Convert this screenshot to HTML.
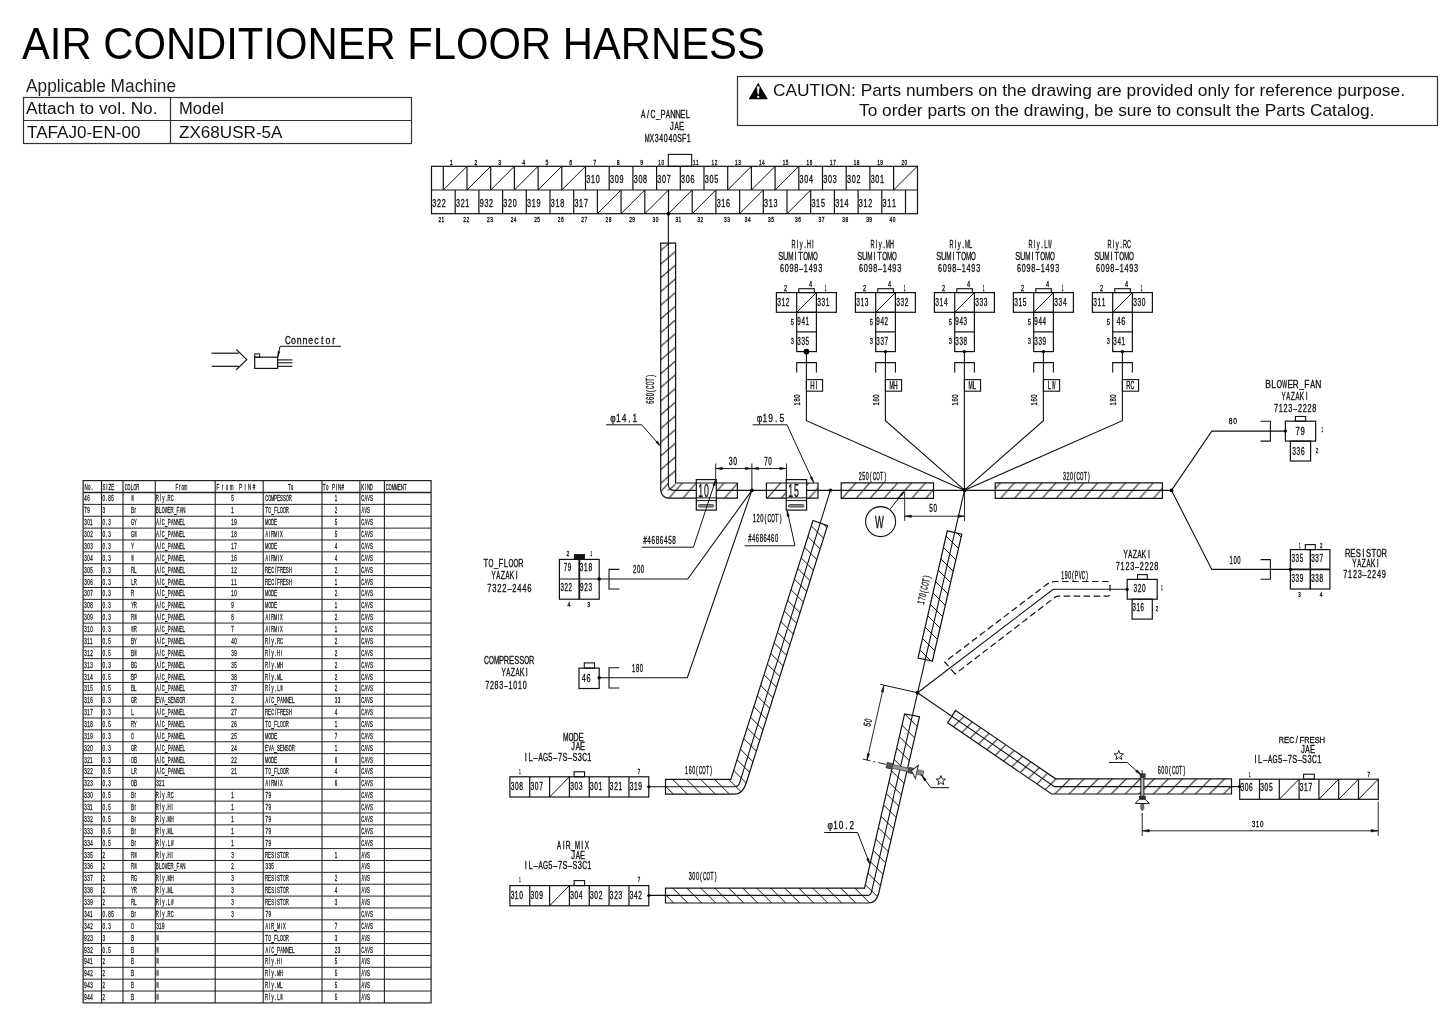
<!DOCTYPE html><html><head><meta charset="utf-8"><title>Air Conditioner Floor Harness</title><style>html,body{margin:0;padding:0;background:#fff;width:1445px;height:1021px;overflow:hidden;}svg{display:block;font-family:"Liberation Sans",sans-serif;will-change:transform;}</style></head><body><svg width="1445" height="1021" viewBox="0 0 1445 1021" font-family="'Liberation Sans', sans-serif" shape-rendering="auto"><defs><pattern id="hA1" patternUnits="userSpaceOnUse" width="16.07" height="13.7" patternTransform="translate(6.27,0)"><path d="M-16.07,13.7 L0,0 M0,13.7 L16.07,0 M16.07,13.7 L32.14,0" stroke="#111" stroke-width="1" fill="none"/></pattern><pattern id="hA2" patternUnits="userSpaceOnUse" width="13.9" height="15.86" patternTransform="translate(7.5,0)"><path d="M-13.9,15.86 L0,0 M0,15.86 L13.9,0 M13.9,15.86 L27.8,0" stroke="#111" stroke-width="1" fill="none"/></pattern><pattern id="hB" patternUnits="userSpaceOnUse" width="13.9" height="15.86" patternTransform="translate(8.5,0)"><path d="M-13.9,15.86 L0,0 M0,15.86 L13.9,0 M13.9,15.86 L27.8,0" stroke="#111" stroke-width="1" fill="none"/></pattern><pattern id="hC" patternUnits="userSpaceOnUse" width="13.9" height="15.86" patternTransform="translate(0.3,0)"><path d="M-13.9,15.86 L0,0 M0,15.86 L13.9,0 M13.9,15.86 L27.8,0" stroke="#111" stroke-width="1" fill="none"/></pattern><pattern id="hD" patternUnits="userSpaceOnUse" width="13.9" height="15.86" patternTransform="translate(5.7,0)"><path d="M-13.9,15.86 L0,0 M0,15.86 L13.9,0 M13.9,15.86 L27.8,0" stroke="#111" stroke-width="1" fill="none"/></pattern><pattern id="hE" patternUnits="userSpaceOnUse" width="14" height="14" patternTransform="translate(5.3,0)"><path d="M-14,0 L0,14 M0,0 L14,14 M14,0 L28,14" stroke="#111" stroke-width="1" fill="none"/></pattern><pattern id="hF" patternUnits="userSpaceOnUse" width="14" height="14" patternTransform="translate(8.7,0)"><path d="M-14,0 L0,14 M0,0 L14,14 M14,0 L28,14" stroke="#111" stroke-width="1" fill="none"/></pattern><pattern id="hG" patternUnits="userSpaceOnUse" width="14" height="14" patternTransform="translate(4,0)"><path d="M-14,0 L0,14 M0,0 L14,14 M14,0 L28,14" stroke="#111" stroke-width="1" fill="none"/></pattern><pattern id="hH" patternUnits="userSpaceOnUse" width="14.05" height="14.05" patternTransform="translate(8.4,0)"><path d="M-14.05,14.05 L0,0 M0,14.05 L14.05,0 M14.05,14.05 L28.1,0" stroke="#111" stroke-width="1" fill="none"/></pattern></defs><rect x="0" y="0" width="1445" height="1021" fill="#fff"/><text x="22" y="58.7" font-size="43.46" textLength="742.8" lengthAdjust="spacingAndGlyphs" fill="#000">AIR CONDITIONER FLOOR HARNESS</text>
<text x="26" y="91.8" font-size="17.73" textLength="150" lengthAdjust="spacingAndGlyphs" fill="#222">Applicable Machine</text>
<rect x="23.5" y="97.5" width="388" height="46" fill="none" stroke="#333" stroke-width="1.2"/>
<line x1="23.5" y1="120.5" x2="411.5" y2="120.5" stroke="#333" stroke-width="1.2"/>
<line x1="170.5" y1="97.5" x2="170.5" y2="143.5" stroke="#333" stroke-width="1.2"/>
<text x="26" y="114.2" font-size="17.3" textLength="131.5" lengthAdjust="spacingAndGlyphs" fill="#111">Attach to vol. No.</text>
<text x="179" y="114.2" font-size="17.3" textLength="45" lengthAdjust="spacingAndGlyphs" fill="#111">Model</text>
<text x="27" y="138.2" font-size="17.15" textLength="113.5" lengthAdjust="spacingAndGlyphs" fill="#111">TAFAJ0-EN-00</text>
<text x="179" y="138.2" font-size="17.15" textLength="103.5" lengthAdjust="spacingAndGlyphs" fill="#111">ZX68USR-5A</text>
<rect x="737.5" y="76.5" width="700" height="49" fill="none" stroke="#333" stroke-width="1.2"/>
<polygon points="749.6,98.7 758.2,84 766.8,98.7" fill="#000" stroke="#000" stroke-width="1.2" stroke-linejoin="miter" stroke-linejoin="round"/>
<polygon points="756.9,86.6 759.5,86.6 758.6,94.2 757.8,94.2" fill="#fff" stroke="#fff" stroke-width="0.3" stroke-linejoin="miter"/>
<circle cx="758.2" cy="96.9" r="1.1" fill="#fff"/>
<text x="773" y="95.6" font-size="15.7" textLength="632" lengthAdjust="spacingAndGlyphs" fill="#111">CAUTION: Parts numbers on the drawing are provided only for reference purpose.</text>
<text x="859" y="116.2" font-size="15.7" textLength="515.5" lengthAdjust="spacingAndGlyphs" fill="#111">To order parts on the drawing, be sure to consult the Parts Catalog.</text>
<text xml:space="preserve" x="975.62 983.18 990.73 998.29 1005.67 1013.39 1020.95 1028.5 1035.83 1043.33" y="118.3" font-size="11.48" text-anchor="middle" fill="#111" transform="scale(0.6592 1)" stroke="#111" stroke-width="0.3" vector-effect="non-scaling-stroke"> /  P NNEL</text><text x="1143.4" y="118.3" font-size="11.48" text-anchor="middle" fill="#111" transform="scale(0.5624 1)" stroke="#111" stroke-width="0.3" vector-effect="non-scaling-stroke">A</text><text x="1108.87" y="118.3" font-size="11.48" text-anchor="middle" fill="#111" transform="scale(0.5889 1)" stroke="#111" stroke-width="0.3" vector-effect="non-scaling-stroke">C</text><text x="1027.83" y="118.3" font-size="11.48" text-anchor="middle" fill="#111" transform="scale(0.6402 1)" stroke="#111" stroke-width="0.3" vector-effect="non-scaling-stroke">_</text><text x="1187.66" y="118.3" font-size="11.48" text-anchor="middle" fill="#111" transform="scale(0.5624 1)" stroke="#111" stroke-width="0.3" vector-effect="non-scaling-stroke">A</text>
<text xml:space="preserve" x="989.48 996.52 1003.66" y="129.8" font-size="11.19" text-anchor="middle" fill="#111" transform="scale(0.6791 1)" stroke="#111" stroke-width="0.3" vector-effect="non-scaling-stroke">J E</text><text x="1167.88" y="129.8" font-size="11.19" text-anchor="middle" fill="#111" transform="scale(0.5794 1)" stroke="#111" stroke-width="0.3" vector-effect="non-scaling-stroke">A</text>
<text xml:space="preserve" x="1033.8 1041.16 1048.56 1055.92 1063.25 1070.65 1077.98 1085.34 1092.47 1099.91" y="142.2" font-size="11.19" text-anchor="middle" fill="#111" transform="scale(0.6262 1)" stroke="#111" stroke-width="0.3" vector-effect="non-scaling-stroke">  34040 F1</text><text x="1222.28" y="142.2" font-size="11.19" text-anchor="middle" fill="#111" transform="scale(0.5296 1)" stroke="#111" stroke-width="0.3" vector-effect="non-scaling-stroke">M</text><text x="1147.42" y="142.2" font-size="11.19" text-anchor="middle" fill="#111" transform="scale(0.5682 1)" stroke="#111" stroke-width="0.3" vector-effect="non-scaling-stroke">X</text><text x="1104.32" y="142.2" font-size="11.19" text-anchor="middle" fill="#111" transform="scale(0.6154 1)" stroke="#111" stroke-width="0.3" vector-effect="non-scaling-stroke">S</text>
<rect x="668.3" y="154.4" width="23.4" height="11.9" fill="none" stroke="#111" stroke-width="1.1"/>
<rect x="431.5" y="166.3" width="486" height="47.4" fill="none" stroke="#111" stroke-width="1.2"/>
<line x1="431.5" y1="190" x2="917.5" y2="190" stroke="#111" stroke-width="1.2"/>
<line x1="443.3" y1="166.3" x2="443.3" y2="190" stroke="#111" stroke-width="1.2"/>
<line x1="443.3" y1="190" x2="467" y2="166.3" stroke="#111" stroke-width="1"/>
<text xml:space="preserve" x="681.08" y="164.7" font-size="7.85" text-anchor="middle" fill="#111" transform="scale(0.6625 1)" stroke="#111" stroke-width="0.3" vector-effect="non-scaling-stroke">1</text>
<line x1="467" y1="166.3" x2="467" y2="190" stroke="#111" stroke-width="1.2"/>
<line x1="467" y1="190" x2="490.7" y2="166.3" stroke="#111" stroke-width="1"/>
<text xml:space="preserve" x="718.47" y="164.7" font-size="7.85" text-anchor="middle" fill="#111" transform="scale(0.6625 1)" stroke="#111" stroke-width="0.3" vector-effect="non-scaling-stroke">2</text>
<line x1="490.7" y1="166.3" x2="490.7" y2="190" stroke="#111" stroke-width="1.2"/>
<line x1="490.7" y1="190" x2="514.4" y2="166.3" stroke="#111" stroke-width="1"/>
<text xml:space="preserve" x="754.27" y="164.7" font-size="7.85" text-anchor="middle" fill="#111" transform="scale(0.6625 1)" stroke="#111" stroke-width="0.3" vector-effect="non-scaling-stroke">3</text>
<line x1="514.4" y1="166.3" x2="514.4" y2="190" stroke="#111" stroke-width="1.2"/>
<line x1="514.4" y1="190" x2="538.1" y2="166.3" stroke="#111" stroke-width="1"/>
<text xml:space="preserve" x="790.34" y="164.7" font-size="7.85" text-anchor="middle" fill="#111" transform="scale(0.6625 1)" stroke="#111" stroke-width="0.3" vector-effect="non-scaling-stroke">4</text>
<line x1="538.1" y1="166.3" x2="538.1" y2="190" stroke="#111" stroke-width="1.2"/>
<line x1="538.1" y1="190" x2="561.8" y2="166.3" stroke="#111" stroke-width="1"/>
<text xml:space="preserve" x="825.64" y="164.7" font-size="7.85" text-anchor="middle" fill="#111" transform="scale(0.6625 1)" stroke="#111" stroke-width="0.3" vector-effect="non-scaling-stroke">5</text>
<line x1="561.8" y1="166.3" x2="561.8" y2="190" stroke="#111" stroke-width="1.2"/>
<line x1="561.8" y1="190" x2="585.5" y2="166.3" stroke="#111" stroke-width="1"/>
<text xml:space="preserve" x="861.53" y="164.7" font-size="7.85" text-anchor="middle" fill="#111" transform="scale(0.6625 1)" stroke="#111" stroke-width="0.3" vector-effect="non-scaling-stroke">6</text>
<line x1="585.5" y1="166.3" x2="585.5" y2="190" stroke="#111" stroke-width="1.2"/>
<text xml:space="preserve" x="868.56 875.37 882.49" y="183.5" font-size="10.61" text-anchor="middle" fill="#111" transform="scale(0.6773 1)" stroke="#111" stroke-width="0.3" vector-effect="non-scaling-stroke">310</text>
<text xml:space="preserve" x="897.48" y="164.7" font-size="7.85" text-anchor="middle" fill="#111" transform="scale(0.6625 1)" stroke="#111" stroke-width="0.3" vector-effect="non-scaling-stroke">7</text>
<line x1="609.2" y1="166.3" x2="609.2" y2="190" stroke="#111" stroke-width="1.2"/>
<text xml:space="preserve" x="903.55 910.5 917.49" y="183.5" font-size="10.61" text-anchor="middle" fill="#111" transform="scale(0.6773 1)" stroke="#111" stroke-width="0.3" vector-effect="non-scaling-stroke">309</text>
<text xml:space="preserve" x="933.26" y="164.7" font-size="7.85" text-anchor="middle" fill="#111" transform="scale(0.6625 1)" stroke="#111" stroke-width="0.3" vector-effect="non-scaling-stroke">8</text>
<line x1="632.9" y1="166.3" x2="632.9" y2="190" stroke="#111" stroke-width="1.2"/>
<text xml:space="preserve" x="938.54 945.49 952.47" y="183.5" font-size="10.61" text-anchor="middle" fill="#111" transform="scale(0.6773 1)" stroke="#111" stroke-width="0.3" vector-effect="non-scaling-stroke">308</text>
<text xml:space="preserve" x="968.73" y="164.7" font-size="7.85" text-anchor="middle" fill="#111" transform="scale(0.6625 1)" stroke="#111" stroke-width="0.3" vector-effect="non-scaling-stroke">9</text>
<line x1="656.6" y1="166.3" x2="656.6" y2="190" stroke="#111" stroke-width="1.2"/>
<text xml:space="preserve" x="973.53 980.48 987.46" y="183.5" font-size="10.61" text-anchor="middle" fill="#111" transform="scale(0.6773 1)" stroke="#111" stroke-width="0.3" vector-effect="non-scaling-stroke">307</text>
<text xml:space="preserve" x="1110.1 1115.37" y="164.7" font-size="7.85" text-anchor="middle" fill="#111" transform="scale(0.5942 1)" stroke="#111" stroke-width="0.3" vector-effect="non-scaling-stroke">10</text>
<line x1="680.3" y1="166.3" x2="680.3" y2="190" stroke="#111" stroke-width="1.2"/>
<text xml:space="preserve" x="1008.52 1015.47 1022.41" y="183.5" font-size="10.61" text-anchor="middle" fill="#111" transform="scale(0.6773 1)" stroke="#111" stroke-width="0.3" vector-effect="non-scaling-stroke">306</text>
<text xml:space="preserve" x="1168.33 1173.5" y="164.7" font-size="7.85" text-anchor="middle" fill="#111" transform="scale(0.5942 1)" stroke="#111" stroke-width="0.3" vector-effect="non-scaling-stroke">11</text>
<line x1="704" y1="166.3" x2="704" y2="190" stroke="#111" stroke-width="1.2"/>
<text xml:space="preserve" x="1043.51 1050.46 1057.45" y="183.5" font-size="10.61" text-anchor="middle" fill="#111" transform="scale(0.6773 1)" stroke="#111" stroke-width="0.3" vector-effect="non-scaling-stroke">305</text>
<text xml:space="preserve" x="1199.8 1205.08" y="164.7" font-size="7.85" text-anchor="middle" fill="#111" transform="scale(0.5942 1)" stroke="#111" stroke-width="0.3" vector-effect="non-scaling-stroke">12</text>
<line x1="727.7" y1="166.3" x2="727.7" y2="190" stroke="#111" stroke-width="1.2"/>
<line x1="727.7" y1="190" x2="751.4" y2="166.3" stroke="#111" stroke-width="1"/>
<text xml:space="preserve" x="1239.19 1244.48" y="164.7" font-size="7.85" text-anchor="middle" fill="#111" transform="scale(0.5942 1)" stroke="#111" stroke-width="0.3" vector-effect="non-scaling-stroke">13</text>
<line x1="751.4" y1="166.3" x2="751.4" y2="190" stroke="#111" stroke-width="1.2"/>
<line x1="751.4" y1="190" x2="775.1" y2="166.3" stroke="#111" stroke-width="1"/>
<text xml:space="preserve" x="1279.41 1284.71" y="164.7" font-size="7.85" text-anchor="middle" fill="#111" transform="scale(0.5942 1)" stroke="#111" stroke-width="0.3" vector-effect="non-scaling-stroke">14</text>
<line x1="775.1" y1="166.3" x2="775.1" y2="190" stroke="#111" stroke-width="1.2"/>
<line x1="775.1" y1="190" x2="798.8" y2="166.3" stroke="#111" stroke-width="1"/>
<text xml:space="preserve" x="1319.47 1324.74" y="164.7" font-size="7.85" text-anchor="middle" fill="#111" transform="scale(0.5942 1)" stroke="#111" stroke-width="0.3" vector-effect="non-scaling-stroke">15</text>
<line x1="798.8" y1="166.3" x2="798.8" y2="190" stroke="#111" stroke-width="1.2"/>
<text xml:space="preserve" x="1183.47 1190.42 1197.43" y="183.5" font-size="10.61" text-anchor="middle" fill="#111" transform="scale(0.6773 1)" stroke="#111" stroke-width="0.3" vector-effect="non-scaling-stroke">304</text>
<text xml:space="preserve" x="1359.69 1364.93" y="164.7" font-size="7.85" text-anchor="middle" fill="#111" transform="scale(0.5942 1)" stroke="#111" stroke-width="0.3" vector-effect="non-scaling-stroke">16</text>
<line x1="822.5" y1="166.3" x2="822.5" y2="190" stroke="#111" stroke-width="1.2"/>
<text xml:space="preserve" x="1218.46 1225.41 1232.42" y="183.5" font-size="10.61" text-anchor="middle" fill="#111" transform="scale(0.6773 1)" stroke="#111" stroke-width="0.3" vector-effect="non-scaling-stroke">303</text>
<text xml:space="preserve" x="1399.07 1404.34" y="164.7" font-size="7.85" text-anchor="middle" fill="#111" transform="scale(0.5942 1)" stroke="#111" stroke-width="0.3" vector-effect="non-scaling-stroke">17</text>
<line x1="846.2" y1="166.3" x2="846.2" y2="190" stroke="#111" stroke-width="1.2"/>
<text xml:space="preserve" x="1253.45 1260.4 1267.38" y="183.5" font-size="10.61" text-anchor="middle" fill="#111" transform="scale(0.6773 1)" stroke="#111" stroke-width="0.3" vector-effect="non-scaling-stroke">302</text>
<text xml:space="preserve" x="1438.96 1444.23" y="164.7" font-size="7.85" text-anchor="middle" fill="#111" transform="scale(0.5942 1)" stroke="#111" stroke-width="0.3" vector-effect="non-scaling-stroke">18</text>
<line x1="869.9" y1="166.3" x2="869.9" y2="190" stroke="#111" stroke-width="1.2"/>
<text xml:space="preserve" x="1288.44 1295.39 1302.22" y="183.5" font-size="10.61" text-anchor="middle" fill="#111" transform="scale(0.6773 1)" stroke="#111" stroke-width="0.3" vector-effect="non-scaling-stroke">301</text>
<text xml:space="preserve" x="1478.51 1483.78" y="164.7" font-size="7.85" text-anchor="middle" fill="#111" transform="scale(0.5942 1)" stroke="#111" stroke-width="0.3" vector-effect="non-scaling-stroke">19</text>
<line x1="893.6" y1="166.3" x2="893.6" y2="190" stroke="#111" stroke-width="1.2"/>
<line x1="893.6" y1="190" x2="917.3" y2="166.3" stroke="#111" stroke-width="1"/>
<text xml:space="preserve" x="1519.34 1524.51" y="164.7" font-size="7.85" text-anchor="middle" fill="#111" transform="scale(0.5942 1)" stroke="#111" stroke-width="0.3" vector-effect="non-scaling-stroke">20</text>
<text xml:space="preserve" x="641.21 648.15 655.14" y="206.8" font-size="10.61" text-anchor="middle" fill="#111" transform="scale(0.6773 1)" stroke="#111" stroke-width="0.3" vector-effect="non-scaling-stroke">322</text>
<text xml:space="preserve" x="713.76 718.81" y="222.3" font-size="7.85" text-anchor="middle" fill="#111" transform="scale(0.6162 1)" stroke="#111" stroke-width="0.3" vector-effect="non-scaling-stroke">21</text>
<line x1="455.2" y1="190" x2="455.2" y2="213.7" stroke="#111" stroke-width="1.2"/>
<text xml:space="preserve" x="676.19 683.14 689.98" y="206.8" font-size="10.61" text-anchor="middle" fill="#111" transform="scale(0.6773 1)" stroke="#111" stroke-width="0.3" vector-effect="non-scaling-stroke">321</text>
<text xml:space="preserve" x="754 759.17" y="222.3" font-size="7.85" text-anchor="middle" fill="#111" transform="scale(0.6162 1)" stroke="#111" stroke-width="0.3" vector-effect="non-scaling-stroke">22</text>
<line x1="478.9" y1="190" x2="478.9" y2="213.7" stroke="#111" stroke-width="1.2"/>
<text xml:space="preserve" x="711.16 718.16 725.11" y="206.8" font-size="10.61" text-anchor="middle" fill="#111" transform="scale(0.6773 1)" stroke="#111" stroke-width="0.3" vector-effect="non-scaling-stroke">932</text>
<text xml:space="preserve" x="792.47 797.65" y="222.3" font-size="7.85" text-anchor="middle" fill="#111" transform="scale(0.6162 1)" stroke="#111" stroke-width="0.3" vector-effect="non-scaling-stroke">23</text>
<line x1="502.6" y1="190" x2="502.6" y2="213.7" stroke="#111" stroke-width="1.2"/>
<text xml:space="preserve" x="746.17 753.12 760.1" y="206.8" font-size="10.61" text-anchor="middle" fill="#111" transform="scale(0.6773 1)" stroke="#111" stroke-width="0.3" vector-effect="non-scaling-stroke">320</text>
<text xml:space="preserve" x="830.93 836.12" y="222.3" font-size="7.85" text-anchor="middle" fill="#111" transform="scale(0.6162 1)" stroke="#111" stroke-width="0.3" vector-effect="non-scaling-stroke">24</text>
<line x1="526.3" y1="190" x2="526.3" y2="213.7" stroke="#111" stroke-width="1.2"/>
<text xml:space="preserve" x="781.16 787.97 795.1" y="206.8" font-size="10.61" text-anchor="middle" fill="#111" transform="scale(0.6773 1)" stroke="#111" stroke-width="0.3" vector-effect="non-scaling-stroke">319</text>
<text xml:space="preserve" x="869.07 874.24" y="222.3" font-size="7.85" text-anchor="middle" fill="#111" transform="scale(0.6162 1)" stroke="#111" stroke-width="0.3" vector-effect="non-scaling-stroke">25</text>
<line x1="550" y1="190" x2="550" y2="213.7" stroke="#111" stroke-width="1.2"/>
<text xml:space="preserve" x="816.15 822.96 830.08" y="206.8" font-size="10.61" text-anchor="middle" fill="#111" transform="scale(0.6773 1)" stroke="#111" stroke-width="0.3" vector-effect="non-scaling-stroke">318</text>
<text xml:space="preserve" x="907.53 912.67" y="222.3" font-size="7.85" text-anchor="middle" fill="#111" transform="scale(0.6162 1)" stroke="#111" stroke-width="0.3" vector-effect="non-scaling-stroke">26</text>
<line x1="573.7" y1="190" x2="573.7" y2="213.7" stroke="#111" stroke-width="1.2"/>
<text xml:space="preserve" x="851.14 857.95 865.07" y="206.8" font-size="10.61" text-anchor="middle" fill="#111" transform="scale(0.6773 1)" stroke="#111" stroke-width="0.3" vector-effect="non-scaling-stroke">317</text>
<text xml:space="preserve" x="945.5 950.66" y="222.3" font-size="7.85" text-anchor="middle" fill="#111" transform="scale(0.6162 1)" stroke="#111" stroke-width="0.3" vector-effect="non-scaling-stroke">27</text>
<line x1="597.4" y1="190" x2="597.4" y2="213.7" stroke="#111" stroke-width="1.2"/>
<line x1="597.4" y1="213.7" x2="621.1" y2="190" stroke="#111" stroke-width="1"/>
<text xml:space="preserve" x="984.78 989.94" y="222.3" font-size="7.85" text-anchor="middle" fill="#111" transform="scale(0.6162 1)" stroke="#111" stroke-width="0.3" vector-effect="non-scaling-stroke">28</text>
<line x1="621.1" y1="190" x2="621.1" y2="213.7" stroke="#111" stroke-width="1.2"/>
<line x1="621.1" y1="213.7" x2="644.8" y2="190" stroke="#111" stroke-width="1"/>
<text xml:space="preserve" x="1023.24 1028.41" y="222.3" font-size="7.85" text-anchor="middle" fill="#111" transform="scale(0.6162 1)" stroke="#111" stroke-width="0.3" vector-effect="non-scaling-stroke">29</text>
<line x1="644.8" y1="190" x2="644.8" y2="213.7" stroke="#111" stroke-width="1.2"/>
<line x1="644.8" y1="213.7" x2="668.5" y2="190" stroke="#111" stroke-width="1"/>
<text xml:space="preserve" x="1061.08 1066.22" y="222.3" font-size="7.85" text-anchor="middle" fill="#111" transform="scale(0.6162 1)" stroke="#111" stroke-width="0.3" vector-effect="non-scaling-stroke">30</text>
<line x1="668.5" y1="190" x2="668.5" y2="213.7" stroke="#111" stroke-width="1.2"/>
<line x1="668.5" y1="213.7" x2="692.2" y2="190" stroke="#111" stroke-width="1"/>
<text xml:space="preserve" x="1098.24 1103.27" y="222.3" font-size="7.85" text-anchor="middle" fill="#111" transform="scale(0.6162 1)" stroke="#111" stroke-width="0.3" vector-effect="non-scaling-stroke">31</text>
<line x1="692.2" y1="190" x2="692.2" y2="213.7" stroke="#111" stroke-width="1.2"/>
<line x1="692.2" y1="213.7" x2="715.9" y2="190" stroke="#111" stroke-width="1"/>
<text xml:space="preserve" x="1133.94 1139.08" y="222.3" font-size="7.85" text-anchor="middle" fill="#111" transform="scale(0.6162 1)" stroke="#111" stroke-width="0.3" vector-effect="non-scaling-stroke">32</text>
<line x1="715.9" y1="190" x2="715.9" y2="213.7" stroke="#111" stroke-width="1.2"/>
<text xml:space="preserve" x="1061.08 1067.88 1074.97" y="206.8" font-size="10.61" text-anchor="middle" fill="#111" transform="scale(0.6773 1)" stroke="#111" stroke-width="0.3" vector-effect="non-scaling-stroke">316</text>
<text xml:space="preserve" x="1177.11 1182.28" y="222.3" font-size="7.85" text-anchor="middle" fill="#111" transform="scale(0.6162 1)" stroke="#111" stroke-width="0.3" vector-effect="non-scaling-stroke">33</text>
<line x1="739.6" y1="190" x2="739.6" y2="213.7" stroke="#111" stroke-width="1.2"/>
<line x1="739.6" y1="213.7" x2="763.3" y2="190" stroke="#111" stroke-width="1"/>
<text xml:space="preserve" x="1210.87 1216.03" y="222.3" font-size="7.85" text-anchor="middle" fill="#111" transform="scale(0.6162 1)" stroke="#111" stroke-width="0.3" vector-effect="non-scaling-stroke">34</text>
<line x1="763.3" y1="190" x2="763.3" y2="213.7" stroke="#111" stroke-width="1.2"/>
<text xml:space="preserve" x="1131.06 1137.86 1145.02" y="206.8" font-size="10.61" text-anchor="middle" fill="#111" transform="scale(0.6773 1)" stroke="#111" stroke-width="0.3" vector-effect="non-scaling-stroke">313</text>
<text xml:space="preserve" x="1248.52 1253.67" y="222.3" font-size="7.85" text-anchor="middle" fill="#111" transform="scale(0.6162 1)" stroke="#111" stroke-width="0.3" vector-effect="non-scaling-stroke">35</text>
<line x1="787" y1="190" x2="787" y2="213.7" stroke="#111" stroke-width="1.2"/>
<line x1="787" y1="213.7" x2="810.7" y2="190" stroke="#111" stroke-width="1"/>
<text xml:space="preserve" x="1292.34 1297.45" y="222.3" font-size="7.85" text-anchor="middle" fill="#111" transform="scale(0.6162 1)" stroke="#111" stroke-width="0.3" vector-effect="non-scaling-stroke">36</text>
<line x1="810.7" y1="190" x2="810.7" y2="213.7" stroke="#111" stroke-width="1.2"/>
<text xml:space="preserve" x="1201.04 1207.84 1214.98" y="206.8" font-size="10.61" text-anchor="middle" fill="#111" transform="scale(0.6773 1)" stroke="#111" stroke-width="0.3" vector-effect="non-scaling-stroke">315</text>
<text xml:space="preserve" x="1330.47 1335.61" y="222.3" font-size="7.85" text-anchor="middle" fill="#111" transform="scale(0.6162 1)" stroke="#111" stroke-width="0.3" vector-effect="non-scaling-stroke">37</text>
<line x1="834.4" y1="190" x2="834.4" y2="213.7" stroke="#111" stroke-width="1.2"/>
<text xml:space="preserve" x="1236.03 1242.83 1249.99" y="206.8" font-size="10.61" text-anchor="middle" fill="#111" transform="scale(0.6773 1)" stroke="#111" stroke-width="0.3" vector-effect="non-scaling-stroke">314</text>
<text xml:space="preserve" x="1369.1 1374.24" y="222.3" font-size="7.85" text-anchor="middle" fill="#111" transform="scale(0.6162 1)" stroke="#111" stroke-width="0.3" vector-effect="non-scaling-stroke">38</text>
<line x1="858.1" y1="190" x2="858.1" y2="213.7" stroke="#111" stroke-width="1.2"/>
<text xml:space="preserve" x="1271.02 1277.82 1284.95" y="206.8" font-size="10.61" text-anchor="middle" fill="#111" transform="scale(0.6773 1)" stroke="#111" stroke-width="0.3" vector-effect="non-scaling-stroke">312</text>
<text xml:space="preserve" x="1407.89 1413.03" y="222.3" font-size="7.85" text-anchor="middle" fill="#111" transform="scale(0.6162 1)" stroke="#111" stroke-width="0.3" vector-effect="non-scaling-stroke">39</text>
<line x1="881.8" y1="190" x2="881.8" y2="213.7" stroke="#111" stroke-width="1.2"/>
<text xml:space="preserve" x="1306.01 1312.81 1319.79" y="206.8" font-size="10.61" text-anchor="middle" fill="#111" transform="scale(0.6773 1)" stroke="#111" stroke-width="0.3" vector-effect="non-scaling-stroke">311</text>
<text xml:space="preserve" x="1445.86 1451" y="222.3" font-size="7.85" text-anchor="middle" fill="#111" transform="scale(0.6162 1)" stroke="#111" stroke-width="0.3" vector-effect="non-scaling-stroke">40</text>
<line x1="905.5" y1="190" x2="905.5" y2="213.7" stroke="#111" stroke-width="1.2"/>
<circle cx="668.5" cy="213.7" r="1.9" fill="#000"/>
<text xml:space="preserve" x="1555.42 1562.97 1570.52 1578.08 1585.63 1593.19" y="248.5" font-size="11.48" text-anchor="middle" fill="#111" transform="scale(0.5102 1)" stroke="#111" stroke-width="0.3" vector-effect="non-scaling-stroke"> ly.HI</text><text x="1632.08" y="248.5" font-size="11.48" text-anchor="middle" fill="#111" transform="scale(0.4862 1)" stroke="#111" stroke-width="0.3" vector-effect="non-scaling-stroke">R</text>
<text xml:space="preserve" x="1180.07 1187.53 1194.99 1202.44 1209.91 1217.36 1224.82 1232.28" y="260" font-size="11.34" text-anchor="middle" fill="#111" transform="scale(0.6617 1)" stroke="#111" stroke-width="0.3" vector-effect="non-scaling-stroke">   IT   </text><text x="1200.71" y="260" font-size="11.34" text-anchor="middle" fill="#111" transform="scale(0.6503 1)" stroke="#111" stroke-width="0.3" vector-effect="non-scaling-stroke">S</text><text x="1191.9" y="260" font-size="11.34" text-anchor="middle" fill="#111" transform="scale(0.6593 1)" stroke="#111" stroke-width="0.3" vector-effect="non-scaling-stroke">U</text><text x="1412.86" y="260" font-size="11.34" text-anchor="middle" fill="#111" transform="scale(0.5597 1)" stroke="#111" stroke-width="0.3" vector-effect="non-scaling-stroke">M</text><text x="1468.73" y="260" font-size="11.34" text-anchor="middle" fill="#111" transform="scale(0.5485 1)" stroke="#111" stroke-width="0.3" vector-effect="non-scaling-stroke">O</text><text x="1448.13" y="260" font-size="11.34" text-anchor="middle" fill="#111" transform="scale(0.5597 1)" stroke="#111" stroke-width="0.3" vector-effect="non-scaling-stroke">M</text><text x="1486.73" y="260" font-size="11.34" text-anchor="middle" fill="#111" transform="scale(0.5485 1)" stroke="#111" stroke-width="0.3" vector-effect="non-scaling-stroke">O</text>
<text xml:space="preserve" x="1241.13 1248.72 1256.28 1263.83 1271.39 1278.78 1286.53 1294.05 1301.64" y="272.3" font-size="11.48" text-anchor="middle" fill="#111" transform="scale(0.6301 1)" stroke="#111" stroke-width="0.3" vector-effect="non-scaling-stroke">6098–1493</text>
<rect x="776.4" y="292.6" width="60" height="19.7" fill="none" stroke="#111" stroke-width="1.2"/>
<line x1="796.7" y1="292.6" x2="796.7" y2="312.3" stroke="#111" stroke-width="1.2"/>
<line x1="816.4" y1="292.6" x2="816.4" y2="312.3" stroke="#111" stroke-width="1.2"/>
<rect x="798.8" y="288.7" width="15.5" height="3.9" fill="none" stroke="#111" stroke-width="1.1"/>
<line x1="796.7" y1="312.3" x2="816.4" y2="292.6" stroke="#111" stroke-width="1"/>
<text xml:space="preserve" x="1267.96 1274.86 1282.08" y="305.7" font-size="10.76" text-anchor="middle" fill="#111" transform="scale(0.6144 1)" stroke="#111" stroke-width="0.3" vector-effect="non-scaling-stroke">312</text>
<text xml:space="preserve" x="1333.06 1340.14 1347.03" y="305.7" font-size="10.76" text-anchor="middle" fill="#111" transform="scale(0.6144 1)" stroke="#111" stroke-width="0.3" vector-effect="non-scaling-stroke">331</text>
<rect x="796.7" y="312.3" width="19.7" height="39.3" fill="none" stroke="#111" stroke-width="1.2"/>
<line x1="796.7" y1="331.9" x2="816.4" y2="331.9" stroke="#111" stroke-width="1.2"/>
<text xml:space="preserve" x="1368.96 1376.06 1382.96" y="325.3" font-size="10.76" text-anchor="middle" fill="#111" transform="scale(0.5837 1)" stroke="#111" stroke-width="0.3" vector-effect="non-scaling-stroke">941</text>
<text xml:space="preserve" x="1368.98 1376.06 1383.12" y="344.7" font-size="10.76" text-anchor="middle" fill="#111" transform="scale(0.5837 1)" stroke="#111" stroke-width="0.3" vector-effect="non-scaling-stroke">335</text>
<text xml:space="preserve" x="1141.86" y="291" font-size="8.14" text-anchor="middle" fill="#111" transform="scale(0.6880 1)" stroke="#111" stroke-width="0.3" vector-effect="non-scaling-stroke">2</text>
<text xml:space="preserve" x="1178.22" y="286.6" font-size="8.14" text-anchor="middle" fill="#111" transform="scale(0.6880 1)" stroke="#111" stroke-width="0.3" vector-effect="non-scaling-stroke">4</text>
<text xml:space="preserve" x="2399.89" y="291.5" font-size="8.14" text-anchor="middle" fill="#111" transform="scale(0.3440 1)" stroke="#111" stroke-width="0.3" vector-effect="non-scaling-stroke">1</text>
<text xml:space="preserve" x="1151.61" y="324.8" font-size="8.14" text-anchor="middle" fill="#111" transform="scale(0.6880 1)" stroke="#111" stroke-width="0.3" vector-effect="non-scaling-stroke">5</text>
<text xml:space="preserve" x="1151.62" y="343.6" font-size="8.14" text-anchor="middle" fill="#111" transform="scale(0.6880 1)" stroke="#111" stroke-width="0.3" vector-effect="non-scaling-stroke">3</text>
<circle cx="806.4" cy="351.6" r="2.9" fill="#000"/>
<polyline points="796.7,372.5 796.7,362.6 816.4,362.6 816.4,372.5" fill="none" stroke="#111" stroke-width="1.1" stroke-linejoin="miter"/>
<rect x="806.4" y="379.6" width="16.2" height="11.6" fill="none" stroke="#111" stroke-width="1.1"/>
<text xml:space="preserve" x="1367.44 1374.14" y="388.9" font-size="10.17" text-anchor="middle" fill="#111" transform="scale(0.5942 1)" stroke="#111" stroke-width="0.3" vector-effect="non-scaling-stroke">HI</text>
<g transform="rotate(-90 796.9 400)"><text xml:space="preserve" x="1235.84 1241.89 1247.82" y="403.1" font-size="9.01" text-anchor="middle" fill="#111" transform="scale(0.6417 1)" stroke="#111" stroke-width="0.3" vector-effect="non-scaling-stroke">180</text></g>
<text xml:space="preserve" x="1710.26 1717.81 1725.37 1732.92 1740.48 1748.03" y="248.5" font-size="11.48" text-anchor="middle" fill="#111" transform="scale(0.5102 1)" stroke="#111" stroke-width="0.3" vector-effect="non-scaling-stroke"> ly. H</text><text x="1794.57" y="248.5" font-size="11.48" text-anchor="middle" fill="#111" transform="scale(0.4862 1)" stroke="#111" stroke-width="0.3" vector-effect="non-scaling-stroke">R</text><text x="2057.8" y="248.5" font-size="11.48" text-anchor="middle" fill="#111" transform="scale(0.4315 1)" stroke="#111" stroke-width="0.3" vector-effect="non-scaling-stroke">M</text>
<text xml:space="preserve" x="1299.45 1306.91 1314.37 1321.83 1329.29 1336.75 1344.21 1351.67" y="260" font-size="11.34" text-anchor="middle" fill="#111" transform="scale(0.6617 1)" stroke="#111" stroke-width="0.3" vector-effect="non-scaling-stroke">   IT   </text><text x="1322.18" y="260" font-size="11.34" text-anchor="middle" fill="#111" transform="scale(0.6503 1)" stroke="#111" stroke-width="0.3" vector-effect="non-scaling-stroke">S</text><text x="1311.72" y="260" font-size="11.34" text-anchor="middle" fill="#111" transform="scale(0.6593 1)" stroke="#111" stroke-width="0.3" vector-effect="non-scaling-stroke">U</text><text x="1554.01" y="260" font-size="11.34" text-anchor="middle" fill="#111" transform="scale(0.5597 1)" stroke="#111" stroke-width="0.3" vector-effect="non-scaling-stroke">M</text><text x="1612.77" y="260" font-size="11.34" text-anchor="middle" fill="#111" transform="scale(0.5485 1)" stroke="#111" stroke-width="0.3" vector-effect="non-scaling-stroke">O</text><text x="1589.29" y="260" font-size="11.34" text-anchor="middle" fill="#111" transform="scale(0.5597 1)" stroke="#111" stroke-width="0.3" vector-effect="non-scaling-stroke">M</text><text x="1630.77" y="260" font-size="11.34" text-anchor="middle" fill="#111" transform="scale(0.5485 1)" stroke="#111" stroke-width="0.3" vector-effect="non-scaling-stroke">O</text>
<text xml:space="preserve" x="1366.5 1374.09 1381.65 1389.2 1396.76 1404.15 1411.9 1419.42 1427" y="272.3" font-size="11.48" text-anchor="middle" fill="#111" transform="scale(0.6301 1)" stroke="#111" stroke-width="0.3" vector-effect="non-scaling-stroke">6098–1493</text>
<rect x="855.4" y="292.6" width="60" height="19.7" fill="none" stroke="#111" stroke-width="1.2"/>
<line x1="875.7" y1="292.6" x2="875.7" y2="312.3" stroke="#111" stroke-width="1.2"/>
<line x1="895.4" y1="292.6" x2="895.4" y2="312.3" stroke="#111" stroke-width="1.2"/>
<rect x="877.8" y="288.7" width="15.5" height="3.9" fill="none" stroke="#111" stroke-width="1.1"/>
<line x1="875.7" y1="312.3" x2="895.4" y2="292.6" stroke="#111" stroke-width="1"/>
<text xml:space="preserve" x="1396.53 1403.43 1410.68" y="305.7" font-size="10.76" text-anchor="middle" fill="#111" transform="scale(0.6144 1)" stroke="#111" stroke-width="0.3" vector-effect="non-scaling-stroke">313</text>
<text xml:space="preserve" x="1461.63 1468.71 1475.75" y="305.7" font-size="10.76" text-anchor="middle" fill="#111" transform="scale(0.6144 1)" stroke="#111" stroke-width="0.3" vector-effect="non-scaling-stroke">332</text>
<rect x="875.7" y="312.3" width="19.7" height="39.3" fill="none" stroke="#111" stroke-width="1.2"/>
<line x1="875.7" y1="331.9" x2="895.4" y2="331.9" stroke="#111" stroke-width="1.2"/>
<text xml:space="preserve" x="1504.3 1511.4 1518.45" y="325.3" font-size="10.76" text-anchor="middle" fill="#111" transform="scale(0.5837 1)" stroke="#111" stroke-width="0.3" vector-effect="non-scaling-stroke">942</text>
<text xml:space="preserve" x="1504.33 1511.4 1518.44" y="344.7" font-size="10.76" text-anchor="middle" fill="#111" transform="scale(0.5837 1)" stroke="#111" stroke-width="0.3" vector-effect="non-scaling-stroke">337</text>
<text xml:space="preserve" x="1256.69" y="291" font-size="8.14" text-anchor="middle" fill="#111" transform="scale(0.6880 1)" stroke="#111" stroke-width="0.3" vector-effect="non-scaling-stroke">2</text>
<text xml:space="preserve" x="1293.05" y="286.6" font-size="8.14" text-anchor="middle" fill="#111" transform="scale(0.6880 1)" stroke="#111" stroke-width="0.3" vector-effect="non-scaling-stroke">4</text>
<text xml:space="preserve" x="2629.54" y="291.5" font-size="8.14" text-anchor="middle" fill="#111" transform="scale(0.3440 1)" stroke="#111" stroke-width="0.3" vector-effect="non-scaling-stroke">1</text>
<text xml:space="preserve" x="1266.43" y="324.8" font-size="8.14" text-anchor="middle" fill="#111" transform="scale(0.6880 1)" stroke="#111" stroke-width="0.3" vector-effect="non-scaling-stroke">5</text>
<text xml:space="preserve" x="1266.45" y="343.6" font-size="8.14" text-anchor="middle" fill="#111" transform="scale(0.6880 1)" stroke="#111" stroke-width="0.3" vector-effect="non-scaling-stroke">3</text>
<circle cx="885.4" cy="351.6" r="1.7" fill="#000"/>
<polyline points="875.7,372.5 875.7,362.6 895.4,362.6 895.4,372.5" fill="none" stroke="#111" stroke-width="1.1" stroke-linejoin="miter"/>
<rect x="885.4" y="379.6" width="16.2" height="11.6" fill="none" stroke="#111" stroke-width="1.1"/>
<text xml:space="preserve" x="1500.4 1507.09" y="388.9" font-size="10.17" text-anchor="middle" fill="#111" transform="scale(0.5942 1)" stroke="#111" stroke-width="0.3" vector-effect="non-scaling-stroke"> H</text><text x="1773.96" y="388.9" font-size="10.17" text-anchor="middle" fill="#111" transform="scale(0.5026 1)" stroke="#111" stroke-width="0.3" vector-effect="non-scaling-stroke">M</text>
<g transform="rotate(-90 875.9 400)"><text xml:space="preserve" x="1358.95 1364.97 1370.93" y="403.1" font-size="9.01" text-anchor="middle" fill="#111" transform="scale(0.6417 1)" stroke="#111" stroke-width="0.3" vector-effect="non-scaling-stroke">160</text></g>
<text xml:space="preserve" x="1865.1 1872.65 1880.21 1887.77 1895.32 1902.59" y="248.5" font-size="11.48" text-anchor="middle" fill="#111" transform="scale(0.5102 1)" stroke="#111" stroke-width="0.3" vector-effect="non-scaling-stroke"> ly. L</text><text x="1957.07" y="248.5" font-size="11.48" text-anchor="middle" fill="#111" transform="scale(0.4862 1)" stroke="#111" stroke-width="0.3" vector-effect="non-scaling-stroke">R</text><text x="2240.88" y="248.5" font-size="11.48" text-anchor="middle" fill="#111" transform="scale(0.4315 1)" stroke="#111" stroke-width="0.3" vector-effect="non-scaling-stroke">M</text>
<text xml:space="preserve" x="1418.84 1426.3 1433.76 1441.22 1448.68 1456.13 1463.59 1471.05" y="260" font-size="11.34" text-anchor="middle" fill="#111" transform="scale(0.6617 1)" stroke="#111" stroke-width="0.3" vector-effect="non-scaling-stroke">   IT   </text><text x="1443.65" y="260" font-size="11.34" text-anchor="middle" fill="#111" transform="scale(0.6503 1)" stroke="#111" stroke-width="0.3" vector-effect="non-scaling-stroke">S</text><text x="1431.55" y="260" font-size="11.34" text-anchor="middle" fill="#111" transform="scale(0.6593 1)" stroke="#111" stroke-width="0.3" vector-effect="non-scaling-stroke">U</text><text x="1695.16" y="260" font-size="11.34" text-anchor="middle" fill="#111" transform="scale(0.5597 1)" stroke="#111" stroke-width="0.3" vector-effect="non-scaling-stroke">M</text><text x="1756.81" y="260" font-size="11.34" text-anchor="middle" fill="#111" transform="scale(0.5485 1)" stroke="#111" stroke-width="0.3" vector-effect="non-scaling-stroke">O</text><text x="1730.44" y="260" font-size="11.34" text-anchor="middle" fill="#111" transform="scale(0.5597 1)" stroke="#111" stroke-width="0.3" vector-effect="non-scaling-stroke">M</text><text x="1774.81" y="260" font-size="11.34" text-anchor="middle" fill="#111" transform="scale(0.5485 1)" stroke="#111" stroke-width="0.3" vector-effect="non-scaling-stroke">O</text>
<text xml:space="preserve" x="1491.87 1499.46 1507.02 1514.57 1522.13 1529.52 1537.27 1544.79 1552.37" y="272.3" font-size="11.48" text-anchor="middle" fill="#111" transform="scale(0.6301 1)" stroke="#111" stroke-width="0.3" vector-effect="non-scaling-stroke">6098–1493</text>
<rect x="934.4" y="292.6" width="60" height="19.7" fill="none" stroke="#111" stroke-width="1.2"/>
<line x1="954.7" y1="292.6" x2="954.7" y2="312.3" stroke="#111" stroke-width="1.2"/>
<line x1="974.4" y1="292.6" x2="974.4" y2="312.3" stroke="#111" stroke-width="1.2"/>
<rect x="956.8" y="288.7" width="15.5" height="3.9" fill="none" stroke="#111" stroke-width="1.1"/>
<line x1="954.7" y1="312.3" x2="974.4" y2="292.6" stroke="#111" stroke-width="1"/>
<text xml:space="preserve" x="1525.11 1532 1539.26" y="305.7" font-size="10.76" text-anchor="middle" fill="#111" transform="scale(0.6144 1)" stroke="#111" stroke-width="0.3" vector-effect="non-scaling-stroke">314</text>
<text xml:space="preserve" x="1590.21 1597.28 1604.36" y="305.7" font-size="10.76" text-anchor="middle" fill="#111" transform="scale(0.6144 1)" stroke="#111" stroke-width="0.3" vector-effect="non-scaling-stroke">333</text>
<rect x="954.7" y="312.3" width="19.7" height="39.3" fill="none" stroke="#111" stroke-width="1.2"/>
<line x1="954.7" y1="331.9" x2="974.4" y2="331.9" stroke="#111" stroke-width="1.2"/>
<text xml:space="preserve" x="1639.64 1646.75 1653.82" y="325.3" font-size="10.76" text-anchor="middle" fill="#111" transform="scale(0.5837 1)" stroke="#111" stroke-width="0.3" vector-effect="non-scaling-stroke">943</text>
<text xml:space="preserve" x="1639.67 1646.74 1653.79" y="344.7" font-size="10.76" text-anchor="middle" fill="#111" transform="scale(0.5837 1)" stroke="#111" stroke-width="0.3" vector-effect="non-scaling-stroke">338</text>
<text xml:space="preserve" x="1371.51" y="291" font-size="8.14" text-anchor="middle" fill="#111" transform="scale(0.6880 1)" stroke="#111" stroke-width="0.3" vector-effect="non-scaling-stroke">2</text>
<text xml:space="preserve" x="1407.87" y="286.6" font-size="8.14" text-anchor="middle" fill="#111" transform="scale(0.6880 1)" stroke="#111" stroke-width="0.3" vector-effect="non-scaling-stroke">4</text>
<text xml:space="preserve" x="2859.19" y="291.5" font-size="8.14" text-anchor="middle" fill="#111" transform="scale(0.3440 1)" stroke="#111" stroke-width="0.3" vector-effect="non-scaling-stroke">1</text>
<text xml:space="preserve" x="1381.26" y="324.8" font-size="8.14" text-anchor="middle" fill="#111" transform="scale(0.6880 1)" stroke="#111" stroke-width="0.3" vector-effect="non-scaling-stroke">5</text>
<text xml:space="preserve" x="1381.27" y="343.6" font-size="8.14" text-anchor="middle" fill="#111" transform="scale(0.6880 1)" stroke="#111" stroke-width="0.3" vector-effect="non-scaling-stroke">3</text>
<circle cx="964.4" cy="351.6" r="1.7" fill="#000"/>
<polyline points="954.7,372.5 954.7,362.6 974.4,362.6 974.4,372.5" fill="none" stroke="#111" stroke-width="1.1" stroke-linejoin="miter"/>
<rect x="964.4" y="379.6" width="16.2" height="11.6" fill="none" stroke="#111" stroke-width="1.1"/>
<text xml:space="preserve" x="1633.36 1639.8" y="388.9" font-size="10.17" text-anchor="middle" fill="#111" transform="scale(0.5942 1)" stroke="#111" stroke-width="0.3" vector-effect="non-scaling-stroke"> L</text><text x="1931.15" y="388.9" font-size="10.17" text-anchor="middle" fill="#111" transform="scale(0.5026 1)" stroke="#111" stroke-width="0.3" vector-effect="non-scaling-stroke">M</text>
<g transform="rotate(-90 954.9 400)"><text xml:space="preserve" x="1482.07 1488.09 1494.05" y="403.1" font-size="9.01" text-anchor="middle" fill="#111" transform="scale(0.6417 1)" stroke="#111" stroke-width="0.3" vector-effect="non-scaling-stroke">160</text></g>
<text xml:space="preserve" x="2019.95 2027.5 2035.05 2042.61 2049.88 2057.72" y="248.5" font-size="11.48" text-anchor="middle" fill="#111" transform="scale(0.5102 1)" stroke="#111" stroke-width="0.3" vector-effect="non-scaling-stroke"> ly.L </text><text x="2119.56" y="248.5" font-size="11.48" text-anchor="middle" fill="#111" transform="scale(0.4862 1)" stroke="#111" stroke-width="0.3" vector-effect="non-scaling-stroke">R</text><text x="3404.26" y="248.5" font-size="11.48" text-anchor="middle" fill="#111" transform="scale(0.3084 1)" stroke="#111" stroke-width="0.3" vector-effect="non-scaling-stroke">W</text>
<text xml:space="preserve" x="1538.23 1545.68 1553.14 1560.6 1568.06 1575.52 1582.98 1590.44" y="260" font-size="11.34" text-anchor="middle" fill="#111" transform="scale(0.6617 1)" stroke="#111" stroke-width="0.3" vector-effect="non-scaling-stroke">   IT   </text><text x="1565.13" y="260" font-size="11.34" text-anchor="middle" fill="#111" transform="scale(0.6503 1)" stroke="#111" stroke-width="0.3" vector-effect="non-scaling-stroke">S</text><text x="1551.37" y="260" font-size="11.34" text-anchor="middle" fill="#111" transform="scale(0.6593 1)" stroke="#111" stroke-width="0.3" vector-effect="non-scaling-stroke">U</text><text x="1836.32" y="260" font-size="11.34" text-anchor="middle" fill="#111" transform="scale(0.5597 1)" stroke="#111" stroke-width="0.3" vector-effect="non-scaling-stroke">M</text><text x="1900.85" y="260" font-size="11.34" text-anchor="middle" fill="#111" transform="scale(0.5485 1)" stroke="#111" stroke-width="0.3" vector-effect="non-scaling-stroke">O</text><text x="1871.59" y="260" font-size="11.34" text-anchor="middle" fill="#111" transform="scale(0.5597 1)" stroke="#111" stroke-width="0.3" vector-effect="non-scaling-stroke">M</text><text x="1918.84" y="260" font-size="11.34" text-anchor="middle" fill="#111" transform="scale(0.5485 1)" stroke="#111" stroke-width="0.3" vector-effect="non-scaling-stroke">O</text>
<text xml:space="preserve" x="1617.24 1624.83 1632.39 1639.94 1647.49 1654.89 1662.64 1670.16 1677.74" y="272.3" font-size="11.48" text-anchor="middle" fill="#111" transform="scale(0.6301 1)" stroke="#111" stroke-width="0.3" vector-effect="non-scaling-stroke">6098–1493</text>
<rect x="1013.4" y="292.6" width="60" height="19.7" fill="none" stroke="#111" stroke-width="1.2"/>
<line x1="1033.7" y1="292.6" x2="1033.7" y2="312.3" stroke="#111" stroke-width="1.2"/>
<line x1="1053.4" y1="292.6" x2="1053.4" y2="312.3" stroke="#111" stroke-width="1.2"/>
<rect x="1035.8" y="288.7" width="15.5" height="3.9" fill="none" stroke="#111" stroke-width="1.1"/>
<line x1="1033.7" y1="312.3" x2="1053.4" y2="292.6" stroke="#111" stroke-width="1"/>
<text xml:space="preserve" x="1653.68 1660.58 1667.81" y="305.7" font-size="10.76" text-anchor="middle" fill="#111" transform="scale(0.6144 1)" stroke="#111" stroke-width="0.3" vector-effect="non-scaling-stroke">315</text>
<text xml:space="preserve" x="1718.78 1725.86 1732.94" y="305.7" font-size="10.76" text-anchor="middle" fill="#111" transform="scale(0.6144 1)" stroke="#111" stroke-width="0.3" vector-effect="non-scaling-stroke">334</text>
<rect x="1033.7" y="312.3" width="19.7" height="39.3" fill="none" stroke="#111" stroke-width="1.2"/>
<line x1="1033.7" y1="331.9" x2="1053.4" y2="331.9" stroke="#111" stroke-width="1.2"/>
<text xml:space="preserve" x="1774.98 1782.09 1789.16" y="325.3" font-size="10.76" text-anchor="middle" fill="#111" transform="scale(0.5837 1)" stroke="#111" stroke-width="0.3" vector-effect="non-scaling-stroke">944</text>
<text xml:space="preserve" x="1775.01 1782.09 1789.13" y="344.7" font-size="10.76" text-anchor="middle" fill="#111" transform="scale(0.5837 1)" stroke="#111" stroke-width="0.3" vector-effect="non-scaling-stroke">339</text>
<text xml:space="preserve" x="1486.34" y="291" font-size="8.14" text-anchor="middle" fill="#111" transform="scale(0.6880 1)" stroke="#111" stroke-width="0.3" vector-effect="non-scaling-stroke">2</text>
<text xml:space="preserve" x="1522.7" y="286.6" font-size="8.14" text-anchor="middle" fill="#111" transform="scale(0.6880 1)" stroke="#111" stroke-width="0.3" vector-effect="non-scaling-stroke">4</text>
<text xml:space="preserve" x="3088.84" y="291.5" font-size="8.14" text-anchor="middle" fill="#111" transform="scale(0.3440 1)" stroke="#111" stroke-width="0.3" vector-effect="non-scaling-stroke">1</text>
<text xml:space="preserve" x="1496.08" y="324.8" font-size="8.14" text-anchor="middle" fill="#111" transform="scale(0.6880 1)" stroke="#111" stroke-width="0.3" vector-effect="non-scaling-stroke">5</text>
<text xml:space="preserve" x="1496.1" y="343.6" font-size="8.14" text-anchor="middle" fill="#111" transform="scale(0.6880 1)" stroke="#111" stroke-width="0.3" vector-effect="non-scaling-stroke">3</text>
<circle cx="1043.4" cy="351.6" r="1.7" fill="#000"/>
<polyline points="1033.7,372.5 1033.7,362.6 1053.4,362.6 1053.4,372.5" fill="none" stroke="#111" stroke-width="1.1" stroke-linejoin="miter"/>
<rect x="1043.4" y="379.6" width="16.2" height="11.6" fill="none" stroke="#111" stroke-width="1.1"/>
<text xml:space="preserve" x="1766.07 1773.01" y="388.9" font-size="10.17" text-anchor="middle" fill="#111" transform="scale(0.5942 1)" stroke="#111" stroke-width="0.3" vector-effect="non-scaling-stroke">L </text><text x="2933.24" y="388.9" font-size="10.17" text-anchor="middle" fill="#111" transform="scale(0.3592 1)" stroke="#111" stroke-width="0.3" vector-effect="non-scaling-stroke">W</text>
<g transform="rotate(-90 1033.9 400)"><text xml:space="preserve" x="1605.18 1611.2 1617.16" y="403.1" font-size="9.01" text-anchor="middle" fill="#111" transform="scale(0.6417 1)" stroke="#111" stroke-width="0.3" vector-effect="non-scaling-stroke">160</text></g>
<text xml:space="preserve" x="2174.79 2182.34 2189.89 2197.45 2205.01 2212.56" y="248.5" font-size="11.48" text-anchor="middle" fill="#111" transform="scale(0.5102 1)" stroke="#111" stroke-width="0.3" vector-effect="non-scaling-stroke"> ly.  </text><text x="2282.06" y="248.5" font-size="11.48" text-anchor="middle" fill="#111" transform="scale(0.4862 1)" stroke="#111" stroke-width="0.3" vector-effect="non-scaling-stroke">R</text><text x="2313.77" y="248.5" font-size="11.48" text-anchor="middle" fill="#111" transform="scale(0.4862 1)" stroke="#111" stroke-width="0.3" vector-effect="non-scaling-stroke">R</text><text x="2476.5" y="248.5" font-size="11.48" text-anchor="middle" fill="#111" transform="scale(0.4558 1)" stroke="#111" stroke-width="0.3" vector-effect="non-scaling-stroke">C</text>
<text xml:space="preserve" x="1657.61 1665.07 1672.53 1679.99 1687.45 1694.91 1702.36 1709.82" y="260" font-size="11.34" text-anchor="middle" fill="#111" transform="scale(0.6617 1)" stroke="#111" stroke-width="0.3" vector-effect="non-scaling-stroke">   IT   </text><text x="1686.6" y="260" font-size="11.34" text-anchor="middle" fill="#111" transform="scale(0.6503 1)" stroke="#111" stroke-width="0.3" vector-effect="non-scaling-stroke">S</text><text x="1671.2" y="260" font-size="11.34" text-anchor="middle" fill="#111" transform="scale(0.6593 1)" stroke="#111" stroke-width="0.3" vector-effect="non-scaling-stroke">U</text><text x="1977.47" y="260" font-size="11.34" text-anchor="middle" fill="#111" transform="scale(0.5597 1)" stroke="#111" stroke-width="0.3" vector-effect="non-scaling-stroke">M</text><text x="2044.88" y="260" font-size="11.34" text-anchor="middle" fill="#111" transform="scale(0.5485 1)" stroke="#111" stroke-width="0.3" vector-effect="non-scaling-stroke">O</text><text x="2012.74" y="260" font-size="11.34" text-anchor="middle" fill="#111" transform="scale(0.5597 1)" stroke="#111" stroke-width="0.3" vector-effect="non-scaling-stroke">M</text><text x="2062.88" y="260" font-size="11.34" text-anchor="middle" fill="#111" transform="scale(0.5485 1)" stroke="#111" stroke-width="0.3" vector-effect="non-scaling-stroke">O</text>
<text xml:space="preserve" x="1742.6 1750.2 1757.75 1765.31 1772.86 1780.26 1788.01 1795.53 1803.11" y="272.3" font-size="11.48" text-anchor="middle" fill="#111" transform="scale(0.6301 1)" stroke="#111" stroke-width="0.3" vector-effect="non-scaling-stroke">6098–1493</text>
<rect x="1092.4" y="292.6" width="60" height="19.7" fill="none" stroke="#111" stroke-width="1.2"/>
<line x1="1112.7" y1="292.6" x2="1112.7" y2="312.3" stroke="#111" stroke-width="1.2"/>
<line x1="1132.4" y1="292.6" x2="1132.4" y2="312.3" stroke="#111" stroke-width="1.2"/>
<rect x="1114.8" y="288.7" width="15.5" height="3.9" fill="none" stroke="#111" stroke-width="1.1"/>
<line x1="1112.7" y1="312.3" x2="1132.4" y2="292.6" stroke="#111" stroke-width="1"/>
<text xml:space="preserve" x="1782.26 1789.15 1796.23" y="305.7" font-size="10.76" text-anchor="middle" fill="#111" transform="scale(0.6144 1)" stroke="#111" stroke-width="0.3" vector-effect="non-scaling-stroke">311</text>
<text xml:space="preserve" x="1847.36 1854.43 1861.48" y="305.7" font-size="10.76" text-anchor="middle" fill="#111" transform="scale(0.6144 1)" stroke="#111" stroke-width="0.3" vector-effect="non-scaling-stroke">330</text>
<rect x="1112.7" y="312.3" width="19.7" height="39.3" fill="none" stroke="#111" stroke-width="1.2"/>
<line x1="1112.7" y1="331.9" x2="1132.4" y2="331.9" stroke="#111" stroke-width="1.2"/>
<text xml:space="preserve" x="1619.87 1626.88" y="325.3" font-size="10.76" text-anchor="middle" fill="#111" transform="scale(0.6905 1)" stroke="#111" stroke-width="0.3" vector-effect="non-scaling-stroke">46</text>
<text xml:space="preserve" x="1910.35 1917.43 1924.32" y="344.7" font-size="10.76" text-anchor="middle" fill="#111" transform="scale(0.5837 1)" stroke="#111" stroke-width="0.3" vector-effect="non-scaling-stroke">341</text>
<text xml:space="preserve" x="1601.16" y="291" font-size="8.14" text-anchor="middle" fill="#111" transform="scale(0.6880 1)" stroke="#111" stroke-width="0.3" vector-effect="non-scaling-stroke">2</text>
<text xml:space="preserve" x="1637.53" y="286.6" font-size="8.14" text-anchor="middle" fill="#111" transform="scale(0.6880 1)" stroke="#111" stroke-width="0.3" vector-effect="non-scaling-stroke">4</text>
<text xml:space="preserve" x="3318.49" y="291.5" font-size="8.14" text-anchor="middle" fill="#111" transform="scale(0.3440 1)" stroke="#111" stroke-width="0.3" vector-effect="non-scaling-stroke">1</text>
<text xml:space="preserve" x="1610.91" y="324.8" font-size="8.14" text-anchor="middle" fill="#111" transform="scale(0.6880 1)" stroke="#111" stroke-width="0.3" vector-effect="non-scaling-stroke">5</text>
<text xml:space="preserve" x="1610.93" y="343.6" font-size="8.14" text-anchor="middle" fill="#111" transform="scale(0.6880 1)" stroke="#111" stroke-width="0.3" vector-effect="non-scaling-stroke">3</text>
<circle cx="1122.4" cy="351.6" r="1.7" fill="#000"/>
<polyline points="1112.7,372.5 1112.7,362.6 1132.4,362.6 1132.4,372.5" fill="none" stroke="#111" stroke-width="1.1" stroke-linejoin="miter"/>
<rect x="1122.4" y="379.6" width="16.2" height="11.6" fill="none" stroke="#111" stroke-width="1.1"/>
<text xml:space="preserve" x="1899.27 1905.96" y="388.9" font-size="10.17" text-anchor="middle" fill="#111" transform="scale(0.5942 1)" stroke="#111" stroke-width="0.3" vector-effect="non-scaling-stroke">  </text><text x="1992.95" y="388.9" font-size="10.17" text-anchor="middle" fill="#111" transform="scale(0.5662 1)" stroke="#111" stroke-width="0.3" vector-effect="non-scaling-stroke">R</text><text x="2133.32" y="388.9" font-size="10.17" text-anchor="middle" fill="#111" transform="scale(0.5308 1)" stroke="#111" stroke-width="0.3" vector-effect="non-scaling-stroke">C</text>
<g transform="rotate(-90 1112.9 400)"><text xml:space="preserve" x="1728.29 1734.35 1740.27" y="403.1" font-size="9.01" text-anchor="middle" fill="#111" transform="scale(0.6417 1)" stroke="#111" stroke-width="0.3" vector-effect="non-scaling-stroke">180</text></g>
<polyline points="806.4,351.6 806.4,420.7 964.5,490.2" fill="none" stroke="#111" stroke-width="1.1" stroke-linejoin="miter"/>
<polyline points="885.4,351.6 885.4,420.7 964.5,490.2" fill="none" stroke="#111" stroke-width="1.1" stroke-linejoin="miter"/>
<line x1="964.4" y1="351.6" x2="964.4" y2="490.2" stroke="#111" stroke-width="1.1"/>
<polyline points="1043.4,351.6 1043.4,420.7 964.5,490.2" fill="none" stroke="#111" stroke-width="1.1" stroke-linejoin="miter"/>
<polyline points="1122.4,351.6 1122.4,420.7 964.5,490.2" fill="none" stroke="#111" stroke-width="1.1" stroke-linejoin="miter"/>
<path d="M660.7,243.2 H675.6 V490.5 H660.7 Z" fill="url(#hA1)" stroke="none" stroke-width="0"/>
<path d="M668,483 H737.4 V498.1 H668.7 A8,8 0 0 1 660.7,490.1 V483 Z" fill="url(#hA2)" stroke="none" stroke-width="0"/>
<path d="M660.7,243.2 H675.6 V483 H737.4 V498.1 H668.7 A8,8 0 0 1 660.7,490.1 Z" fill="none" stroke="#111" stroke-width="1.2"/>
<path d="M766.4,483 H818 V498.1 H766.4 Z" fill="url(#hB)" stroke="#111" stroke-width="1.2"/>
<path d="M841.2,482.9 H933.5 V498.3 H841.2 Z" fill="url(#hC)" stroke="#111" stroke-width="1.2"/>
<path d="M995.2,482.8 H1162.4 V498.4 H995.2 Z" fill="url(#hD)" stroke="#111" stroke-width="1.2"/>
<path d="M665.5,779.4 H730.8 L813,520.5 L827.5,525.6 L746.3,782.8 Q742.8,794.2 734.5,794.2 H665.5 Z" fill="url(#hE)" stroke="#111" stroke-width="1.2"/>
<path d="M665.5,888.1 H864.5 L904.6,713.9 L919.5,716.7 L878.6,893.5 Q876.2,903 868.5,903 H665.5 Z" fill="url(#hF)" stroke="#111" stroke-width="1.2"/>
<path d="M947.3,530.8 L961.8,534.1 L932.4,661 L918,658 Z" fill="url(#hG)" stroke="#111" stroke-width="1.2"/>
<path d="M955.5,710.4 L1055.6,778.8 H1231.5 V794 H1051.6 L947.7,722.8 Z" fill="url(#hH)" stroke="#111" stroke-width="1.2"/>
<path d="M955.1,674 L944.7,662 L1046.5,584.6 Q1050.5,581.5 1055.5,581.5 H1107 Q1110,581.5 1110,584.5 V593.2 Q1110,596.2 1107,596.2 H1058 Q1056.3,596.2 1054,598 Z" fill="none" stroke="#111" stroke-width="1.2" stroke-dasharray="6.5,3.5"/>
<path d="M668.4,213.7 V484.4 Q668.4,490.4 674.4,490.4 H1171.5" fill="none" stroke="#111" stroke-width="1.1"/>
<path d="M830.4,490.2 L739.6,783 Q738.6,786.7 734.8,786.7 H648.8" fill="none" stroke="#111" stroke-width="1.1"/>
<path d="M964.5,490.2 L871.6,891.6 Q870.8,895.4 867,895.4 H648.8" fill="none" stroke="#111" stroke-width="1.1"/>
<polyline points="917.5,692.7 1053.2,589.3 1127.2,589.3" fill="none" stroke="#111" stroke-width="1.1" stroke-linejoin="miter"/>
<polyline points="917.5,692.7 1054.4,786.6 1239.7,786.6" fill="none" stroke="#111" stroke-width="1.1" stroke-linejoin="miter"/>
<circle cx="917.5" cy="692.7" r="1.9" fill="#000"/>
<circle cx="964.5" cy="490.2" r="2.1" fill="#000"/>
<circle cx="751.9" cy="490.4" r="1.8" fill="#000"/>
<circle cx="830.4" cy="490.3" r="1.8" fill="#000"/>
<circle cx="1171.5" cy="490.4" r="1.9" fill="#000"/>
<rect x="696.3" y="479.6" width="20" height="30.5" fill="#fff" stroke="#111" stroke-width="1.2"/>
<line x1="696.3" y1="483" x2="716.3" y2="483" stroke="#111" stroke-width="1"/>
<line x1="696.3" y1="497.9" x2="716.3" y2="497.9" stroke="#111" stroke-width="1"/>
<line x1="696.3" y1="500.6" x2="716.3" y2="500.6" stroke="#111" stroke-width="1"/>
<rect x="698.5" y="504.5" width="15.2" height="2.6" rx="1.3" fill="#888" stroke="#333" stroke-width="0.8"/>
<text xml:space="preserve" x="1459.41 1471.61" y="497.1" font-size="18.17" text-anchor="middle" fill="#111" transform="scale(0.4801 1)" stroke="#111" stroke-width="0.3" vector-effect="non-scaling-stroke">10</text>
<rect x="786.2" y="479.6" width="20.4" height="30.5" fill="#fff" stroke="#111" stroke-width="1.2"/>
<line x1="786.2" y1="483" x2="806.6" y2="483" stroke="#111" stroke-width="1"/>
<line x1="786.2" y1="497.9" x2="806.6" y2="497.9" stroke="#111" stroke-width="1"/>
<line x1="786.2" y1="500.6" x2="806.6" y2="500.6" stroke="#111" stroke-width="1"/>
<rect x="788.4" y="504.5" width="15.6" height="2.6" rx="1.3" fill="#888" stroke="#333" stroke-width="0.8"/>
<text xml:space="preserve" x="1646.66 1658.88" y="497.1" font-size="18.17" text-anchor="middle" fill="#111" transform="scale(0.4801 1)" stroke="#111" stroke-width="0.3" vector-effect="non-scaling-stroke">15</text>
<line x1="715.7" y1="463.5" x2="715.7" y2="479.6" stroke="#111" stroke-width="0.9"/>
<line x1="751.9" y1="463.5" x2="751.9" y2="490.4" stroke="#111" stroke-width="1"/>
<line x1="786.5" y1="463.5" x2="786.5" y2="479.6" stroke="#111" stroke-width="0.9"/>
<line x1="715.7" y1="468.5" x2="786.5" y2="468.5" stroke="#111" stroke-width="0.9"/>
<polygon points="715.9,468.5 722.4,467.3 722.4,469.7" fill="#111" stroke="#111" stroke-width="0.5" stroke-linejoin="miter"/>
<polygon points="751.7,468.5 745.2,469.7 745.2,467.3" fill="#111" stroke="#111" stroke-width="0.5" stroke-linejoin="miter"/>
<polygon points="752.1,468.5 758.6,467.3 758.6,469.7" fill="#111" stroke="#111" stroke-width="0.5" stroke-linejoin="miter"/>
<polygon points="786.3,468.5 779.8,469.7 779.8,467.3" fill="#111" stroke="#111" stroke-width="0.5" stroke-linejoin="miter"/>
<text xml:space="preserve" x="1120.68 1127.53" y="465.2" font-size="10.47" text-anchor="middle" fill="#111" transform="scale(0.6519 1)" stroke="#111" stroke-width="0.3" vector-effect="non-scaling-stroke">30</text>
<text xml:space="preserve" x="1289.09 1295.98" y="465.2" font-size="10.47" text-anchor="middle" fill="#111" transform="scale(0.5942 1)" stroke="#111" stroke-width="0.3" vector-effect="non-scaling-stroke">70</text>
<text xml:space="preserve" x="794.23 801.16 808.42 815.46 822.39" y="422" font-size="10.76" text-anchor="middle" fill="#111" transform="scale(0.7719 1)" stroke="#111" stroke-width="0.3" vector-effect="non-scaling-stroke">φ14.1</text>
<polyline points="606,424.8 641.7,424.8 659.4,444.8" fill="none" stroke="#111" stroke-width="1" stroke-linejoin="miter"/>
<polygon points="660.6,446.2 655.8,442.43 657.45,440.97" fill="#111" stroke="#111" stroke-width="0.5" stroke-linejoin="miter"/>
<g transform="rotate(-90 650.1 389.1)"><text xml:space="preserve" x="1149.04 1155.74 1162.47 1168.87 1175.85 1182.55 1189.24 1196.22" y="392.6" font-size="10.17" text-anchor="middle" fill="#111" transform="scale(0.5545 1)" stroke="#111" stroke-width="0.3" vector-effect="non-scaling-stroke">660(  T)</text><text x="1316.09" y="392.6" font-size="10.17" text-anchor="middle" fill="#111" transform="scale(0.4953 1)" stroke="#111" stroke-width="0.3" vector-effect="non-scaling-stroke">C</text><text x="1426.73" y="392.6" font-size="10.17" text-anchor="middle" fill="#111" transform="scale(0.4596 1)" stroke="#111" stroke-width="0.3" vector-effect="non-scaling-stroke">O</text></g>
<text xml:space="preserve" x="965.25 972.18 979.41 986.48 993.57" y="422" font-size="10.76" text-anchor="middle" fill="#111" transform="scale(0.7868 1)" stroke="#111" stroke-width="0.3" vector-effect="non-scaling-stroke">φ19.5</text>
<polyline points="752.5,424.8 787,424.8 813.5,482.3" fill="none" stroke="#111" stroke-width="1" stroke-linejoin="miter"/>
<polygon points="813.7,482.6 810.16,477.63 812.15,476.7" fill="#111" stroke="#111" stroke-width="0.5" stroke-linejoin="miter"/>
<text xml:space="preserve" x="1066.7 1073.61 1080.43 1087.35 1094.2 1101.15 1108.01 1114.89" y="544.4" font-size="10.47" text-anchor="middle" fill="#111" transform="scale(0.6046 1)" stroke="#111" stroke-width="0.3" vector-effect="non-scaling-stroke">#4686458</text>
<polyline points="641.7,547.2 693.4,547.2 715.6,480.2" fill="none" stroke="#111" stroke-width="1" stroke-linejoin="miter"/>
<polygon points="715.8,479.8 714.92,485.84 712.84,485.13" fill="#111" stroke="#111" stroke-width="0.5" stroke-linejoin="miter"/>
<text xml:space="preserve" x="1389.74 1396.77 1403.65 1410.24 1417.42 1424.31 1431.19 1438.37" y="522" font-size="10.47" text-anchor="middle" fill="#111" transform="scale(0.5428 1)" stroke="#111" stroke-width="0.3" vector-effect="non-scaling-stroke">120(  T)</text><text x="1586.48" y="522" font-size="10.47" text-anchor="middle" fill="#111" transform="scale(0.4849 1)" stroke="#111" stroke-width="0.3" vector-effect="non-scaling-stroke">C</text><text x="1718.41" y="522" font-size="10.47" text-anchor="middle" fill="#111" transform="scale(0.4499 1)" stroke="#111" stroke-width="0.3" vector-effect="non-scaling-stroke">O</text>
<text xml:space="preserve" x="1311.27 1317.99 1324.62 1331.35 1338 1344.77 1351.39 1358.12" y="542" font-size="10.17" text-anchor="middle" fill="#111" transform="scale(0.5718 1)" stroke="#111" stroke-width="0.3" vector-effect="non-scaling-stroke">#4686460</text>
<polyline points="744.5,545.8 795,545.8 787.2,510.6" fill="none" stroke="#111" stroke-width="1" stroke-linejoin="miter"/>
<polygon points="787,510.4 789.29,516.06 787.13,516.5" fill="#111" stroke="#111" stroke-width="0.5" stroke-linejoin="miter"/>
<polyline points="751.9,490.4 687.7,579 599.2,579" fill="none" stroke="#111" stroke-width="1.1" stroke-linejoin="miter"/>
<polyline points="751.9,490.4 687.3,677.7 599.2,677.7" fill="none" stroke="#111" stroke-width="1.1" stroke-linejoin="miter"/>
<text xml:space="preserve" x="1659.05 1665.95 1672.82 1679.41 1686.59 1693.48 1700.36 1707.54" y="479.6" font-size="10.47" text-anchor="middle" fill="#111" transform="scale(0.5185 1)" stroke="#111" stroke-width="0.3" vector-effect="non-scaling-stroke">250(  T)</text><text x="1887.77" y="479.6" font-size="10.47" text-anchor="middle" fill="#111" transform="scale(0.4632 1)" stroke="#111" stroke-width="0.3" vector-effect="non-scaling-stroke">C</text><text x="2043.16" y="479.6" font-size="10.47" text-anchor="middle" fill="#111" transform="scale(0.4297 1)" stroke="#111" stroke-width="0.3" vector-effect="non-scaling-stroke">O</text>
<text xml:space="preserve" x="2106.09 2112.95 2119.83 2126.42 2133.6 2140.49 2147.38 2154.55" y="479.6" font-size="10.47" text-anchor="middle" fill="#111" transform="scale(0.5054 1)" stroke="#111" stroke-width="0.3" vector-effect="non-scaling-stroke">320(  T)</text><text x="2388.12" y="479.6" font-size="10.47" text-anchor="middle" fill="#111" transform="scale(0.4515 1)" stroke="#111" stroke-width="0.3" vector-effect="non-scaling-stroke">C</text><text x="2582.47" y="479.6" font-size="10.47" text-anchor="middle" fill="#111" transform="scale(0.4189 1)" stroke="#111" stroke-width="0.3" vector-effect="non-scaling-stroke">O</text>
<circle cx="880.6" cy="521.6" r="15.0" fill="none" stroke="#111" stroke-width="1.1"/>
<text xml:space="preserve" x="896.4" y="527.6" font-size="15.7" text-anchor="middle" fill="#111" transform="scale(0.9810 1)" stroke="#111" stroke-width="0.3" vector-effect="non-scaling-stroke"> </text><text x="1482.98" y="527.6" font-size="15.7" text-anchor="middle" fill="#111" transform="scale(0.5930 1)" stroke="#111" stroke-width="0.3" vector-effect="non-scaling-stroke">W</text>
<line x1="889.8" y1="509.6" x2="903.5" y2="492" stroke="#111" stroke-width="1"/>
<polygon points="904.3,491.2 902,495.75 900.43,494.52" fill="#111" stroke="#111" stroke-width="0.5" stroke-linejoin="miter"/>
<line x1="904.7" y1="492" x2="904.7" y2="520.9" stroke="#111" stroke-width="0.9"/>
<line x1="964.5" y1="490.2" x2="964.5" y2="520.9" stroke="#111" stroke-width="0.9"/>
<line x1="904.7" y1="516.2" x2="964.5" y2="516.2" stroke="#111" stroke-width="0.9"/>
<polygon points="904.9,516.2 911.4,515 911.4,517.4" fill="#111" stroke="#111" stroke-width="0.5" stroke-linejoin="miter"/>
<polygon points="964.3,516.2 957.8,517.4 957.8,515" fill="#111" stroke="#111" stroke-width="0.5" stroke-linejoin="miter"/>
<text xml:space="preserve" x="1502.6 1509.29" y="512" font-size="10.17" text-anchor="middle" fill="#111" transform="scale(0.6196 1)" stroke="#111" stroke-width="0.3" vector-effect="non-scaling-stroke">50</text>
<g transform="rotate(-77 923.8 589.5)"><text xml:space="preserve" x="1584.49 1591.12 1597.63 1603.85 1610.63 1617.13 1623.64 1630.42" y="592.9" font-size="9.88" text-anchor="middle" fill="#111" transform="scale(0.5747 1)" stroke="#111" stroke-width="0.3" vector-effect="non-scaling-stroke">170(  T)</text><text x="1802.75" y="592.9" font-size="9.88" text-anchor="middle" fill="#111" transform="scale(0.5135 1)" stroke="#111" stroke-width="0.3" vector-effect="non-scaling-stroke">C</text><text x="1951.05" y="592.9" font-size="9.88" text-anchor="middle" fill="#111" transform="scale(0.4764 1)" stroke="#111" stroke-width="0.3" vector-effect="non-scaling-stroke">O</text></g>
<text xml:space="preserve" x="2148.05 2155.18 2162.16 2168.84 2175.97 2183.1 2190.08 2197.36" y="578.9" font-size="10.61" text-anchor="middle" fill="#111" transform="scale(0.4947 1)" stroke="#111" stroke-width="0.3" vector-effect="non-scaling-stroke">190(P  )</text><text x="2539.68" y="578.9" font-size="10.61" text-anchor="middle" fill="#111" transform="scale(0.4253 1)" stroke="#111" stroke-width="0.3" vector-effect="non-scaling-stroke">V</text><text x="2451.34" y="578.9" font-size="10.61" text-anchor="middle" fill="#111" transform="scale(0.4420 1)" stroke="#111" stroke-width="0.3" vector-effect="non-scaling-stroke">C</text>
<text xml:space="preserve" x="2351.85 2359.16 2366.43 2373.38 2380.96 2388.23 2395.5 2403.07" y="774" font-size="11.05" text-anchor="middle" fill="#111" transform="scale(0.4929 1)" stroke="#111" stroke-width="0.3" vector-effect="non-scaling-stroke">600(  T)</text><text x="2664.99" y="774" font-size="11.05" text-anchor="middle" fill="#111" transform="scale(0.4404 1)" stroke="#111" stroke-width="0.3" vector-effect="non-scaling-stroke">C</text><text x="2881.37" y="774" font-size="11.05" text-anchor="middle" fill="#111" transform="scale(0.4086 1)" stroke="#111" stroke-width="0.3" vector-effect="non-scaling-stroke">O</text>
<text xml:space="preserve" x="1434.01 1441.39 1448.69 1455.65 1463.23 1470.5 1477.77 1485.34" y="774.3" font-size="11.05" text-anchor="middle" fill="#111" transform="scale(0.4788 1)" stroke="#111" stroke-width="0.3" vector-effect="non-scaling-stroke">160(  T)</text><text x="1637.75" y="774.3" font-size="11.05" text-anchor="middle" fill="#111" transform="scale(0.4277 1)" stroke="#111" stroke-width="0.3" vector-effect="non-scaling-stroke">C</text><text x="1774.14" y="774.3" font-size="11.05" text-anchor="middle" fill="#111" transform="scale(0.3968 1)" stroke="#111" stroke-width="0.3" vector-effect="non-scaling-stroke">O</text>
<text xml:space="preserve" x="1376.94 1384.07 1391.25 1398.11 1405.59 1412.76 1419.94 1427.41" y="880.4" font-size="10.9" text-anchor="middle" fill="#111" transform="scale(0.5013 1)" stroke="#111" stroke-width="0.3" vector-effect="non-scaling-stroke">300(  T)</text><text x="1573.24" y="880.4" font-size="10.9" text-anchor="middle" fill="#111" transform="scale(0.4479 1)" stroke="#111" stroke-width="0.3" vector-effect="non-scaling-stroke">C</text><text x="1704.48" y="880.4" font-size="10.9" text-anchor="middle" fill="#111" transform="scale(0.4155 1)" stroke="#111" stroke-width="0.3" vector-effect="non-scaling-stroke">O</text>
<text xml:space="preserve" x="1069.16 1075.99 1083.11 1090.09 1097.07" y="829.5" font-size="10.61" text-anchor="middle" fill="#111" transform="scale(0.7765 1)" stroke="#111" stroke-width="0.3" vector-effect="non-scaling-stroke">φ10.2</text>
<polyline points="824.2,832.5 857.6,832.5 869.6,863.7" fill="none" stroke="#111" stroke-width="1" stroke-linejoin="miter"/>
<polygon points="869.9,864.3 866.66,859.13 868.7,858.32" fill="#111" stroke="#111" stroke-width="0.5" stroke-linejoin="miter"/>
<line x1="917.5" y1="692.7" x2="880.3" y2="684.4" stroke="#111" stroke-width="1"/>
<line x1="883.8" y1="685.7" x2="867" y2="760.1" stroke="#111" stroke-width="0.9"/>
<polygon points="883.8,685.7 883.49,692.3 881.16,691.76" fill="#111" stroke="#111" stroke-width="0.5" stroke-linejoin="miter"/>
<polygon points="867,760.1 867.31,753.5 869.65,754.04" fill="#111" stroke="#111" stroke-width="0.5" stroke-linejoin="miter"/>
<line x1="862.6" y1="759.0" x2="886" y2="764.4" stroke="#111" stroke-width="0.9" stroke-dasharray="8,3,2,3"/>
<g transform="rotate(-77 867.8 722.5)"><text xml:space="preserve" x="1378.21 1384.9" y="726" font-size="10.17" text-anchor="middle" fill="#111" transform="scale(0.6281 1)" stroke="#111" stroke-width="0.3" vector-effect="non-scaling-stroke">50</text></g>
<g transform="translate(886.1,765.0) rotate(12.6)"><rect x="0.5" y="-2.8" width="6" height="5.6" fill="#555" stroke="#222" stroke-width="0.6"/><rect x="6.5" y="-1.8" width="17" height="3.6" fill="#999" stroke="#333" stroke-width="0.6"/><rect x="23" y="-2.8" width="4.5" height="5.6" fill="#555" stroke="#222" stroke-width="0.6"/><polygon points="26,0 31.5,-6.8 31.5,6.8" fill="#fff" stroke="#222" stroke-width="1"/><rect x="31.5" y="-2.4" width="6.8" height="4.8" fill="#888" stroke="#444" stroke-width="0.5"/></g>
<polyline points="921.5,775 930.9,787.7 949.2,787.7" fill="none" stroke="#111" stroke-width="1" stroke-linejoin="miter"/>
<polygon points="921.2,774.6 926.35,779.49 924.43,780.93" fill="#111" stroke="#111" stroke-width="0.5" stroke-linejoin="miter"/>
<polygon points="940.9,775.6 942.13,778.9 945.66,779.05 942.9,781.25 943.84,784.65 940.9,782.7 937.96,784.65 938.9,781.25 936.14,779.05 939.67,778.9" fill="#fff" stroke="#111" stroke-width="0.9" stroke-linejoin="miter"/>
<line x1="1142.2" y1="770.2" x2="1142.2" y2="774" stroke="#111" stroke-width="0.8"/>
<rect x="1140.1" y="773.8" width="5.1" height="3.4" fill="#444" stroke="#111" stroke-width="0.6"/>
<rect x="1140.8" y="777.2" width="3.1" height="19.2" fill="#bbb" stroke="#111" stroke-width="0.9"/>
<rect x="1139.3" y="796.2" width="6" height="3" fill="#333" stroke="#111" stroke-width="0.6"/>
<polygon points="1139.4,799.2 1145,799.2 1149.3,803.4 1135.3,803.4" fill="#fff" stroke="#111" stroke-width="1" stroke-linejoin="miter"/>
<polygon points="1140.8,803.6 1143.8,803.6 1143.8,808.8 1142.3,810.8 1140.8,808.8" fill="#777" stroke="#111" stroke-width="0.6" stroke-linejoin="miter"/>
<line x1="1142.3" y1="812.6" x2="1142.3" y2="815" stroke="#111" stroke-width="0.8"/>
<polyline points="1108.9,762.5 1127.1,762.5 1141.6,775.3" fill="none" stroke="#111" stroke-width="1" stroke-linejoin="miter"/>
<polygon points="1141.6,775.3 1135.55,771.59 1137.13,769.78" fill="#111" stroke="#111" stroke-width="0.5" stroke-linejoin="miter"/>
<polygon points="1118.8,750.4 1120.03,753.7 1123.56,753.85 1120.8,756.05 1121.74,759.45 1118.8,757.5 1115.86,759.45 1116.8,756.05 1114.04,753.85 1117.57,753.7" fill="#fff" stroke="#111" stroke-width="0.9" stroke-linejoin="miter"/>
<line x1="1142.2" y1="814" x2="1142.2" y2="836" stroke="#111" stroke-width="0.9"/>
<line x1="1378.2" y1="801.6" x2="1378.2" y2="835.8" stroke="#111" stroke-width="0.9"/>
<line x1="1142.2" y1="830.8" x2="1378.2" y2="830.8" stroke="#111" stroke-width="0.9"/>
<polygon points="1142.4,830.8 1149.4,829.6 1149.4,832" fill="#111" stroke="#111" stroke-width="0.5" stroke-linejoin="miter"/>
<polygon points="1378,830.8 1371,832 1371,829.6" fill="#111" stroke="#111" stroke-width="0.5" stroke-linejoin="miter"/>
<text xml:space="preserve" x="1973.49 1979.83 1986.47" y="827.4" font-size="9.88" text-anchor="middle" fill="#111" transform="scale(0.6352 1)" stroke="#111" stroke-width="0.3" vector-effect="non-scaling-stroke">310</text>
<text xml:space="preserve" x="721.14 728.59 736.05 743.27 750.69 758.43 765.89 773.34" y="566.6" font-size="11.34" text-anchor="middle" fill="#111" transform="scale(0.6738 1)" stroke="#111" stroke-width="0.3" vector-effect="non-scaling-stroke">T  FL   </text><text x="879.04" y="566.6" font-size="11.34" text-anchor="middle" fill="#111" transform="scale(0.5585 1)" stroke="#111" stroke-width="0.3" vector-effect="non-scaling-stroke">O</text><text x="757.84" y="566.6" font-size="11.34" text-anchor="middle" fill="#111" transform="scale(0.6545 1)" stroke="#111" stroke-width="0.3" vector-effect="non-scaling-stroke">_</text><text x="915.03" y="566.6" font-size="11.34" text-anchor="middle" fill="#111" transform="scale(0.5585 1)" stroke="#111" stroke-width="0.3" vector-effect="non-scaling-stroke">O</text><text x="924.03" y="566.6" font-size="11.34" text-anchor="middle" fill="#111" transform="scale(0.5585 1)" stroke="#111" stroke-width="0.3" vector-effect="non-scaling-stroke">O</text><text x="811.36" y="566.6" font-size="11.34" text-anchor="middle" fill="#111" transform="scale(0.6421 1)" stroke="#111" stroke-width="0.3" vector-effect="non-scaling-stroke">R</text>
<text xml:space="preserve" x="800.47 807.93 815.38 822.85 830.3 837.76" y="578.8" font-size="11.34" text-anchor="middle" fill="#111" transform="scale(0.6168 1)" stroke="#111" stroke-width="0.3" vector-effect="non-scaling-stroke">  Z  I</text><text x="881.48" y="578.8" font-size="11.34" text-anchor="middle" fill="#111" transform="scale(0.5601 1)" stroke="#111" stroke-width="0.3" vector-effect="non-scaling-stroke">Y</text><text x="946.86" y="578.8" font-size="11.34" text-anchor="middle" fill="#111" transform="scale(0.5263 1)" stroke="#111" stroke-width="0.3" vector-effect="non-scaling-stroke">A</text><text x="964.35" y="578.8" font-size="11.34" text-anchor="middle" fill="#111" transform="scale(0.5263 1)" stroke="#111" stroke-width="0.3" vector-effect="non-scaling-stroke">A</text><text x="841.56" y="578.8" font-size="11.34" text-anchor="middle" fill="#111" transform="scale(0.6083 1)" stroke="#111" stroke-width="0.3" vector-effect="non-scaling-stroke">K</text>
<text xml:space="preserve" x="730.05 737.55 744.97 752.43 759.89 767.35 774.84 782.3 789.69" y="591.6" font-size="11.34" text-anchor="middle" fill="#111" transform="scale(0.6704 1)" stroke="#111" stroke-width="0.3" vector-effect="non-scaling-stroke">7322–2446</text>
<rect x="559.4" y="559.4" width="39.8" height="39.8" fill="none" stroke="#111" stroke-width="1.2"/>
<line x1="559.4" y1="579" x2="599.2" y2="579" stroke="#111" stroke-width="1.2"/>
<line x1="579.3" y1="559.4" x2="579.3" y2="599.2" stroke="#111" stroke-width="1.8"/>
<rect x="574.3" y="554.4" width="10.3" height="5" fill="#111" stroke="#111" stroke-width="0.8"/>
<text xml:space="preserve" x="965.01 971.91" y="571.1" font-size="10.47" text-anchor="middle" fill="#111" transform="scale(0.5859 1)" stroke="#111" stroke-width="0.3" vector-effect="non-scaling-stroke">79</text>
<text xml:space="preserve" x="936.67 943.38 950.4" y="571.1" font-size="10.47" text-anchor="middle" fill="#111" transform="scale(0.6210 1)" stroke="#111" stroke-width="0.3" vector-effect="non-scaling-stroke">318</text>
<text xml:space="preserve" x="932.24 939 945.79" y="591.2" font-size="10.32" text-anchor="middle" fill="#111" transform="scale(0.6030 1)" stroke="#111" stroke-width="0.3" vector-effect="non-scaling-stroke">322</text>
<text xml:space="preserve" x="948.14 954.93 961.75" y="591.2" font-size="10.32" text-anchor="middle" fill="#111" transform="scale(0.6137 1)" stroke="#111" stroke-width="0.3" vector-effect="non-scaling-stroke">923</text>
<text xml:space="preserve" x="857.33" y="556.2" font-size="7.85" text-anchor="middle" fill="#111" transform="scale(0.6625 1)" stroke="#111" stroke-width="0.3" vector-effect="non-scaling-stroke">2</text>
<text xml:space="preserve" x="1657.4" y="556.2" font-size="7.85" text-anchor="middle" fill="#111" transform="scale(0.3567 1)" stroke="#111" stroke-width="0.3" vector-effect="non-scaling-stroke">1</text>
<text xml:space="preserve" x="858.87" y="607.2" font-size="7.85" text-anchor="middle" fill="#111" transform="scale(0.6625 1)" stroke="#111" stroke-width="0.3" vector-effect="non-scaling-stroke">4</text>
<text xml:space="preserve" x="888.45" y="607.2" font-size="7.85" text-anchor="middle" fill="#111" transform="scale(0.6625 1)" stroke="#111" stroke-width="0.3" vector-effect="non-scaling-stroke">3</text>
<circle cx="599.2" cy="579" r="1.7" fill="#000"/>
<polyline points="619.3,569.4 609,569.4 609,589 619.3,589" fill="none" stroke="#111" stroke-width="1.1" stroke-linejoin="miter"/>
<text xml:space="preserve" x="1090.96 1097.75 1104.54" y="573.1" font-size="10.32" text-anchor="middle" fill="#111" transform="scale(0.5817 1)" stroke="#111" stroke-width="0.3" vector-effect="non-scaling-stroke">200</text>
<text xml:space="preserve" x="702.82 710.09 717.35 724.46 731.89 738.94 746.42 753.69 760.96 768.23" y="663.8" font-size="11.05" text-anchor="middle" fill="#111" transform="scale(0.6922 1)" stroke="#111" stroke-width="0.3" vector-effect="non-scaling-stroke">   P E    </text><text x="786.61" y="663.8" font-size="11.05" text-anchor="middle" fill="#111" transform="scale(0.6184 1)" stroke="#111" stroke-width="0.3" vector-effect="non-scaling-stroke">C</text><text x="856.71" y="663.8" font-size="11.05" text-anchor="middle" fill="#111" transform="scale(0.5738 1)" stroke="#111" stroke-width="0.3" vector-effect="non-scaling-stroke">O</text><text x="848.14" y="663.8" font-size="11.05" text-anchor="middle" fill="#111" transform="scale(0.5855 1)" stroke="#111" stroke-width="0.3" vector-effect="non-scaling-stroke">M</text><text x="767.86" y="663.8" font-size="11.05" text-anchor="middle" fill="#111" transform="scale(0.6596 1)" stroke="#111" stroke-width="0.3" vector-effect="non-scaling-stroke">R</text><text x="759.48" y="663.8" font-size="11.05" text-anchor="middle" fill="#111" transform="scale(0.6803 1)" stroke="#111" stroke-width="0.3" vector-effect="non-scaling-stroke">S</text><text x="766.87" y="663.8" font-size="11.05" text-anchor="middle" fill="#111" transform="scale(0.6803 1)" stroke="#111" stroke-width="0.3" vector-effect="non-scaling-stroke">S</text><text x="918.09" y="663.8" font-size="11.05" text-anchor="middle" fill="#111" transform="scale(0.5738 1)" stroke="#111" stroke-width="0.3" vector-effect="non-scaling-stroke">O</text><text x="805.99" y="663.8" font-size="11.05" text-anchor="middle" fill="#111" transform="scale(0.6596 1)" stroke="#111" stroke-width="0.3" vector-effect="non-scaling-stroke">R</text>
<text xml:space="preserve" x="786.55 793.82 801.08 808.35 815.62 822.89" y="676.2" font-size="11.05" text-anchor="middle" fill="#111" transform="scale(0.6402 1)" stroke="#111" stroke-width="0.3" vector-effect="non-scaling-stroke">  Z  I</text><text x="866.15" y="676.2" font-size="11.05" text-anchor="middle" fill="#111" transform="scale(0.5814 1)" stroke="#111" stroke-width="0.3" vector-effect="non-scaling-stroke">Y</text><text x="930.33" y="676.2" font-size="11.05" text-anchor="middle" fill="#111" transform="scale(0.5463 1)" stroke="#111" stroke-width="0.3" vector-effect="non-scaling-stroke">A</text><text x="947.36" y="676.2" font-size="11.05" text-anchor="middle" fill="#111" transform="scale(0.5463 1)" stroke="#111" stroke-width="0.3" vector-effect="non-scaling-stroke">A</text><text x="826.68" y="676.2" font-size="11.05" text-anchor="middle" fill="#111" transform="scale(0.6314 1)" stroke="#111" stroke-width="0.3" vector-effect="non-scaling-stroke">K</text>
<text xml:space="preserve" x="764.56 771.93 779.29 786.68 794.02 801.22 808.74 815.95 823.47" y="688.6" font-size="11.19" text-anchor="middle" fill="#111" transform="scale(0.6372 1)" stroke="#111" stroke-width="0.3" vector-effect="non-scaling-stroke">7283–1010</text>
<rect x="579" y="668.1" width="20.2" height="20.4" fill="none" stroke="#111" stroke-width="1.2"/>
<rect x="584.3" y="662.9" width="10.2" height="5.2" fill="none" stroke="#111" stroke-width="1.1"/>
<text xml:space="preserve" x="901.7 909.09" y="681.6" font-size="11.34" text-anchor="middle" fill="#111" transform="scale(0.6475 1)" stroke="#111" stroke-width="0.3" vector-effect="non-scaling-stroke">46</text>
<circle cx="599.2" cy="677.7" r="1.7" fill="#000"/>
<polyline points="619.3,667.8 609,667.8 609,688 619.3,688" fill="none" stroke="#111" stroke-width="1.1" stroke-linejoin="miter"/>
<text xml:space="preserve" x="1187.92 1195.33 1202.6" y="671.7" font-size="11.05" text-anchor="middle" fill="#111" transform="scale(0.5334 1)" stroke="#111" stroke-width="0.3" vector-effect="non-scaling-stroke">180</text>
<rect x="509.9" y="776.8" width="138.88" height="20.2" fill="none" stroke="#111" stroke-width="1.2"/>
<rect x="574.1" y="771.8" width="10.5" height="5" fill="none" stroke="#111" stroke-width="1.1"/>
<text xml:space="preserve" x="811.52 818.37 825.26" y="789.8" font-size="10.47" text-anchor="middle" fill="#111" transform="scale(0.6315 1)" stroke="#111" stroke-width="0.3" vector-effect="non-scaling-stroke">308</text>
<line x1="529.74" y1="776.8" x2="529.74" y2="797" stroke="#111" stroke-width="1.2"/>
<text xml:space="preserve" x="842.94 849.79 856.67" y="789.8" font-size="10.47" text-anchor="middle" fill="#111" transform="scale(0.6315 1)" stroke="#111" stroke-width="0.3" vector-effect="non-scaling-stroke">307</text>
<line x1="549.58" y1="776.8" x2="549.58" y2="797" stroke="#111" stroke-width="1.2"/>
<line x1="549.58" y1="797" x2="569.42" y2="776.8" stroke="#111" stroke-width="1"/>
<line x1="569.42" y1="776.8" x2="569.42" y2="797" stroke="#111" stroke-width="1.2"/>
<text xml:space="preserve" x="905.77 912.62 919.54" y="789.8" font-size="10.47" text-anchor="middle" fill="#111" transform="scale(0.6315 1)" stroke="#111" stroke-width="0.3" vector-effect="non-scaling-stroke">303</text>
<line x1="589.26" y1="776.8" x2="589.26" y2="797" stroke="#111" stroke-width="1.2"/>
<text xml:space="preserve" x="937.19 944.04 950.78" y="789.8" font-size="10.47" text-anchor="middle" fill="#111" transform="scale(0.6315 1)" stroke="#111" stroke-width="0.3" vector-effect="non-scaling-stroke">301</text>
<line x1="609.1" y1="776.8" x2="609.1" y2="797" stroke="#111" stroke-width="1.2"/>
<text xml:space="preserve" x="968.6 975.46 982.2" y="789.8" font-size="10.47" text-anchor="middle" fill="#111" transform="scale(0.6315 1)" stroke="#111" stroke-width="0.3" vector-effect="non-scaling-stroke">321</text>
<line x1="628.94" y1="776.8" x2="628.94" y2="797" stroke="#111" stroke-width="1.2"/>
<text xml:space="preserve" x="1000.02 1006.73 1013.76" y="789.8" font-size="10.47" text-anchor="middle" fill="#111" transform="scale(0.6315 1)" stroke="#111" stroke-width="0.3" vector-effect="non-scaling-stroke">319</text>
<text xml:space="preserve" x="1385.04" y="773.6" font-size="6.4" text-anchor="middle" fill="#111" transform="scale(0.3753 1)" stroke="#111" stroke-width="0.3" vector-effect="non-scaling-stroke">1</text>
<text xml:space="preserve" x="928.63" y="773.6" font-size="6.4" text-anchor="middle" fill="#111" transform="scale(0.6880 1)" stroke="#111" stroke-width="0.3" vector-effect="non-scaling-stroke">7</text>
<circle cx="648.78" cy="786.8" r="1.6" fill="#000"/>
<text xml:space="preserve" x="762.92 769.81 776.69 783.37" y="740.8" font-size="10.47" text-anchor="middle" fill="#111" transform="scale(0.7417 1)" stroke="#111" stroke-width="0.3" vector-effect="non-scaling-stroke">   E</text><text x="902.02" y="740.8" font-size="10.47" text-anchor="middle" fill="#111" transform="scale(0.6273 1)" stroke="#111" stroke-width="0.3" vector-effect="non-scaling-stroke">M</text><text x="928.77" y="740.8" font-size="10.47" text-anchor="middle" fill="#111" transform="scale(0.6147 1)" stroke="#111" stroke-width="0.3" vector-effect="non-scaling-stroke">O</text><text x="812.89" y="740.8" font-size="10.47" text-anchor="middle" fill="#111" transform="scale(0.7085 1)" stroke="#111" stroke-width="0.3" vector-effect="non-scaling-stroke">D</text>
<text xml:space="preserve" x="822.99 829.75 836.62" y="750.4" font-size="10.76" text-anchor="middle" fill="#111" transform="scale(0.6964 1)" stroke="#111" stroke-width="0.3" vector-effect="non-scaling-stroke">J E</text><text x="972.44" y="750.4" font-size="10.76" text-anchor="middle" fill="#111" transform="scale(0.5942 1)" stroke="#111" stroke-width="0.3" vector-effect="non-scaling-stroke">A</text>
<text xml:space="preserve" x="737.91 744.54 751.69 758.57 765.45 772.35 779.23 786.1 792.99 799.88 806.76 813.68 820.53 827.28" y="760.6" font-size="10.47" text-anchor="middle" fill="#111" transform="scale(0.7125 1)" stroke="#111" stroke-width="0.3" vector-effect="non-scaling-stroke">IL–  5–7 – 3 1</text><text x="889.02" y="760.6" font-size="10.47" text-anchor="middle" fill="#111" transform="scale(0.6080 1)" stroke="#111" stroke-width="0.3" vector-effect="non-scaling-stroke">A</text><text x="883.34" y="760.6" font-size="10.47" text-anchor="middle" fill="#111" transform="scale(0.6175 1)" stroke="#111" stroke-width="0.3" vector-effect="non-scaling-stroke">G</text><text x="806.86" y="760.6" font-size="10.47" text-anchor="middle" fill="#111" transform="scale(0.7003 1)" stroke="#111" stroke-width="0.3" vector-effect="non-scaling-stroke">S</text><text x="820.87" y="760.6" font-size="10.47" text-anchor="middle" fill="#111" transform="scale(0.7003 1)" stroke="#111" stroke-width="0.3" vector-effect="non-scaling-stroke">S</text><text x="918.38" y="760.6" font-size="10.47" text-anchor="middle" fill="#111" transform="scale(0.6365 1)" stroke="#111" stroke-width="0.3" vector-effect="non-scaling-stroke">C</text>
<rect x="509.9" y="885.6" width="138.88" height="20.2" fill="none" stroke="#111" stroke-width="1.2"/>
<rect x="574.1" y="880.6" width="10.5" height="5" fill="none" stroke="#111" stroke-width="1.1"/>
<text xml:space="preserve" x="811.52 818.23 825.26" y="898.6" font-size="10.47" text-anchor="middle" fill="#111" transform="scale(0.6315 1)" stroke="#111" stroke-width="0.3" vector-effect="non-scaling-stroke">310</text>
<line x1="529.74" y1="885.6" x2="529.74" y2="905.8" stroke="#111" stroke-width="1.2"/>
<text xml:space="preserve" x="842.94 849.79 856.68" y="898.6" font-size="10.47" text-anchor="middle" fill="#111" transform="scale(0.6315 1)" stroke="#111" stroke-width="0.3" vector-effect="non-scaling-stroke">309</text>
<line x1="549.58" y1="885.6" x2="549.58" y2="905.8" stroke="#111" stroke-width="1.2"/>
<line x1="549.58" y1="905.8" x2="569.42" y2="885.6" stroke="#111" stroke-width="1"/>
<line x1="569.42" y1="885.6" x2="569.42" y2="905.8" stroke="#111" stroke-width="1.2"/>
<text xml:space="preserve" x="905.77 912.62 919.54" y="898.6" font-size="10.47" text-anchor="middle" fill="#111" transform="scale(0.6315 1)" stroke="#111" stroke-width="0.3" vector-effect="non-scaling-stroke">304</text>
<line x1="589.26" y1="885.6" x2="589.26" y2="905.8" stroke="#111" stroke-width="1.2"/>
<text xml:space="preserve" x="937.19 944.04 950.93" y="898.6" font-size="10.47" text-anchor="middle" fill="#111" transform="scale(0.6315 1)" stroke="#111" stroke-width="0.3" vector-effect="non-scaling-stroke">302</text>
<line x1="609.1" y1="885.6" x2="609.1" y2="905.8" stroke="#111" stroke-width="1.2"/>
<text xml:space="preserve" x="968.6 975.46 982.37" y="898.6" font-size="10.47" text-anchor="middle" fill="#111" transform="scale(0.6315 1)" stroke="#111" stroke-width="0.3" vector-effect="non-scaling-stroke">323</text>
<line x1="628.94" y1="885.6" x2="628.94" y2="905.8" stroke="#111" stroke-width="1.2"/>
<text xml:space="preserve" x="1000.02 1006.91 1013.76" y="898.6" font-size="10.47" text-anchor="middle" fill="#111" transform="scale(0.6315 1)" stroke="#111" stroke-width="0.3" vector-effect="non-scaling-stroke">342</text>
<text xml:space="preserve" x="1385.04" y="882.4" font-size="6.4" text-anchor="middle" fill="#111" transform="scale(0.3753 1)" stroke="#111" stroke-width="0.3" vector-effect="non-scaling-stroke">1</text>
<text xml:space="preserve" x="928.63" y="882.4" font-size="6.4" text-anchor="middle" fill="#111" transform="scale(0.6880 1)" stroke="#111" stroke-width="0.3" vector-effect="non-scaling-stroke">7</text>
<circle cx="648.78" cy="895.6" r="1.6" fill="#000"/>
<text xml:space="preserve" x="825.9 832.78 839.67 846.55 853.44 860.32 867.21" y="849.2" font-size="10.47" text-anchor="middle" fill="#111" transform="scale(0.6768 1)" stroke="#111" stroke-width="0.3" vector-effect="non-scaling-stroke"> I   I </text><text x="967.92" y="849.2" font-size="10.47" text-anchor="middle" fill="#111" transform="scale(0.5775 1)" stroke="#111" stroke-width="0.3" vector-effect="non-scaling-stroke">A</text><text x="880.98" y="849.2" font-size="10.47" text-anchor="middle" fill="#111" transform="scale(0.6449 1)" stroke="#111" stroke-width="0.3" vector-effect="non-scaling-stroke">R</text><text x="871.6" y="849.2" font-size="10.47" text-anchor="middle" fill="#111" transform="scale(0.6574 1)" stroke="#111" stroke-width="0.3" vector-effect="non-scaling-stroke">_</text><text x="1009.04" y="849.2" font-size="10.47" text-anchor="middle" fill="#111" transform="scale(0.5724 1)" stroke="#111" stroke-width="0.3" vector-effect="non-scaling-stroke">M</text><text x="955.71" y="849.2" font-size="10.47" text-anchor="middle" fill="#111" transform="scale(0.6141 1)" stroke="#111" stroke-width="0.3" vector-effect="non-scaling-stroke">X</text>
<text xml:space="preserve" x="822.99 829.75 836.62" y="858.8" font-size="10.76" text-anchor="middle" fill="#111" transform="scale(0.6964 1)" stroke="#111" stroke-width="0.3" vector-effect="non-scaling-stroke">J E</text><text x="972.44" y="858.8" font-size="10.76" text-anchor="middle" fill="#111" transform="scale(0.5942 1)" stroke="#111" stroke-width="0.3" vector-effect="non-scaling-stroke">A</text>
<text xml:space="preserve" x="737.91 744.54 751.69 758.57 765.45 772.35 779.23 786.1 792.99 799.88 806.76 813.68 820.53 827.28" y="869" font-size="10.47" text-anchor="middle" fill="#111" transform="scale(0.7125 1)" stroke="#111" stroke-width="0.3" vector-effect="non-scaling-stroke">IL–  5–7 – 3 1</text><text x="889.02" y="869" font-size="10.47" text-anchor="middle" fill="#111" transform="scale(0.6080 1)" stroke="#111" stroke-width="0.3" vector-effect="non-scaling-stroke">A</text><text x="883.34" y="869" font-size="10.47" text-anchor="middle" fill="#111" transform="scale(0.6175 1)" stroke="#111" stroke-width="0.3" vector-effect="non-scaling-stroke">G</text><text x="806.86" y="869" font-size="10.47" text-anchor="middle" fill="#111" transform="scale(0.7003 1)" stroke="#111" stroke-width="0.3" vector-effect="non-scaling-stroke">S</text><text x="820.87" y="869" font-size="10.47" text-anchor="middle" fill="#111" transform="scale(0.7003 1)" stroke="#111" stroke-width="0.3" vector-effect="non-scaling-stroke">S</text><text x="918.38" y="869" font-size="10.47" text-anchor="middle" fill="#111" transform="scale(0.6365 1)" stroke="#111" stroke-width="0.3" vector-effect="non-scaling-stroke">C</text>
<rect x="1239.7" y="779.2" width="138.6" height="20.1" fill="none" stroke="#111" stroke-width="1.2"/>
<rect x="1303.6" y="774.2" width="10.7" height="5" fill="none" stroke="#111" stroke-width="1.1"/>
<text xml:space="preserve" x="1967.18 1974.04 1980.89" y="791.4" font-size="10.47" text-anchor="middle" fill="#111" transform="scale(0.6315 1)" stroke="#111" stroke-width="0.3" vector-effect="non-scaling-stroke">306</text>
<line x1="1259.5" y1="779.2" x2="1259.5" y2="799.3" stroke="#111" stroke-width="1.2"/>
<text xml:space="preserve" x="1998.54 2005.39 2012.29" y="791.4" font-size="10.47" text-anchor="middle" fill="#111" transform="scale(0.6315 1)" stroke="#111" stroke-width="0.3" vector-effect="non-scaling-stroke">305</text>
<line x1="1279.3" y1="779.2" x2="1279.3" y2="799.3" stroke="#111" stroke-width="1.2"/>
<line x1="1279.3" y1="799.3" x2="1299.1" y2="779.2" stroke="#111" stroke-width="1"/>
<line x1="1299.1" y1="779.2" x2="1299.1" y2="799.3" stroke="#111" stroke-width="1.2"/>
<text xml:space="preserve" x="2061.25 2067.96 2074.98" y="791.4" font-size="10.47" text-anchor="middle" fill="#111" transform="scale(0.6315 1)" stroke="#111" stroke-width="0.3" vector-effect="non-scaling-stroke">317</text>
<line x1="1318.9" y1="779.2" x2="1318.9" y2="799.3" stroke="#111" stroke-width="1.2"/>
<line x1="1318.9" y1="799.3" x2="1338.7" y2="779.2" stroke="#111" stroke-width="1"/>
<line x1="1338.7" y1="779.2" x2="1338.7" y2="799.3" stroke="#111" stroke-width="1.2"/>
<line x1="1338.7" y1="799.3" x2="1358.5" y2="779.2" stroke="#111" stroke-width="1"/>
<line x1="1358.5" y1="779.2" x2="1358.5" y2="799.3" stroke="#111" stroke-width="1.2"/>
<line x1="1358.5" y1="799.3" x2="1378.3" y2="779.2" stroke="#111" stroke-width="1"/>
<text xml:space="preserve" x="3330.02" y="776.7" font-size="6.4" text-anchor="middle" fill="#111" transform="scale(0.3753 1)" stroke="#111" stroke-width="0.3" vector-effect="non-scaling-stroke">1</text>
<text xml:space="preserve" x="1989.53" y="776.7" font-size="6.4" text-anchor="middle" fill="#111" transform="scale(0.6880 1)" stroke="#111" stroke-width="0.3" vector-effect="non-scaling-stroke">7</text>
<circle cx="1239.7" cy="786.6" r="1.6" fill="#000"/>
<text xml:space="preserve" x="1636.86 1643.17 1649.86 1656.36 1662.66 1669.37 1675.68 1682.37 1688.87" y="742.6" font-size="9.88" text-anchor="middle" fill="#111" transform="scale(0.7830 1)" stroke="#111" stroke-width="0.3" vector-effect="non-scaling-stroke"> E /F E H</text><text x="1717.57" y="742.6" font-size="9.88" text-anchor="middle" fill="#111" transform="scale(0.7461 1)" stroke="#111" stroke-width="0.3" vector-effect="non-scaling-stroke">R</text><text x="1846.66" y="742.6" font-size="9.88" text-anchor="middle" fill="#111" transform="scale(0.6995 1)" stroke="#111" stroke-width="0.3" vector-effect="non-scaling-stroke">C</text><text x="1751.69" y="742.6" font-size="9.88" text-anchor="middle" fill="#111" transform="scale(0.7461 1)" stroke="#111" stroke-width="0.3" vector-effect="non-scaling-stroke">R</text><text x="1711.8" y="742.6" font-size="9.88" text-anchor="middle" fill="#111" transform="scale(0.7695 1)" stroke="#111" stroke-width="0.3" vector-effect="non-scaling-stroke">S</text>
<text xml:space="preserve" x="1731.35 1737.83 1744.42" y="753.1" font-size="10.32" text-anchor="middle" fill="#111" transform="scale(0.7525 1)" stroke="#111" stroke-width="0.3" vector-effect="non-scaling-stroke">J E</text><text x="2036.68" y="753.1" font-size="10.32" text-anchor="middle" fill="#111" transform="scale(0.6420 1)" stroke="#111" stroke-width="0.3" vector-effect="non-scaling-stroke">A</text>
<text xml:space="preserve" x="1778.49 1785.21 1792.46 1799.43 1806.42 1813.41 1820.38 1827.35 1834.34 1841.32 1848.3 1855.31 1862.26 1869.1" y="763.2" font-size="10.61" text-anchor="middle" fill="#111" transform="scale(0.7059 1)" stroke="#111" stroke-width="0.3" vector-effect="non-scaling-stroke">IL–  5–7 – 3 1</text><text x="2108.88" y="763.2" font-size="10.61" text-anchor="middle" fill="#111" transform="scale(0.6023 1)" stroke="#111" stroke-width="0.3" vector-effect="non-scaling-stroke">A</text><text x="2084.45" y="763.2" font-size="10.61" text-anchor="middle" fill="#111" transform="scale(0.6117 1)" stroke="#111" stroke-width="0.3" vector-effect="non-scaling-stroke">G</text><text x="1866.42" y="763.2" font-size="10.61" text-anchor="middle" fill="#111" transform="scale(0.6937 1)" stroke="#111" stroke-width="0.3" vector-effect="non-scaling-stroke">S</text><text x="1880.62" y="763.2" font-size="10.61" text-anchor="middle" fill="#111" transform="scale(0.6937 1)" stroke="#111" stroke-width="0.3" vector-effect="non-scaling-stroke">S</text><text x="2084.4" y="763.2" font-size="10.61" text-anchor="middle" fill="#111" transform="scale(0.6306 1)" stroke="#111" stroke-width="0.3" vector-effect="non-scaling-stroke">C</text>
<text xml:space="preserve" x="1569.16 1575.94 1583.08 1589.97 1596.65 1603.73 1610.62 1617.29 1624.39 1631.27" y="388" font-size="10.47" text-anchor="middle" fill="#111" transform="scale(0.8081 1)" stroke="#111" stroke-width="0.3" vector-effect="non-scaling-stroke">BL  E  F N</text><text x="1909.97" y="388" font-size="10.47" text-anchor="middle" fill="#111" transform="scale(0.6698 1)" stroke="#111" stroke-width="0.3" vector-effect="non-scaling-stroke">O</text><text x="2630.41" y="388" font-size="10.47" text-anchor="middle" fill="#111" transform="scale(0.4884 1)" stroke="#111" stroke-width="0.3" vector-effect="non-scaling-stroke">W</text><text x="1682.8" y="388" font-size="10.47" text-anchor="middle" fill="#111" transform="scale(0.7700 1)" stroke="#111" stroke-width="0.3" vector-effect="non-scaling-stroke">R</text><text x="1658.27" y="388" font-size="10.47" text-anchor="middle" fill="#111" transform="scale(0.7849 1)" stroke="#111" stroke-width="0.3" vector-effect="non-scaling-stroke">_</text><text x="1903.73" y="388" font-size="10.47" text-anchor="middle" fill="#111" transform="scale(0.6895 1)" stroke="#111" stroke-width="0.3" vector-effect="non-scaling-stroke">A</text>
<text xml:space="preserve" x="2043.26 2050.53 2057.79 2065.06 2072.33 2079.6" y="400" font-size="11.05" text-anchor="middle" fill="#111" transform="scale(0.6283 1)" stroke="#111" stroke-width="0.3" vector-effect="non-scaling-stroke">  Z  I</text><text x="2250.04" y="400" font-size="11.05" text-anchor="middle" fill="#111" transform="scale(0.5705 1)" stroke="#111" stroke-width="0.3" vector-effect="non-scaling-stroke">Y</text><text x="2403.15" y="400" font-size="11.05" text-anchor="middle" fill="#111" transform="scale(0.5361 1)" stroke="#111" stroke-width="0.3" vector-effect="non-scaling-stroke">A</text><text x="2420.18" y="400" font-size="11.05" text-anchor="middle" fill="#111" transform="scale(0.5361 1)" stroke="#111" stroke-width="0.3" vector-effect="non-scaling-stroke">A</text><text x="2101.02" y="400" font-size="11.05" text-anchor="middle" fill="#111" transform="scale(0.6196 1)" stroke="#111" stroke-width="0.3" vector-effect="non-scaling-stroke">K</text>
<text xml:space="preserve" x="1917.98 1925.01 1932.33 1939.54 1946.68 1953.85 1961.02 1968.19 1975.36" y="412" font-size="10.9" text-anchor="middle" fill="#111" transform="scale(0.6653 1)" stroke="#111" stroke-width="0.3" vector-effect="non-scaling-stroke">7123–2228</text>
<rect x="1285.4" y="421.2" width="30.2" height="19.9" fill="none" stroke="#111" stroke-width="1.2"/>
<rect x="1290.4" y="441.1" width="20.2" height="19.9" fill="none" stroke="#111" stroke-width="1.2"/>
<rect x="1295.4" y="416.5" width="10.3" height="4.7" fill="none" stroke="#111" stroke-width="1.1"/>
<text xml:space="preserve" x="1913.81 1921.28" y="434.6" font-size="11.34" text-anchor="middle" fill="#111" transform="scale(0.6780 1)" stroke="#111" stroke-width="0.3" vector-effect="non-scaling-stroke">79</text>
<text xml:space="preserve" x="2106.3 2113.37 2120.38" y="455" font-size="10.76" text-anchor="middle" fill="#111" transform="scale(0.6144 1)" stroke="#111" stroke-width="0.3" vector-effect="non-scaling-stroke">336</text>
<text xml:space="preserve" x="3682.81" y="432.4" font-size="6.69" text-anchor="middle" fill="#111" transform="scale(0.3590 1)" stroke="#111" stroke-width="0.3" vector-effect="non-scaling-stroke">1</text>
<text xml:space="preserve" x="2001.26" y="452.9" font-size="6.69" text-anchor="middle" fill="#111" transform="scale(0.6581 1)" stroke="#111" stroke-width="0.3" vector-effect="non-scaling-stroke">2</text>
<circle cx="1285.4" cy="431.1" r="1.7" fill="#000"/>
<polyline points="1171.5,490.4 1211.8,431.1 1285.4,431.1" fill="none" stroke="#111" stroke-width="1.1" stroke-linejoin="miter"/>
<polyline points="1260.5,421.2 1270.4,421.2 1270.4,441.1 1260.5,441.1" fill="none" stroke="#111" stroke-width="1.1" stroke-linejoin="miter"/>
<text xml:space="preserve" x="1805.54 1812.04" y="423.6" font-size="9.88" text-anchor="middle" fill="#111" transform="scale(0.6816 1)" stroke="#111" stroke-width="0.3" vector-effect="non-scaling-stroke">80</text>
<text xml:space="preserve" x="1791.5 1798.18 1805.27 1812.15 1819.04 1825.92 1832.81 1839.69" y="557.5" font-size="10.47" text-anchor="middle" fill="#111" transform="scale(0.7524 1)" stroke="#111" stroke-width="0.3" vector-effect="non-scaling-stroke"> E I T  </text><text x="1879.84" y="557.5" font-size="10.47" text-anchor="middle" fill="#111" transform="scale(0.7170 1)" stroke="#111" stroke-width="0.3" vector-effect="non-scaling-stroke">R</text><text x="1836.84" y="557.5" font-size="10.47" text-anchor="middle" fill="#111" transform="scale(0.7395 1)" stroke="#111" stroke-width="0.3" vector-effect="non-scaling-stroke">S</text><text x="1850.85" y="557.5" font-size="10.47" text-anchor="middle" fill="#111" transform="scale(0.7395 1)" stroke="#111" stroke-width="0.3" vector-effect="non-scaling-stroke">S</text><text x="2211.26" y="557.5" font-size="10.47" text-anchor="middle" fill="#111" transform="scale(0.6237 1)" stroke="#111" stroke-width="0.3" vector-effect="non-scaling-stroke">O</text><text x="1930.42" y="557.5" font-size="10.47" text-anchor="middle" fill="#111" transform="scale(0.7170 1)" stroke="#111" stroke-width="0.3" vector-effect="non-scaling-stroke">R</text>
<text xml:space="preserve" x="2024.57 2031.55 2038.52 2045.51 2052.49 2059.47" y="567.5" font-size="10.61" text-anchor="middle" fill="#111" transform="scale(0.6690 1)" stroke="#111" stroke-width="0.3" vector-effect="non-scaling-stroke">  Z  I</text><text x="2229.45" y="567.5" font-size="10.61" text-anchor="middle" fill="#111" transform="scale(0.6075 1)" stroke="#111" stroke-width="0.3" vector-effect="non-scaling-stroke">Y</text><text x="2380.9" y="567.5" font-size="10.61" text-anchor="middle" fill="#111" transform="scale(0.5709 1)" stroke="#111" stroke-width="0.3" vector-effect="non-scaling-stroke">A</text><text x="2397.27" y="567.5" font-size="10.61" text-anchor="middle" fill="#111" transform="scale(0.5709 1)" stroke="#111" stroke-width="0.3" vector-effect="non-scaling-stroke">A</text><text x="2080.92" y="567.5" font-size="10.61" text-anchor="middle" fill="#111" transform="scale(0.6598 1)" stroke="#111" stroke-width="0.3" vector-effect="non-scaling-stroke">K</text>
<text xml:space="preserve" x="1931.88 1938.63 1945.66 1952.57 1959.43 1966.31 1973.2 1980.11 1986.97" y="577.9" font-size="10.47" text-anchor="middle" fill="#111" transform="scale(0.6964 1)" stroke="#111" stroke-width="0.3" vector-effect="non-scaling-stroke">7123–2249</text>
<rect x="1290.4" y="549.6" width="39.5" height="39.4" fill="none" stroke="#111" stroke-width="1.2"/>
<line x1="1290.4" y1="569.4" x2="1329.9" y2="569.4" stroke="#111" stroke-width="1.8"/>
<line x1="1310.3" y1="549.6" x2="1310.3" y2="589" stroke="#111" stroke-width="1.5"/>
<rect x="1305.3" y="544.6" width="10" height="5" fill="none" stroke="#111" stroke-width="1.1"/>
<text xml:space="preserve" x="2245.41 2252.58 2259.73" y="562.4" font-size="10.9" text-anchor="middle" fill="#111" transform="scale(0.5759 1)" stroke="#111" stroke-width="0.3" vector-effect="non-scaling-stroke">335</text>
<text xml:space="preserve" x="2259.81 2266.99 2274.12" y="562.4" font-size="10.9" text-anchor="middle" fill="#111" transform="scale(0.5810 1)" stroke="#111" stroke-width="0.3" vector-effect="non-scaling-stroke">337</text>
<text xml:space="preserve" x="2185.53 2192.51 2199.46" y="581.9" font-size="10.61" text-anchor="middle" fill="#111" transform="scale(0.5917 1)" stroke="#111" stroke-width="0.3" vector-effect="non-scaling-stroke">339</text>
<text xml:space="preserve" x="2199.55 2206.53 2213.48" y="581.9" font-size="10.61" text-anchor="middle" fill="#111" transform="scale(0.5969 1)" stroke="#111" stroke-width="0.3" vector-effect="non-scaling-stroke">338</text>
<text xml:space="preserve" x="3620.12" y="548.4" font-size="6.69" text-anchor="middle" fill="#111" transform="scale(0.3590 1)" stroke="#111" stroke-width="0.3" vector-effect="non-scaling-stroke">1</text>
<text xml:space="preserve" x="2007.49" y="548.4" font-size="6.69" text-anchor="middle" fill="#111" transform="scale(0.6581 1)" stroke="#111" stroke-width="0.3" vector-effect="non-scaling-stroke">2</text>
<text xml:space="preserve" x="1974.68" y="596.7" font-size="6.69" text-anchor="middle" fill="#111" transform="scale(0.6581 1)" stroke="#111" stroke-width="0.3" vector-effect="non-scaling-stroke">3</text>
<text xml:space="preserve" x="1840.22" y="596.7" font-size="6.69" text-anchor="middle" fill="#111" transform="scale(0.7179 1)" stroke="#111" stroke-width="0.3" vector-effect="non-scaling-stroke">4</text>
<circle cx="1290.4" cy="569.4" r="1.7" fill="#000"/>
<polyline points="1171.5,490.4 1211.8,569.4 1290.4,569.4" fill="none" stroke="#111" stroke-width="1.1" stroke-linejoin="miter"/>
<polyline points="1260.5,559.6 1270.4,559.6 1270.4,579.3 1260.5,579.3" fill="none" stroke="#111" stroke-width="1.1" stroke-linejoin="miter"/>
<text xml:space="preserve" x="2286.64 2294.06 2301.32" y="564.5" font-size="11.05" text-anchor="middle" fill="#111" transform="scale(0.5384 1)" stroke="#111" stroke-width="0.3" vector-effect="non-scaling-stroke">100</text>
<text xml:space="preserve" x="1596.16 1602.76 1609.35 1615.95 1622.55 1629.15" y="557.6" font-size="10.03" text-anchor="middle" fill="#111" transform="scale(0.7052 1)" stroke="#111" stroke-width="0.3" vector-effect="non-scaling-stroke">  Z  I</text><text x="1757.69" y="557.6" font-size="10.03" text-anchor="middle" fill="#111" transform="scale(0.6404 1)" stroke="#111" stroke-width="0.3" vector-effect="non-scaling-stroke">Y</text><text x="1878.38" y="557.6" font-size="10.03" text-anchor="middle" fill="#111" transform="scale(0.6017 1)" stroke="#111" stroke-width="0.3" vector-effect="non-scaling-stroke">A</text><text x="1893.84" y="557.6" font-size="10.03" text-anchor="middle" fill="#111" transform="scale(0.6017 1)" stroke="#111" stroke-width="0.3" vector-effect="non-scaling-stroke">A</text><text x="1644.97" y="557.6" font-size="10.03" text-anchor="middle" fill="#111" transform="scale(0.6954 1)" stroke="#111" stroke-width="0.3" vector-effect="non-scaling-stroke">K</text>
<text xml:space="preserve" x="1538.31 1544.77 1551.51 1558.14 1564.71 1571.3 1577.9 1584.5 1591.1" y="570.3" font-size="10.03" text-anchor="middle" fill="#111" transform="scale(0.7267 1)" stroke="#111" stroke-width="0.3" vector-effect="non-scaling-stroke">7123–2228</text>
<rect x="1127.2" y="579.4" width="30" height="19.8" fill="none" stroke="#111" stroke-width="1.2"/>
<rect x="1132.1" y="599.2" width="20.2" height="19.9" fill="none" stroke="#111" stroke-width="1.2"/>
<rect x="1137.6" y="574.6" width="9.7" height="4.8" fill="none" stroke="#111" stroke-width="1.1"/>
<text xml:space="preserve" x="1878.95 1886 1893.07" y="591.8" font-size="10.76" text-anchor="middle" fill="#111" transform="scale(0.6042 1)" stroke="#111" stroke-width="0.3" vector-effect="non-scaling-stroke">320</text>
<text xml:space="preserve" x="2013.99 2020.88 2028.07" y="611.4" font-size="10.76" text-anchor="middle" fill="#111" transform="scale(0.5632 1)" stroke="#111" stroke-width="0.3" vector-effect="non-scaling-stroke">316</text>
<text xml:space="preserve" x="3236.51" y="590.4" font-size="6.69" text-anchor="middle" fill="#111" transform="scale(0.3590 1)" stroke="#111" stroke-width="0.3" vector-effect="non-scaling-stroke">1</text>
<text xml:space="preserve" x="1758.13" y="611.5" font-size="6.69" text-anchor="middle" fill="#111" transform="scale(0.6581 1)" stroke="#111" stroke-width="0.3" vector-effect="non-scaling-stroke">2</text>
<circle cx="1127.2" cy="589.3" r="1.6" fill="#000"/>
<line x1="211.6" y1="353.2" x2="238.9" y2="353.2" stroke="#111" stroke-width="1.2"/>
<line x1="211.6" y1="366.3" x2="238.9" y2="366.3" stroke="#111" stroke-width="1.2"/>
<polyline points="236.3,349.4 246.7,359.6 236.3,369.8" fill="none" stroke="#111" stroke-width="1.2" stroke-linejoin="miter"/>
<rect x="254.7" y="357.2" width="22.9" height="11.2" fill="none" stroke="#111" stroke-width="1.2"/>
<rect x="254.7" y="353.9" width="5" height="3.3" fill="none" stroke="#111" stroke-width="1"/>
<line x1="277.6" y1="359.9" x2="292.4" y2="359.9" stroke="#111" stroke-width="1.1"/>
<line x1="277.6" y1="362.8" x2="292.4" y2="362.8" stroke="#111" stroke-width="1.1"/>
<line x1="277.6" y1="366.3" x2="292.4" y2="366.3" stroke="#111" stroke-width="1.1"/>
<polyline points="277.8,357 280,346.3 341,346.3" fill="none" stroke="#111" stroke-width="1" stroke-linejoin="miter"/>
<polygon points="277.8,357 277.96,351.41 279.92,351.83" fill="#111" stroke="#111" stroke-width="0.5" stroke-linejoin="miter"/>
<text xml:space="preserve" x="349.17 356.15 363.12 370.1 377.1 383.99 391.01 398.03 404.75" y="343.7" font-size="10.61" text-anchor="middle" fill="#111" transform="scale(0.8242 1)" stroke="#111" stroke-width="0.3" vector-effect="non-scaling-stroke"> onnector</text><text x="390.76" y="343.7" font-size="10.61" text-anchor="middle" fill="#111" transform="scale(0.7363 1)" stroke="#111" stroke-width="0.3" vector-effect="non-scaling-stroke">C</text>
<rect x="83.1" y="480.6" width="348" height="522.31" fill="none" stroke="#222" stroke-width="1.2"/>
<line x1="101.5" y1="480.6" x2="101.5" y2="1002.91" stroke="#222" stroke-width="1.1"/>
<line x1="123" y1="480.6" x2="123" y2="1002.91" stroke="#222" stroke-width="1.1"/>
<line x1="155.3" y1="480.6" x2="155.3" y2="1002.91" stroke="#222" stroke-width="1.1"/>
<line x1="215.2" y1="480.6" x2="215.2" y2="1002.91" stroke="#222" stroke-width="1.1"/>
<line x1="263.2" y1="480.6" x2="263.2" y2="1002.91" stroke="#222" stroke-width="1.1"/>
<line x1="322" y1="480.6" x2="322" y2="1002.91" stroke="#222" stroke-width="1.1"/>
<line x1="359.9" y1="480.6" x2="359.9" y2="1002.91" stroke="#222" stroke-width="1.1"/>
<line x1="384.4" y1="480.6" x2="384.4" y2="1002.91" stroke="#222" stroke-width="1.1"/>
<line x1="83.1" y1="492.5" x2="431.1" y2="492.5" stroke="#222" stroke-width="1.3"/>
<line x1="83.1" y1="504.37" x2="431.1" y2="504.37" stroke="#222" stroke-width="1"/>
<line x1="83.1" y1="516.24" x2="431.1" y2="516.24" stroke="#222" stroke-width="1"/>
<line x1="83.1" y1="528.11" x2="431.1" y2="528.11" stroke="#222" stroke-width="1"/>
<line x1="83.1" y1="539.98" x2="431.1" y2="539.98" stroke="#222" stroke-width="1"/>
<line x1="83.1" y1="551.85" x2="431.1" y2="551.85" stroke="#222" stroke-width="1"/>
<line x1="83.1" y1="563.72" x2="431.1" y2="563.72" stroke="#222" stroke-width="1"/>
<line x1="83.1" y1="575.59" x2="431.1" y2="575.59" stroke="#222" stroke-width="1"/>
<line x1="83.1" y1="587.46" x2="431.1" y2="587.46" stroke="#222" stroke-width="1"/>
<line x1="83.1" y1="599.33" x2="431.1" y2="599.33" stroke="#222" stroke-width="1"/>
<line x1="83.1" y1="611.2" x2="431.1" y2="611.2" stroke="#222" stroke-width="1"/>
<line x1="83.1" y1="623.07" x2="431.1" y2="623.07" stroke="#222" stroke-width="1"/>
<line x1="83.1" y1="634.94" x2="431.1" y2="634.94" stroke="#222" stroke-width="1"/>
<line x1="83.1" y1="646.81" x2="431.1" y2="646.81" stroke="#222" stroke-width="1"/>
<line x1="83.1" y1="658.68" x2="431.1" y2="658.68" stroke="#222" stroke-width="1"/>
<line x1="83.1" y1="670.55" x2="431.1" y2="670.55" stroke="#222" stroke-width="1"/>
<line x1="83.1" y1="682.42" x2="431.1" y2="682.42" stroke="#222" stroke-width="1"/>
<line x1="83.1" y1="694.29" x2="431.1" y2="694.29" stroke="#222" stroke-width="1"/>
<line x1="83.1" y1="706.16" x2="431.1" y2="706.16" stroke="#222" stroke-width="1"/>
<line x1="83.1" y1="718.03" x2="431.1" y2="718.03" stroke="#222" stroke-width="1"/>
<line x1="83.1" y1="729.9" x2="431.1" y2="729.9" stroke="#222" stroke-width="1"/>
<line x1="83.1" y1="741.77" x2="431.1" y2="741.77" stroke="#222" stroke-width="1"/>
<line x1="83.1" y1="753.64" x2="431.1" y2="753.64" stroke="#222" stroke-width="1"/>
<line x1="83.1" y1="765.51" x2="431.1" y2="765.51" stroke="#222" stroke-width="1"/>
<line x1="83.1" y1="777.38" x2="431.1" y2="777.38" stroke="#222" stroke-width="1"/>
<line x1="83.1" y1="789.25" x2="431.1" y2="789.25" stroke="#222" stroke-width="1"/>
<line x1="83.1" y1="801.12" x2="431.1" y2="801.12" stroke="#222" stroke-width="1"/>
<line x1="83.1" y1="812.99" x2="431.1" y2="812.99" stroke="#222" stroke-width="1"/>
<line x1="83.1" y1="824.86" x2="431.1" y2="824.86" stroke="#222" stroke-width="1"/>
<line x1="83.1" y1="836.73" x2="431.1" y2="836.73" stroke="#222" stroke-width="1"/>
<line x1="83.1" y1="848.6" x2="431.1" y2="848.6" stroke="#222" stroke-width="1"/>
<line x1="83.1" y1="860.47" x2="431.1" y2="860.47" stroke="#222" stroke-width="1"/>
<line x1="83.1" y1="872.34" x2="431.1" y2="872.34" stroke="#222" stroke-width="1"/>
<line x1="83.1" y1="884.21" x2="431.1" y2="884.21" stroke="#222" stroke-width="1"/>
<line x1="83.1" y1="896.08" x2="431.1" y2="896.08" stroke="#222" stroke-width="1"/>
<line x1="83.1" y1="907.95" x2="431.1" y2="907.95" stroke="#222" stroke-width="1"/>
<line x1="83.1" y1="919.82" x2="431.1" y2="919.82" stroke="#222" stroke-width="1"/>
<line x1="83.1" y1="931.69" x2="431.1" y2="931.69" stroke="#222" stroke-width="1"/>
<line x1="83.1" y1="943.56" x2="431.1" y2="943.56" stroke="#222" stroke-width="1"/>
<line x1="83.1" y1="955.43" x2="431.1" y2="955.43" stroke="#222" stroke-width="1"/>
<line x1="83.1" y1="967.3" x2="431.1" y2="967.3" stroke="#222" stroke-width="1"/>
<line x1="83.1" y1="979.17" x2="431.1" y2="979.17" stroke="#222" stroke-width="1"/>
<line x1="83.1" y1="991.04" x2="431.1" y2="991.04" stroke="#222" stroke-width="1"/>
<text xml:space="preserve" x="187.25 193.66 200.07" y="489.9" font-size="9.74" text-anchor="middle" fill="#222" transform="scale(0.4604 1)" stroke="#222" stroke-width="0.3" vector-effect="non-scaling-stroke">No.</text>
<text xml:space="preserve" x="225.7 232.1 238.51 244.73" y="489.9" font-size="9.74" text-anchor="middle" fill="#222" transform="scale(0.4604 1)" stroke="#222" stroke-width="0.3" vector-effect="non-scaling-stroke"> IZE</text><text x="229.65" y="489.9" font-size="9.74" text-anchor="middle" fill="#222" transform="scale(0.4525 1)" stroke="#222" stroke-width="0.3" vector-effect="non-scaling-stroke">S</text>
<text xml:space="preserve" x="273.91 280.32 286.49 293.13 299.54" y="489.9" font-size="9.74" text-anchor="middle" fill="#222" transform="scale(0.4604 1)" stroke="#222" stroke-width="0.3" vector-effect="non-scaling-stroke">  L  </text><text x="306.53" y="489.9" font-size="9.74" text-anchor="middle" fill="#222" transform="scale(0.4114 1)" stroke="#222" stroke-width="0.3" vector-effect="non-scaling-stroke">C</text><text x="338.2" y="489.9" font-size="9.74" text-anchor="middle" fill="#222" transform="scale(0.3816 1)" stroke="#222" stroke-width="0.3" vector-effect="non-scaling-stroke">O</text><text x="353.66" y="489.9" font-size="9.74" text-anchor="middle" fill="#222" transform="scale(0.3816 1)" stroke="#222" stroke-width="0.3" vector-effect="non-scaling-stroke">O</text><text x="314.17" y="489.9" font-size="9.74" text-anchor="middle" fill="#222" transform="scale(0.4388 1)" stroke="#222" stroke-width="0.3" vector-effect="non-scaling-stroke">R</text>
<text xml:space="preserve" x="384.03 390.4 397.05 403.46" y="489.9" font-size="9.74" text-anchor="middle" fill="#222" transform="scale(0.4604 1)" stroke="#222" stroke-width="0.3" vector-effect="non-scaling-stroke">Fro </text><text x="499.65" y="489.9" font-size="9.74" text-anchor="middle" fill="#222" transform="scale(0.3718 1)" stroke="#222" stroke-width="0.3" vector-effect="non-scaling-stroke">m</text>
<text xml:space="preserve" x="473.49 483.22 493.24 503.01 512.78 522.42 532.33 542.1 551.88" y="489.9" font-size="9.74" text-anchor="middle" fill="#222" transform="scale(0.4604 1)" stroke="#222" stroke-width="0.3" vector-effect="non-scaling-stroke">From PIN#</text>
<text xml:space="preserve" x="628.49 634.14" y="489.9" font-size="9.74" text-anchor="middle" fill="#222" transform="scale(0.4604 1)" stroke="#222" stroke-width="0.3" vector-effect="non-scaling-stroke"> o</text><text x="712.65" y="489.9" font-size="9.74" text-anchor="middle" fill="#222" transform="scale(0.4061 1)" stroke="#222" stroke-width="0.3" vector-effect="non-scaling-stroke">T</text>
<text xml:space="preserve" x="704.05 710.78 717.52 724.11 730.98 737.71 744.45" y="489.9" font-size="9.74" text-anchor="middle" fill="#222" transform="scale(0.4604 1)" stroke="#222" stroke-width="0.3" vector-effect="non-scaling-stroke">To PIN#</text>
<text xml:space="preserve" x="787.89 794.08 800.27 806.46" y="489.9" font-size="9.74" text-anchor="middle" fill="#222" transform="scale(0.4604 1)" stroke="#222" stroke-width="0.3" vector-effect="non-scaling-stroke"> I  </text><text x="826.64" y="489.9" font-size="9.74" text-anchor="middle" fill="#222" transform="scale(0.4387 1)" stroke="#222" stroke-width="0.3" vector-effect="non-scaling-stroke">K</text><text x="817.82" y="489.9" font-size="9.74" text-anchor="middle" fill="#222" transform="scale(0.4506 1)" stroke="#222" stroke-width="0.3" vector-effect="non-scaling-stroke">N</text><text x="873.68" y="489.9" font-size="9.74" text-anchor="middle" fill="#222" transform="scale(0.4249 1)" stroke="#222" stroke-width="0.3" vector-effect="non-scaling-stroke">D</text>
<text xml:space="preserve" x="841.23 847.74 854.26 860.77 867.1 873.8 880.32" y="489.9" font-size="9.74" text-anchor="middle" fill="#222" transform="scale(0.4604 1)" stroke="#222" stroke-width="0.3" vector-effect="non-scaling-stroke">    ENT</text><text x="925.85" y="489.9" font-size="9.74" text-anchor="middle" fill="#222" transform="scale(0.4183 1)" stroke="#222" stroke-width="0.3" vector-effect="non-scaling-stroke">C</text><text x="1005.75" y="489.9" font-size="9.74" text-anchor="middle" fill="#222" transform="scale(0.3881 1)" stroke="#222" stroke-width="0.3" vector-effect="non-scaling-stroke">O</text><text x="993.17" y="489.9" font-size="9.74" text-anchor="middle" fill="#222" transform="scale(0.3960 1)" stroke="#222" stroke-width="0.3" vector-effect="non-scaling-stroke">M</text><text x="1000.75" y="489.9" font-size="9.74" text-anchor="middle" fill="#222" transform="scale(0.3960 1)" stroke="#222" stroke-width="0.3" vector-effect="non-scaling-stroke">M</text>
<text xml:space="preserve" x="185.77 192.11" y="501.49" font-size="9.74" text-anchor="middle" fill="#222" transform="scale(0.4604 1)" stroke="#222" stroke-width="0.3" vector-effect="non-scaling-stroke">46</text>
<text xml:space="preserve" x="225.26 231.67 238.08 244.49" y="501.49" font-size="9.74" text-anchor="middle" fill="#222" transform="scale(0.4604 1)" stroke="#222" stroke-width="0.3" vector-effect="non-scaling-stroke">0.85</text>
<text xml:space="preserve" x="287.81" y="501.49" font-size="9.74" text-anchor="middle" fill="#222" transform="scale(0.4604 1)" stroke="#222" stroke-width="0.3" vector-effect="non-scaling-stroke"> </text><text x="476.14" y="501.49" font-size="9.74" text-anchor="middle" fill="#222" transform="scale(0.2783 1)" stroke="#222" stroke-width="0.3" vector-effect="non-scaling-stroke">W</text>
<text xml:space="preserve" x="341.89 348.29 354.7 361.11 367.51 373.92" y="501.49" font-size="9.74" text-anchor="middle" fill="#222" transform="scale(0.4604 1)" stroke="#222" stroke-width="0.3" vector-effect="non-scaling-stroke"> ly.  </text><text x="358.61" y="501.49" font-size="9.74" text-anchor="middle" fill="#222" transform="scale(0.4388 1)" stroke="#222" stroke-width="0.3" vector-effect="non-scaling-stroke">R</text><text x="385.5" y="501.49" font-size="9.74" text-anchor="middle" fill="#222" transform="scale(0.4388 1)" stroke="#222" stroke-width="0.3" vector-effect="non-scaling-stroke">R</text><text x="418.48" y="501.49" font-size="9.74" text-anchor="middle" fill="#222" transform="scale(0.4114 1)" stroke="#222" stroke-width="0.3" vector-effect="non-scaling-stroke">C</text>
<text xml:space="preserve" x="505" y="501.49" font-size="9.74" text-anchor="middle" fill="#222" transform="scale(0.4604 1)" stroke="#222" stroke-width="0.3" vector-effect="non-scaling-stroke">5</text>
<text xml:space="preserve" x="579.27 585.67 592.08 598.34 604.7 611.3 617.71 624.11 630.52" y="501.49" font-size="9.74" text-anchor="middle" fill="#222" transform="scale(0.4604 1)" stroke="#222" stroke-width="0.3" vector-effect="non-scaling-stroke">   PE    </text><text x="648.32" y="501.49" font-size="9.74" text-anchor="middle" fill="#222" transform="scale(0.4114 1)" stroke="#222" stroke-width="0.3" vector-effect="non-scaling-stroke">C</text><text x="706.61" y="501.49" font-size="9.74" text-anchor="middle" fill="#222" transform="scale(0.3816 1)" stroke="#222" stroke-width="0.3" vector-effect="non-scaling-stroke">O</text><text x="700.03" y="501.49" font-size="9.74" text-anchor="middle" fill="#222" transform="scale(0.3894 1)" stroke="#222" stroke-width="0.3" vector-effect="non-scaling-stroke">M</text><text x="621.99" y="501.49" font-size="9.74" text-anchor="middle" fill="#222" transform="scale(0.4525 1)" stroke="#222" stroke-width="0.3" vector-effect="non-scaling-stroke">S</text><text x="628.51" y="501.49" font-size="9.74" text-anchor="middle" fill="#222" transform="scale(0.4525 1)" stroke="#222" stroke-width="0.3" vector-effect="non-scaling-stroke">S</text><text x="752.99" y="501.49" font-size="9.74" text-anchor="middle" fill="#222" transform="scale(0.3816 1)" stroke="#222" stroke-width="0.3" vector-effect="non-scaling-stroke">O</text><text x="661.51" y="501.49" font-size="9.74" text-anchor="middle" fill="#222" transform="scale(0.4388 1)" stroke="#222" stroke-width="0.3" vector-effect="non-scaling-stroke">R</text>
<text xml:space="preserve" x="729.64" y="501.49" font-size="9.74" text-anchor="middle" fill="#222" transform="scale(0.4604 1)" stroke="#222" stroke-width="0.3" vector-effect="non-scaling-stroke">1</text>
<text xml:space="preserve" x="787.76 794.17 800.57 806.98" y="501.49" font-size="9.74" text-anchor="middle" fill="#222" transform="scale(0.4604 1)" stroke="#222" stroke-width="0.3" vector-effect="non-scaling-stroke">    </text><text x="881.69" y="501.49" font-size="9.74" text-anchor="middle" fill="#222" transform="scale(0.4114 1)" stroke="#222" stroke-width="0.3" vector-effect="non-scaling-stroke">C</text><text x="930.74" y="501.49" font-size="9.74" text-anchor="middle" fill="#222" transform="scale(0.3929 1)" stroke="#222" stroke-width="0.3" vector-effect="non-scaling-stroke">A</text><text x="931.33" y="501.49" font-size="9.74" text-anchor="middle" fill="#222" transform="scale(0.3958 1)" stroke="#222" stroke-width="0.3" vector-effect="non-scaling-stroke">V</text><text x="821.09" y="501.49" font-size="9.74" text-anchor="middle" fill="#222" transform="scale(0.4525 1)" stroke="#222" stroke-width="0.3" vector-effect="non-scaling-stroke">S</text>
<text xml:space="preserve" x="185.73 192.14" y="513.36" font-size="9.74" text-anchor="middle" fill="#222" transform="scale(0.4604 1)" stroke="#222" stroke-width="0.3" vector-effect="non-scaling-stroke">79</text>
<text xml:space="preserve" x="225.29" y="513.36" font-size="9.74" text-anchor="middle" fill="#222" transform="scale(0.4604 1)" stroke="#222" stroke-width="0.3" vector-effect="non-scaling-stroke">3</text>
<text xml:space="preserve" x="287.67 293.97" y="513.36" font-size="9.74" text-anchor="middle" fill="#222" transform="scale(0.4604 1)" stroke="#222" stroke-width="0.3" vector-effect="non-scaling-stroke">Br</text>
<text xml:space="preserve" x="341.75 348.06 354.7 361.11 367.32 373.92 380.33 386.53 393.14 399.55" y="513.36" font-size="9.74" text-anchor="middle" fill="#222" transform="scale(0.4604 1)" stroke="#222" stroke-width="0.3" vector-effect="non-scaling-stroke">BL  E  F N</text><text x="427.94" y="513.36" font-size="9.74" text-anchor="middle" fill="#222" transform="scale(0.3816 1)" stroke="#222" stroke-width="0.3" vector-effect="non-scaling-stroke">O</text><text x="597.41" y="513.36" font-size="9.74" text-anchor="middle" fill="#222" transform="scale(0.2783 1)" stroke="#222" stroke-width="0.3" vector-effect="non-scaling-stroke">W</text><text x="392.23" y="513.36" font-size="9.74" text-anchor="middle" fill="#222" transform="scale(0.4388 1)" stroke="#222" stroke-width="0.3" vector-effect="non-scaling-stroke">R</text><text x="391.59" y="513.36" font-size="9.74" text-anchor="middle" fill="#222" transform="scale(0.4472 1)" stroke="#222" stroke-width="0.3" vector-effect="non-scaling-stroke">_</text><text x="460.75" y="513.36" font-size="9.74" text-anchor="middle" fill="#222" transform="scale(0.3929 1)" stroke="#222" stroke-width="0.3" vector-effect="non-scaling-stroke">A</text>
<text xml:space="preserve" x="504.86" y="513.36" font-size="9.74" text-anchor="middle" fill="#222" transform="scale(0.4604 1)" stroke="#222" stroke-width="0.3" vector-effect="non-scaling-stroke">1</text>
<text xml:space="preserve" x="579.27 585.67 592.08 598.28 604.66 611.3 617.71 624.11" y="513.36" font-size="9.74" text-anchor="middle" fill="#222" transform="scale(0.4604 1)" stroke="#222" stroke-width="0.3" vector-effect="non-scaling-stroke">T  FL   </text><text x="706.61" y="513.36" font-size="9.74" text-anchor="middle" fill="#222" transform="scale(0.3816 1)" stroke="#222" stroke-width="0.3" vector-effect="non-scaling-stroke">O</text><text x="609.61" y="513.36" font-size="9.74" text-anchor="middle" fill="#222" transform="scale(0.4472 1)" stroke="#222" stroke-width="0.3" vector-effect="non-scaling-stroke">_</text><text x="737.53" y="513.36" font-size="9.74" text-anchor="middle" fill="#222" transform="scale(0.3816 1)" stroke="#222" stroke-width="0.3" vector-effect="non-scaling-stroke">O</text><text x="745.26" y="513.36" font-size="9.74" text-anchor="middle" fill="#222" transform="scale(0.3816 1)" stroke="#222" stroke-width="0.3" vector-effect="non-scaling-stroke">O</text><text x="654.78" y="513.36" font-size="9.74" text-anchor="middle" fill="#222" transform="scale(0.4388 1)" stroke="#222" stroke-width="0.3" vector-effect="non-scaling-stroke">R</text>
<text xml:space="preserve" x="729.77" y="513.36" font-size="9.74" text-anchor="middle" fill="#222" transform="scale(0.4604 1)" stroke="#222" stroke-width="0.3" vector-effect="non-scaling-stroke">2</text>
<text xml:space="preserve" x="787.76 794.17 800.57" y="513.36" font-size="9.74" text-anchor="middle" fill="#222" transform="scale(0.4604 1)" stroke="#222" stroke-width="0.3" vector-effect="non-scaling-stroke">   </text><text x="923.23" y="513.36" font-size="9.74" text-anchor="middle" fill="#222" transform="scale(0.3929 1)" stroke="#222" stroke-width="0.3" vector-effect="non-scaling-stroke">A</text><text x="923.88" y="513.36" font-size="9.74" text-anchor="middle" fill="#222" transform="scale(0.3958 1)" stroke="#222" stroke-width="0.3" vector-effect="non-scaling-stroke">V</text><text x="814.58" y="513.36" font-size="9.74" text-anchor="middle" fill="#222" transform="scale(0.4525 1)" stroke="#222" stroke-width="0.3" vector-effect="non-scaling-stroke">S</text>
<text xml:space="preserve" x="185.76 192.14 198.42" y="525.23" font-size="9.74" text-anchor="middle" fill="#222" transform="scale(0.4604 1)" stroke="#222" stroke-width="0.3" vector-effect="non-scaling-stroke">301</text>
<text xml:space="preserve" x="225.26 231.67 238.1" y="525.23" font-size="9.74" text-anchor="middle" fill="#222" transform="scale(0.4604 1)" stroke="#222" stroke-width="0.3" vector-effect="non-scaling-stroke">0.3</text>
<text xml:space="preserve" x="287.81 294.22" y="525.23" font-size="9.74" text-anchor="middle" fill="#222" transform="scale(0.4604 1)" stroke="#222" stroke-width="0.3" vector-effect="non-scaling-stroke">  </text><text x="332.21" y="525.23" font-size="9.74" text-anchor="middle" fill="#222" transform="scale(0.3991 1)" stroke="#222" stroke-width="0.3" vector-effect="non-scaling-stroke">G</text><text x="323.99" y="525.23" font-size="9.74" text-anchor="middle" fill="#222" transform="scale(0.4181 1)" stroke="#222" stroke-width="0.3" vector-effect="non-scaling-stroke">Y</text>
<text xml:space="preserve" x="341.89 348.29 354.7 361.11 367.37 373.92 380.33 386.73 392.95 399.31" y="525.23" font-size="9.74" text-anchor="middle" fill="#222" transform="scale(0.4604 1)" stroke="#222" stroke-width="0.3" vector-effect="non-scaling-stroke"> /  P NNEL</text><text x="400.68" y="525.23" font-size="9.74" text-anchor="middle" fill="#222" transform="scale(0.3929 1)" stroke="#222" stroke-width="0.3" vector-effect="non-scaling-stroke">A</text><text x="396.96" y="525.23" font-size="9.74" text-anchor="middle" fill="#222" transform="scale(0.4114 1)" stroke="#222" stroke-width="0.3" vector-effect="non-scaling-stroke">C</text><text x="371.8" y="525.23" font-size="9.74" text-anchor="middle" fill="#222" transform="scale(0.4472 1)" stroke="#222" stroke-width="0.3" vector-effect="non-scaling-stroke">_</text><text x="438.22" y="525.23" font-size="9.74" text-anchor="middle" fill="#222" transform="scale(0.3929 1)" stroke="#222" stroke-width="0.3" vector-effect="non-scaling-stroke">A</text>
<text xml:space="preserve" x="504.86 511.4" y="525.23" font-size="9.74" text-anchor="middle" fill="#222" transform="scale(0.4604 1)" stroke="#222" stroke-width="0.3" vector-effect="non-scaling-stroke">19</text>
<text xml:space="preserve" x="579.27 585.67 592.08 598.3" y="525.23" font-size="9.74" text-anchor="middle" fill="#222" transform="scale(0.4604 1)" stroke="#222" stroke-width="0.3" vector-effect="non-scaling-stroke">   E</text><text x="684.88" y="525.23" font-size="9.74" text-anchor="middle" fill="#222" transform="scale(0.3894 1)" stroke="#222" stroke-width="0.3" vector-effect="non-scaling-stroke">M</text><text x="706.61" y="525.23" font-size="9.74" text-anchor="middle" fill="#222" transform="scale(0.3816 1)" stroke="#222" stroke-width="0.3" vector-effect="non-scaling-stroke">O</text><text x="619.64" y="525.23" font-size="9.74" text-anchor="middle" fill="#222" transform="scale(0.4398 1)" stroke="#222" stroke-width="0.3" vector-effect="non-scaling-stroke">D</text>
<text xml:space="preserve" x="729.78" y="525.23" font-size="9.74" text-anchor="middle" fill="#222" transform="scale(0.4604 1)" stroke="#222" stroke-width="0.3" vector-effect="non-scaling-stroke">5</text>
<text xml:space="preserve" x="787.76 794.17 800.57 806.98" y="525.23" font-size="9.74" text-anchor="middle" fill="#222" transform="scale(0.4604 1)" stroke="#222" stroke-width="0.3" vector-effect="non-scaling-stroke">    </text><text x="881.69" y="525.23" font-size="9.74" text-anchor="middle" fill="#222" transform="scale(0.4114 1)" stroke="#222" stroke-width="0.3" vector-effect="non-scaling-stroke">C</text><text x="930.74" y="525.23" font-size="9.74" text-anchor="middle" fill="#222" transform="scale(0.3929 1)" stroke="#222" stroke-width="0.3" vector-effect="non-scaling-stroke">A</text><text x="931.33" y="525.23" font-size="9.74" text-anchor="middle" fill="#222" transform="scale(0.3958 1)" stroke="#222" stroke-width="0.3" vector-effect="non-scaling-stroke">V</text><text x="821.09" y="525.23" font-size="9.74" text-anchor="middle" fill="#222" transform="scale(0.4525 1)" stroke="#222" stroke-width="0.3" vector-effect="non-scaling-stroke">S</text>
<text xml:space="preserve" x="185.76 192.14 198.55" y="537.1" font-size="9.74" text-anchor="middle" fill="#222" transform="scale(0.4604 1)" stroke="#222" stroke-width="0.3" vector-effect="non-scaling-stroke">302</text>
<text xml:space="preserve" x="225.26 231.67 238.1" y="537.1" font-size="9.74" text-anchor="middle" fill="#222" transform="scale(0.4604 1)" stroke="#222" stroke-width="0.3" vector-effect="non-scaling-stroke">0.3</text>
<text xml:space="preserve" x="287.81 294.22" y="537.1" font-size="9.74" text-anchor="middle" fill="#222" transform="scale(0.4604 1)" stroke="#222" stroke-width="0.3" vector-effect="non-scaling-stroke">  </text><text x="332.21" y="537.1" font-size="9.74" text-anchor="middle" fill="#222" transform="scale(0.3991 1)" stroke="#222" stroke-width="0.3" vector-effect="non-scaling-stroke">G</text><text x="486.74" y="537.1" font-size="9.74" text-anchor="middle" fill="#222" transform="scale(0.2783 1)" stroke="#222" stroke-width="0.3" vector-effect="non-scaling-stroke">W</text>
<text xml:space="preserve" x="341.89 348.29 354.7 361.11 367.37 373.92 380.33 386.73 392.95 399.31" y="537.1" font-size="9.74" text-anchor="middle" fill="#222" transform="scale(0.4604 1)" stroke="#222" stroke-width="0.3" vector-effect="non-scaling-stroke"> /  P NNEL</text><text x="400.68" y="537.1" font-size="9.74" text-anchor="middle" fill="#222" transform="scale(0.3929 1)" stroke="#222" stroke-width="0.3" vector-effect="non-scaling-stroke">A</text><text x="396.96" y="537.1" font-size="9.74" text-anchor="middle" fill="#222" transform="scale(0.4114 1)" stroke="#222" stroke-width="0.3" vector-effect="non-scaling-stroke">C</text><text x="371.8" y="537.1" font-size="9.74" text-anchor="middle" fill="#222" transform="scale(0.4472 1)" stroke="#222" stroke-width="0.3" vector-effect="non-scaling-stroke">_</text><text x="438.22" y="537.1" font-size="9.74" text-anchor="middle" fill="#222" transform="scale(0.3929 1)" stroke="#222" stroke-width="0.3" vector-effect="non-scaling-stroke">A</text>
<text xml:space="preserve" x="504.86 511.4" y="537.1" font-size="9.74" text-anchor="middle" fill="#222" transform="scale(0.4604 1)" stroke="#222" stroke-width="0.3" vector-effect="non-scaling-stroke">18</text>
<text xml:space="preserve" x="579.27 585.67 592.08 598.49 604.89 611.3" y="537.1" font-size="9.74" text-anchor="middle" fill="#222" transform="scale(0.4604 1)" stroke="#222" stroke-width="0.3" vector-effect="non-scaling-stroke"> I  I </text><text x="678.88" y="537.1" font-size="9.74" text-anchor="middle" fill="#222" transform="scale(0.3929 1)" stroke="#222" stroke-width="0.3" vector-effect="non-scaling-stroke">A</text><text x="621.17" y="537.1" font-size="9.74" text-anchor="middle" fill="#222" transform="scale(0.4388 1)" stroke="#222" stroke-width="0.3" vector-effect="non-scaling-stroke">R</text><text x="707.6" y="537.1" font-size="9.74" text-anchor="middle" fill="#222" transform="scale(0.3894 1)" stroke="#222" stroke-width="0.3" vector-effect="non-scaling-stroke">M</text><text x="673.68" y="537.1" font-size="9.74" text-anchor="middle" fill="#222" transform="scale(0.4178 1)" stroke="#222" stroke-width="0.3" vector-effect="non-scaling-stroke">X</text>
<text xml:space="preserve" x="729.78" y="537.1" font-size="9.74" text-anchor="middle" fill="#222" transform="scale(0.4604 1)" stroke="#222" stroke-width="0.3" vector-effect="non-scaling-stroke">5</text>
<text xml:space="preserve" x="787.76 794.17 800.57 806.98" y="537.1" font-size="9.74" text-anchor="middle" fill="#222" transform="scale(0.4604 1)" stroke="#222" stroke-width="0.3" vector-effect="non-scaling-stroke">    </text><text x="881.69" y="537.1" font-size="9.74" text-anchor="middle" fill="#222" transform="scale(0.4114 1)" stroke="#222" stroke-width="0.3" vector-effect="non-scaling-stroke">C</text><text x="930.74" y="537.1" font-size="9.74" text-anchor="middle" fill="#222" transform="scale(0.3929 1)" stroke="#222" stroke-width="0.3" vector-effect="non-scaling-stroke">A</text><text x="931.33" y="537.1" font-size="9.74" text-anchor="middle" fill="#222" transform="scale(0.3958 1)" stroke="#222" stroke-width="0.3" vector-effect="non-scaling-stroke">V</text><text x="821.09" y="537.1" font-size="9.74" text-anchor="middle" fill="#222" transform="scale(0.4525 1)" stroke="#222" stroke-width="0.3" vector-effect="non-scaling-stroke">S</text>
<text xml:space="preserve" x="185.76 192.14 198.58" y="548.97" font-size="9.74" text-anchor="middle" fill="#222" transform="scale(0.4604 1)" stroke="#222" stroke-width="0.3" vector-effect="non-scaling-stroke">303</text>
<text xml:space="preserve" x="225.26 231.67 238.1" y="548.97" font-size="9.74" text-anchor="middle" fill="#222" transform="scale(0.4604 1)" stroke="#222" stroke-width="0.3" vector-effect="non-scaling-stroke">0.3</text>
<text xml:space="preserve" x="287.81" y="548.97" font-size="9.74" text-anchor="middle" fill="#222" transform="scale(0.4604 1)" stroke="#222" stroke-width="0.3" vector-effect="non-scaling-stroke"> </text><text x="316.94" y="548.97" font-size="9.74" text-anchor="middle" fill="#222" transform="scale(0.4181 1)" stroke="#222" stroke-width="0.3" vector-effect="non-scaling-stroke">Y</text>
<text xml:space="preserve" x="341.89 348.29 354.7 361.11 367.37 373.92 380.33 386.73 392.95 399.31" y="548.97" font-size="9.74" text-anchor="middle" fill="#222" transform="scale(0.4604 1)" stroke="#222" stroke-width="0.3" vector-effect="non-scaling-stroke"> /  P NNEL</text><text x="400.68" y="548.97" font-size="9.74" text-anchor="middle" fill="#222" transform="scale(0.3929 1)" stroke="#222" stroke-width="0.3" vector-effect="non-scaling-stroke">A</text><text x="396.96" y="548.97" font-size="9.74" text-anchor="middle" fill="#222" transform="scale(0.4114 1)" stroke="#222" stroke-width="0.3" vector-effect="non-scaling-stroke">C</text><text x="371.8" y="548.97" font-size="9.74" text-anchor="middle" fill="#222" transform="scale(0.4472 1)" stroke="#222" stroke-width="0.3" vector-effect="non-scaling-stroke">_</text><text x="438.22" y="548.97" font-size="9.74" text-anchor="middle" fill="#222" transform="scale(0.3929 1)" stroke="#222" stroke-width="0.3" vector-effect="non-scaling-stroke">A</text>
<text xml:space="preserve" x="504.86 511.39" y="548.97" font-size="9.74" text-anchor="middle" fill="#222" transform="scale(0.4604 1)" stroke="#222" stroke-width="0.3" vector-effect="non-scaling-stroke">17</text>
<text xml:space="preserve" x="579.27 585.67 592.08 598.3" y="548.97" font-size="9.74" text-anchor="middle" fill="#222" transform="scale(0.4604 1)" stroke="#222" stroke-width="0.3" vector-effect="non-scaling-stroke">   E</text><text x="684.88" y="548.97" font-size="9.74" text-anchor="middle" fill="#222" transform="scale(0.3894 1)" stroke="#222" stroke-width="0.3" vector-effect="non-scaling-stroke">M</text><text x="706.61" y="548.97" font-size="9.74" text-anchor="middle" fill="#222" transform="scale(0.3816 1)" stroke="#222" stroke-width="0.3" vector-effect="non-scaling-stroke">O</text><text x="619.64" y="548.97" font-size="9.74" text-anchor="middle" fill="#222" transform="scale(0.4398 1)" stroke="#222" stroke-width="0.3" vector-effect="non-scaling-stroke">D</text>
<text xml:space="preserve" x="729.8" y="548.97" font-size="9.74" text-anchor="middle" fill="#222" transform="scale(0.4604 1)" stroke="#222" stroke-width="0.3" vector-effect="non-scaling-stroke">4</text>
<text xml:space="preserve" x="787.76 794.17 800.57 806.98" y="548.97" font-size="9.74" text-anchor="middle" fill="#222" transform="scale(0.4604 1)" stroke="#222" stroke-width="0.3" vector-effect="non-scaling-stroke">    </text><text x="881.69" y="548.97" font-size="9.74" text-anchor="middle" fill="#222" transform="scale(0.4114 1)" stroke="#222" stroke-width="0.3" vector-effect="non-scaling-stroke">C</text><text x="930.74" y="548.97" font-size="9.74" text-anchor="middle" fill="#222" transform="scale(0.3929 1)" stroke="#222" stroke-width="0.3" vector-effect="non-scaling-stroke">A</text><text x="931.33" y="548.97" font-size="9.74" text-anchor="middle" fill="#222" transform="scale(0.3958 1)" stroke="#222" stroke-width="0.3" vector-effect="non-scaling-stroke">V</text><text x="821.09" y="548.97" font-size="9.74" text-anchor="middle" fill="#222" transform="scale(0.4525 1)" stroke="#222" stroke-width="0.3" vector-effect="non-scaling-stroke">S</text>
<text xml:space="preserve" x="185.76 192.14 198.58" y="560.84" font-size="9.74" text-anchor="middle" fill="#222" transform="scale(0.4604 1)" stroke="#222" stroke-width="0.3" vector-effect="non-scaling-stroke">304</text>
<text xml:space="preserve" x="225.26 231.67 238.1" y="560.84" font-size="9.74" text-anchor="middle" fill="#222" transform="scale(0.4604 1)" stroke="#222" stroke-width="0.3" vector-effect="non-scaling-stroke">0.3</text>
<text xml:space="preserve" x="287.81" y="560.84" font-size="9.74" text-anchor="middle" fill="#222" transform="scale(0.4604 1)" stroke="#222" stroke-width="0.3" vector-effect="non-scaling-stroke"> </text><text x="476.14" y="560.84" font-size="9.74" text-anchor="middle" fill="#222" transform="scale(0.2783 1)" stroke="#222" stroke-width="0.3" vector-effect="non-scaling-stroke">W</text>
<text xml:space="preserve" x="341.89 348.29 354.7 361.11 367.37 373.92 380.33 386.73 392.95 399.31" y="560.84" font-size="9.74" text-anchor="middle" fill="#222" transform="scale(0.4604 1)" stroke="#222" stroke-width="0.3" vector-effect="non-scaling-stroke"> /  P NNEL</text><text x="400.68" y="560.84" font-size="9.74" text-anchor="middle" fill="#222" transform="scale(0.3929 1)" stroke="#222" stroke-width="0.3" vector-effect="non-scaling-stroke">A</text><text x="396.96" y="560.84" font-size="9.74" text-anchor="middle" fill="#222" transform="scale(0.4114 1)" stroke="#222" stroke-width="0.3" vector-effect="non-scaling-stroke">C</text><text x="371.8" y="560.84" font-size="9.74" text-anchor="middle" fill="#222" transform="scale(0.4472 1)" stroke="#222" stroke-width="0.3" vector-effect="non-scaling-stroke">_</text><text x="438.22" y="560.84" font-size="9.74" text-anchor="middle" fill="#222" transform="scale(0.3929 1)" stroke="#222" stroke-width="0.3" vector-effect="non-scaling-stroke">A</text>
<text xml:space="preserve" x="504.86 511.36" y="560.84" font-size="9.74" text-anchor="middle" fill="#222" transform="scale(0.4604 1)" stroke="#222" stroke-width="0.3" vector-effect="non-scaling-stroke">16</text>
<text xml:space="preserve" x="579.27 585.67 592.08 598.49 604.89 611.3" y="560.84" font-size="9.74" text-anchor="middle" fill="#222" transform="scale(0.4604 1)" stroke="#222" stroke-width="0.3" vector-effect="non-scaling-stroke"> I  I </text><text x="678.88" y="560.84" font-size="9.74" text-anchor="middle" fill="#222" transform="scale(0.3929 1)" stroke="#222" stroke-width="0.3" vector-effect="non-scaling-stroke">A</text><text x="621.17" y="560.84" font-size="9.74" text-anchor="middle" fill="#222" transform="scale(0.4388 1)" stroke="#222" stroke-width="0.3" vector-effect="non-scaling-stroke">R</text><text x="707.6" y="560.84" font-size="9.74" text-anchor="middle" fill="#222" transform="scale(0.3894 1)" stroke="#222" stroke-width="0.3" vector-effect="non-scaling-stroke">M</text><text x="673.68" y="560.84" font-size="9.74" text-anchor="middle" fill="#222" transform="scale(0.4178 1)" stroke="#222" stroke-width="0.3" vector-effect="non-scaling-stroke">X</text>
<text xml:space="preserve" x="729.8" y="560.84" font-size="9.74" text-anchor="middle" fill="#222" transform="scale(0.4604 1)" stroke="#222" stroke-width="0.3" vector-effect="non-scaling-stroke">4</text>
<text xml:space="preserve" x="787.76 794.17 800.57 806.98" y="560.84" font-size="9.74" text-anchor="middle" fill="#222" transform="scale(0.4604 1)" stroke="#222" stroke-width="0.3" vector-effect="non-scaling-stroke">    </text><text x="881.69" y="560.84" font-size="9.74" text-anchor="middle" fill="#222" transform="scale(0.4114 1)" stroke="#222" stroke-width="0.3" vector-effect="non-scaling-stroke">C</text><text x="930.74" y="560.84" font-size="9.74" text-anchor="middle" fill="#222" transform="scale(0.3929 1)" stroke="#222" stroke-width="0.3" vector-effect="non-scaling-stroke">A</text><text x="931.33" y="560.84" font-size="9.74" text-anchor="middle" fill="#222" transform="scale(0.3958 1)" stroke="#222" stroke-width="0.3" vector-effect="non-scaling-stroke">V</text><text x="821.09" y="560.84" font-size="9.74" text-anchor="middle" fill="#222" transform="scale(0.4525 1)" stroke="#222" stroke-width="0.3" vector-effect="non-scaling-stroke">S</text>
<text xml:space="preserve" x="185.76 192.14 198.56" y="572.71" font-size="9.74" text-anchor="middle" fill="#222" transform="scale(0.4604 1)" stroke="#222" stroke-width="0.3" vector-effect="non-scaling-stroke">305</text>
<text xml:space="preserve" x="225.26 231.67 238.1" y="572.71" font-size="9.74" text-anchor="middle" fill="#222" transform="scale(0.4604 1)" stroke="#222" stroke-width="0.3" vector-effect="non-scaling-stroke">0.3</text>
<text xml:space="preserve" x="287.81 293.98" y="572.71" font-size="9.74" text-anchor="middle" fill="#222" transform="scale(0.4604 1)" stroke="#222" stroke-width="0.3" vector-effect="non-scaling-stroke"> L</text><text x="301.86" y="572.71" font-size="9.74" text-anchor="middle" fill="#222" transform="scale(0.4388 1)" stroke="#222" stroke-width="0.3" vector-effect="non-scaling-stroke">R</text>
<text xml:space="preserve" x="341.89 348.29 354.7 361.11 367.37 373.92 380.33 386.73 392.95 399.31" y="572.71" font-size="9.74" text-anchor="middle" fill="#222" transform="scale(0.4604 1)" stroke="#222" stroke-width="0.3" vector-effect="non-scaling-stroke"> /  P NNEL</text><text x="400.68" y="572.71" font-size="9.74" text-anchor="middle" fill="#222" transform="scale(0.3929 1)" stroke="#222" stroke-width="0.3" vector-effect="non-scaling-stroke">A</text><text x="396.96" y="572.71" font-size="9.74" text-anchor="middle" fill="#222" transform="scale(0.4114 1)" stroke="#222" stroke-width="0.3" vector-effect="non-scaling-stroke">C</text><text x="371.8" y="572.71" font-size="9.74" text-anchor="middle" fill="#222" transform="scale(0.4472 1)" stroke="#222" stroke-width="0.3" vector-effect="non-scaling-stroke">_</text><text x="438.22" y="572.71" font-size="9.74" text-anchor="middle" fill="#222" transform="scale(0.3929 1)" stroke="#222" stroke-width="0.3" vector-effect="non-scaling-stroke">A</text>
<text xml:space="preserve" x="504.86 511.4" y="572.71" font-size="9.74" text-anchor="middle" fill="#222" transform="scale(0.4604 1)" stroke="#222" stroke-width="0.3" vector-effect="non-scaling-stroke">12</text>
<text xml:space="preserve" x="579.27 585.48 592.08 598.49 604.69 611.3 617.52 624.11 630.52" y="572.71" font-size="9.74" text-anchor="middle" fill="#222" transform="scale(0.4604 1)" stroke="#222" stroke-width="0.3" vector-effect="non-scaling-stroke"> E /F E H</text><text x="607.72" y="572.71" font-size="9.74" text-anchor="middle" fill="#222" transform="scale(0.4388 1)" stroke="#222" stroke-width="0.3" vector-effect="non-scaling-stroke">R</text><text x="662.67" y="572.71" font-size="9.74" text-anchor="middle" fill="#222" transform="scale(0.4114 1)" stroke="#222" stroke-width="0.3" vector-effect="non-scaling-stroke">C</text><text x="641.34" y="572.71" font-size="9.74" text-anchor="middle" fill="#222" transform="scale(0.4388 1)" stroke="#222" stroke-width="0.3" vector-effect="non-scaling-stroke">R</text><text x="635.03" y="572.71" font-size="9.74" text-anchor="middle" fill="#222" transform="scale(0.4525 1)" stroke="#222" stroke-width="0.3" vector-effect="non-scaling-stroke">S</text>
<text xml:space="preserve" x="729.77" y="572.71" font-size="9.74" text-anchor="middle" fill="#222" transform="scale(0.4604 1)" stroke="#222" stroke-width="0.3" vector-effect="non-scaling-stroke">2</text>
<text xml:space="preserve" x="787.76 794.17 800.57 806.98" y="572.71" font-size="9.74" text-anchor="middle" fill="#222" transform="scale(0.4604 1)" stroke="#222" stroke-width="0.3" vector-effect="non-scaling-stroke">    </text><text x="881.69" y="572.71" font-size="9.74" text-anchor="middle" fill="#222" transform="scale(0.4114 1)" stroke="#222" stroke-width="0.3" vector-effect="non-scaling-stroke">C</text><text x="930.74" y="572.71" font-size="9.74" text-anchor="middle" fill="#222" transform="scale(0.3929 1)" stroke="#222" stroke-width="0.3" vector-effect="non-scaling-stroke">A</text><text x="931.33" y="572.71" font-size="9.74" text-anchor="middle" fill="#222" transform="scale(0.3958 1)" stroke="#222" stroke-width="0.3" vector-effect="non-scaling-stroke">V</text><text x="821.09" y="572.71" font-size="9.74" text-anchor="middle" fill="#222" transform="scale(0.4525 1)" stroke="#222" stroke-width="0.3" vector-effect="non-scaling-stroke">S</text>
<text xml:space="preserve" x="185.76 192.14 198.52" y="584.58" font-size="9.74" text-anchor="middle" fill="#222" transform="scale(0.4604 1)" stroke="#222" stroke-width="0.3" vector-effect="non-scaling-stroke">306</text>
<text xml:space="preserve" x="225.26 231.67 238.1" y="584.58" font-size="9.74" text-anchor="middle" fill="#222" transform="scale(0.4604 1)" stroke="#222" stroke-width="0.3" vector-effect="non-scaling-stroke">0.3</text>
<text xml:space="preserve" x="287.57 294.22" y="584.58" font-size="9.74" text-anchor="middle" fill="#222" transform="scale(0.4604 1)" stroke="#222" stroke-width="0.3" vector-effect="non-scaling-stroke">L </text><text x="308.58" y="584.58" font-size="9.74" text-anchor="middle" fill="#222" transform="scale(0.4388 1)" stroke="#222" stroke-width="0.3" vector-effect="non-scaling-stroke">R</text>
<text xml:space="preserve" x="341.89 348.29 354.7 361.11 367.37 373.92 380.33 386.73 392.95 399.31" y="584.58" font-size="9.74" text-anchor="middle" fill="#222" transform="scale(0.4604 1)" stroke="#222" stroke-width="0.3" vector-effect="non-scaling-stroke"> /  P NNEL</text><text x="400.68" y="584.58" font-size="9.74" text-anchor="middle" fill="#222" transform="scale(0.3929 1)" stroke="#222" stroke-width="0.3" vector-effect="non-scaling-stroke">A</text><text x="396.96" y="584.58" font-size="9.74" text-anchor="middle" fill="#222" transform="scale(0.4114 1)" stroke="#222" stroke-width="0.3" vector-effect="non-scaling-stroke">C</text><text x="371.8" y="584.58" font-size="9.74" text-anchor="middle" fill="#222" transform="scale(0.4472 1)" stroke="#222" stroke-width="0.3" vector-effect="non-scaling-stroke">_</text><text x="438.22" y="584.58" font-size="9.74" text-anchor="middle" fill="#222" transform="scale(0.3929 1)" stroke="#222" stroke-width="0.3" vector-effect="non-scaling-stroke">A</text>
<text xml:space="preserve" x="504.86 511.26" y="584.58" font-size="9.74" text-anchor="middle" fill="#222" transform="scale(0.4604 1)" stroke="#222" stroke-width="0.3" vector-effect="non-scaling-stroke">11</text>
<text xml:space="preserve" x="579.27 585.48 592.08 598.49 604.69 611.3 617.52 624.11 630.52" y="584.58" font-size="9.74" text-anchor="middle" fill="#222" transform="scale(0.4604 1)" stroke="#222" stroke-width="0.3" vector-effect="non-scaling-stroke"> E /F E H</text><text x="607.72" y="584.58" font-size="9.74" text-anchor="middle" fill="#222" transform="scale(0.4388 1)" stroke="#222" stroke-width="0.3" vector-effect="non-scaling-stroke">R</text><text x="662.67" y="584.58" font-size="9.74" text-anchor="middle" fill="#222" transform="scale(0.4114 1)" stroke="#222" stroke-width="0.3" vector-effect="non-scaling-stroke">C</text><text x="641.34" y="584.58" font-size="9.74" text-anchor="middle" fill="#222" transform="scale(0.4388 1)" stroke="#222" stroke-width="0.3" vector-effect="non-scaling-stroke">R</text><text x="635.03" y="584.58" font-size="9.74" text-anchor="middle" fill="#222" transform="scale(0.4525 1)" stroke="#222" stroke-width="0.3" vector-effect="non-scaling-stroke">S</text>
<text xml:space="preserve" x="729.64" y="584.58" font-size="9.74" text-anchor="middle" fill="#222" transform="scale(0.4604 1)" stroke="#222" stroke-width="0.3" vector-effect="non-scaling-stroke">1</text>
<text xml:space="preserve" x="787.76 794.17 800.57 806.98" y="584.58" font-size="9.74" text-anchor="middle" fill="#222" transform="scale(0.4604 1)" stroke="#222" stroke-width="0.3" vector-effect="non-scaling-stroke">    </text><text x="881.69" y="584.58" font-size="9.74" text-anchor="middle" fill="#222" transform="scale(0.4114 1)" stroke="#222" stroke-width="0.3" vector-effect="non-scaling-stroke">C</text><text x="930.74" y="584.58" font-size="9.74" text-anchor="middle" fill="#222" transform="scale(0.3929 1)" stroke="#222" stroke-width="0.3" vector-effect="non-scaling-stroke">A</text><text x="931.33" y="584.58" font-size="9.74" text-anchor="middle" fill="#222" transform="scale(0.3958 1)" stroke="#222" stroke-width="0.3" vector-effect="non-scaling-stroke">V</text><text x="821.09" y="584.58" font-size="9.74" text-anchor="middle" fill="#222" transform="scale(0.4525 1)" stroke="#222" stroke-width="0.3" vector-effect="non-scaling-stroke">S</text>
<text xml:space="preserve" x="185.76 192.14 198.54" y="596.45" font-size="9.74" text-anchor="middle" fill="#222" transform="scale(0.4604 1)" stroke="#222" stroke-width="0.3" vector-effect="non-scaling-stroke">307</text>
<text xml:space="preserve" x="225.26 231.67 238.1" y="596.45" font-size="9.74" text-anchor="middle" fill="#222" transform="scale(0.4604 1)" stroke="#222" stroke-width="0.3" vector-effect="non-scaling-stroke">0.3</text>
<text xml:space="preserve" x="287.81" y="596.45" font-size="9.74" text-anchor="middle" fill="#222" transform="scale(0.4604 1)" stroke="#222" stroke-width="0.3" vector-effect="non-scaling-stroke"> </text><text x="301.86" y="596.45" font-size="9.74" text-anchor="middle" fill="#222" transform="scale(0.4388 1)" stroke="#222" stroke-width="0.3" vector-effect="non-scaling-stroke">R</text>
<text xml:space="preserve" x="341.89 348.29 354.7 361.11 367.37 373.92 380.33 386.73 392.95 399.31" y="596.45" font-size="9.74" text-anchor="middle" fill="#222" transform="scale(0.4604 1)" stroke="#222" stroke-width="0.3" vector-effect="non-scaling-stroke"> /  P NNEL</text><text x="400.68" y="596.45" font-size="9.74" text-anchor="middle" fill="#222" transform="scale(0.3929 1)" stroke="#222" stroke-width="0.3" vector-effect="non-scaling-stroke">A</text><text x="396.96" y="596.45" font-size="9.74" text-anchor="middle" fill="#222" transform="scale(0.4114 1)" stroke="#222" stroke-width="0.3" vector-effect="non-scaling-stroke">C</text><text x="371.8" y="596.45" font-size="9.74" text-anchor="middle" fill="#222" transform="scale(0.4472 1)" stroke="#222" stroke-width="0.3" vector-effect="non-scaling-stroke">_</text><text x="438.22" y="596.45" font-size="9.74" text-anchor="middle" fill="#222" transform="scale(0.3929 1)" stroke="#222" stroke-width="0.3" vector-effect="non-scaling-stroke">A</text>
<text xml:space="preserve" x="504.86 511.4" y="596.45" font-size="9.74" text-anchor="middle" fill="#222" transform="scale(0.4604 1)" stroke="#222" stroke-width="0.3" vector-effect="non-scaling-stroke">10</text>
<text xml:space="preserve" x="579.27 585.67 592.08 598.3" y="596.45" font-size="9.74" text-anchor="middle" fill="#222" transform="scale(0.4604 1)" stroke="#222" stroke-width="0.3" vector-effect="non-scaling-stroke">   E</text><text x="684.88" y="596.45" font-size="9.74" text-anchor="middle" fill="#222" transform="scale(0.3894 1)" stroke="#222" stroke-width="0.3" vector-effect="non-scaling-stroke">M</text><text x="706.61" y="596.45" font-size="9.74" text-anchor="middle" fill="#222" transform="scale(0.3816 1)" stroke="#222" stroke-width="0.3" vector-effect="non-scaling-stroke">O</text><text x="619.64" y="596.45" font-size="9.74" text-anchor="middle" fill="#222" transform="scale(0.4398 1)" stroke="#222" stroke-width="0.3" vector-effect="non-scaling-stroke">D</text>
<text xml:space="preserve" x="729.77" y="596.45" font-size="9.74" text-anchor="middle" fill="#222" transform="scale(0.4604 1)" stroke="#222" stroke-width="0.3" vector-effect="non-scaling-stroke">2</text>
<text xml:space="preserve" x="787.76 794.17 800.57 806.98" y="596.45" font-size="9.74" text-anchor="middle" fill="#222" transform="scale(0.4604 1)" stroke="#222" stroke-width="0.3" vector-effect="non-scaling-stroke">    </text><text x="881.69" y="596.45" font-size="9.74" text-anchor="middle" fill="#222" transform="scale(0.4114 1)" stroke="#222" stroke-width="0.3" vector-effect="non-scaling-stroke">C</text><text x="930.74" y="596.45" font-size="9.74" text-anchor="middle" fill="#222" transform="scale(0.3929 1)" stroke="#222" stroke-width="0.3" vector-effect="non-scaling-stroke">A</text><text x="931.33" y="596.45" font-size="9.74" text-anchor="middle" fill="#222" transform="scale(0.3958 1)" stroke="#222" stroke-width="0.3" vector-effect="non-scaling-stroke">V</text><text x="821.09" y="596.45" font-size="9.74" text-anchor="middle" fill="#222" transform="scale(0.4525 1)" stroke="#222" stroke-width="0.3" vector-effect="non-scaling-stroke">S</text>
<text xml:space="preserve" x="185.76 192.14 198.55" y="608.32" font-size="9.74" text-anchor="middle" fill="#222" transform="scale(0.4604 1)" stroke="#222" stroke-width="0.3" vector-effect="non-scaling-stroke">308</text>
<text xml:space="preserve" x="225.26 231.67 238.1" y="608.32" font-size="9.74" text-anchor="middle" fill="#222" transform="scale(0.4604 1)" stroke="#222" stroke-width="0.3" vector-effect="non-scaling-stroke">0.3</text>
<text xml:space="preserve" x="287.81 294.22" y="608.32" font-size="9.74" text-anchor="middle" fill="#222" transform="scale(0.4604 1)" stroke="#222" stroke-width="0.3" vector-effect="non-scaling-stroke">  </text><text x="316.94" y="608.32" font-size="9.74" text-anchor="middle" fill="#222" transform="scale(0.4181 1)" stroke="#222" stroke-width="0.3" vector-effect="non-scaling-stroke">Y</text><text x="308.58" y="608.32" font-size="9.74" text-anchor="middle" fill="#222" transform="scale(0.4388 1)" stroke="#222" stroke-width="0.3" vector-effect="non-scaling-stroke">R</text>
<text xml:space="preserve" x="341.89 348.29 354.7 361.11 367.37 373.92 380.33 386.73 392.95 399.31" y="608.32" font-size="9.74" text-anchor="middle" fill="#222" transform="scale(0.4604 1)" stroke="#222" stroke-width="0.3" vector-effect="non-scaling-stroke"> /  P NNEL</text><text x="400.68" y="608.32" font-size="9.74" text-anchor="middle" fill="#222" transform="scale(0.3929 1)" stroke="#222" stroke-width="0.3" vector-effect="non-scaling-stroke">A</text><text x="396.96" y="608.32" font-size="9.74" text-anchor="middle" fill="#222" transform="scale(0.4114 1)" stroke="#222" stroke-width="0.3" vector-effect="non-scaling-stroke">C</text><text x="371.8" y="608.32" font-size="9.74" text-anchor="middle" fill="#222" transform="scale(0.4472 1)" stroke="#222" stroke-width="0.3" vector-effect="non-scaling-stroke">_</text><text x="438.22" y="608.32" font-size="9.74" text-anchor="middle" fill="#222" transform="scale(0.3929 1)" stroke="#222" stroke-width="0.3" vector-effect="non-scaling-stroke">A</text>
<text xml:space="preserve" x="504.99" y="608.32" font-size="9.74" text-anchor="middle" fill="#222" transform="scale(0.4604 1)" stroke="#222" stroke-width="0.3" vector-effect="non-scaling-stroke">9</text>
<text xml:space="preserve" x="579.27 585.67 592.08 598.3" y="608.32" font-size="9.74" text-anchor="middle" fill="#222" transform="scale(0.4604 1)" stroke="#222" stroke-width="0.3" vector-effect="non-scaling-stroke">   E</text><text x="684.88" y="608.32" font-size="9.74" text-anchor="middle" fill="#222" transform="scale(0.3894 1)" stroke="#222" stroke-width="0.3" vector-effect="non-scaling-stroke">M</text><text x="706.61" y="608.32" font-size="9.74" text-anchor="middle" fill="#222" transform="scale(0.3816 1)" stroke="#222" stroke-width="0.3" vector-effect="non-scaling-stroke">O</text><text x="619.64" y="608.32" font-size="9.74" text-anchor="middle" fill="#222" transform="scale(0.4398 1)" stroke="#222" stroke-width="0.3" vector-effect="non-scaling-stroke">D</text>
<text xml:space="preserve" x="729.64" y="608.32" font-size="9.74" text-anchor="middle" fill="#222" transform="scale(0.4604 1)" stroke="#222" stroke-width="0.3" vector-effect="non-scaling-stroke">1</text>
<text xml:space="preserve" x="787.76 794.17 800.57 806.98" y="608.32" font-size="9.74" text-anchor="middle" fill="#222" transform="scale(0.4604 1)" stroke="#222" stroke-width="0.3" vector-effect="non-scaling-stroke">    </text><text x="881.69" y="608.32" font-size="9.74" text-anchor="middle" fill="#222" transform="scale(0.4114 1)" stroke="#222" stroke-width="0.3" vector-effect="non-scaling-stroke">C</text><text x="930.74" y="608.32" font-size="9.74" text-anchor="middle" fill="#222" transform="scale(0.3929 1)" stroke="#222" stroke-width="0.3" vector-effect="non-scaling-stroke">A</text><text x="931.33" y="608.32" font-size="9.74" text-anchor="middle" fill="#222" transform="scale(0.3958 1)" stroke="#222" stroke-width="0.3" vector-effect="non-scaling-stroke">V</text><text x="821.09" y="608.32" font-size="9.74" text-anchor="middle" fill="#222" transform="scale(0.4525 1)" stroke="#222" stroke-width="0.3" vector-effect="non-scaling-stroke">S</text>
<text xml:space="preserve" x="185.76 192.14 198.55" y="620.19" font-size="9.74" text-anchor="middle" fill="#222" transform="scale(0.4604 1)" stroke="#222" stroke-width="0.3" vector-effect="non-scaling-stroke">309</text>
<text xml:space="preserve" x="225.26 231.67 238.1" y="620.19" font-size="9.74" text-anchor="middle" fill="#222" transform="scale(0.4604 1)" stroke="#222" stroke-width="0.3" vector-effect="non-scaling-stroke">0.3</text>
<text xml:space="preserve" x="287.81 294.22" y="620.19" font-size="9.74" text-anchor="middle" fill="#222" transform="scale(0.4604 1)" stroke="#222" stroke-width="0.3" vector-effect="non-scaling-stroke">  </text><text x="301.86" y="620.19" font-size="9.74" text-anchor="middle" fill="#222" transform="scale(0.4388 1)" stroke="#222" stroke-width="0.3" vector-effect="non-scaling-stroke">R</text><text x="486.74" y="620.19" font-size="9.74" text-anchor="middle" fill="#222" transform="scale(0.2783 1)" stroke="#222" stroke-width="0.3" vector-effect="non-scaling-stroke">W</text>
<text xml:space="preserve" x="341.89 348.29 354.7 361.11 367.37 373.92 380.33 386.73 392.95 399.31" y="620.19" font-size="9.74" text-anchor="middle" fill="#222" transform="scale(0.4604 1)" stroke="#222" stroke-width="0.3" vector-effect="non-scaling-stroke"> /  P NNEL</text><text x="400.68" y="620.19" font-size="9.74" text-anchor="middle" fill="#222" transform="scale(0.3929 1)" stroke="#222" stroke-width="0.3" vector-effect="non-scaling-stroke">A</text><text x="396.96" y="620.19" font-size="9.74" text-anchor="middle" fill="#222" transform="scale(0.4114 1)" stroke="#222" stroke-width="0.3" vector-effect="non-scaling-stroke">C</text><text x="371.8" y="620.19" font-size="9.74" text-anchor="middle" fill="#222" transform="scale(0.4472 1)" stroke="#222" stroke-width="0.3" vector-effect="non-scaling-stroke">_</text><text x="438.22" y="620.19" font-size="9.74" text-anchor="middle" fill="#222" transform="scale(0.3929 1)" stroke="#222" stroke-width="0.3" vector-effect="non-scaling-stroke">A</text>
<text xml:space="preserve" x="504.99" y="620.19" font-size="9.74" text-anchor="middle" fill="#222" transform="scale(0.4604 1)" stroke="#222" stroke-width="0.3" vector-effect="non-scaling-stroke">8</text>
<text xml:space="preserve" x="579.27 585.67 592.08 598.49 604.89 611.3" y="620.19" font-size="9.74" text-anchor="middle" fill="#222" transform="scale(0.4604 1)" stroke="#222" stroke-width="0.3" vector-effect="non-scaling-stroke"> I  I </text><text x="678.88" y="620.19" font-size="9.74" text-anchor="middle" fill="#222" transform="scale(0.3929 1)" stroke="#222" stroke-width="0.3" vector-effect="non-scaling-stroke">A</text><text x="621.17" y="620.19" font-size="9.74" text-anchor="middle" fill="#222" transform="scale(0.4388 1)" stroke="#222" stroke-width="0.3" vector-effect="non-scaling-stroke">R</text><text x="707.6" y="620.19" font-size="9.74" text-anchor="middle" fill="#222" transform="scale(0.3894 1)" stroke="#222" stroke-width="0.3" vector-effect="non-scaling-stroke">M</text><text x="673.68" y="620.19" font-size="9.74" text-anchor="middle" fill="#222" transform="scale(0.4178 1)" stroke="#222" stroke-width="0.3" vector-effect="non-scaling-stroke">X</text>
<text xml:space="preserve" x="729.77" y="620.19" font-size="9.74" text-anchor="middle" fill="#222" transform="scale(0.4604 1)" stroke="#222" stroke-width="0.3" vector-effect="non-scaling-stroke">2</text>
<text xml:space="preserve" x="787.76 794.17 800.57 806.98" y="620.19" font-size="9.74" text-anchor="middle" fill="#222" transform="scale(0.4604 1)" stroke="#222" stroke-width="0.3" vector-effect="non-scaling-stroke">    </text><text x="881.69" y="620.19" font-size="9.74" text-anchor="middle" fill="#222" transform="scale(0.4114 1)" stroke="#222" stroke-width="0.3" vector-effect="non-scaling-stroke">C</text><text x="930.74" y="620.19" font-size="9.74" text-anchor="middle" fill="#222" transform="scale(0.3929 1)" stroke="#222" stroke-width="0.3" vector-effect="non-scaling-stroke">A</text><text x="931.33" y="620.19" font-size="9.74" text-anchor="middle" fill="#222" transform="scale(0.3958 1)" stroke="#222" stroke-width="0.3" vector-effect="non-scaling-stroke">V</text><text x="821.09" y="620.19" font-size="9.74" text-anchor="middle" fill="#222" transform="scale(0.4525 1)" stroke="#222" stroke-width="0.3" vector-effect="non-scaling-stroke">S</text>
<text xml:space="preserve" x="185.76 192.01 198.55" y="632.05" font-size="9.74" text-anchor="middle" fill="#222" transform="scale(0.4604 1)" stroke="#222" stroke-width="0.3" vector-effect="non-scaling-stroke">310</text>
<text xml:space="preserve" x="225.26 231.67 238.1" y="632.05" font-size="9.74" text-anchor="middle" fill="#222" transform="scale(0.4604 1)" stroke="#222" stroke-width="0.3" vector-effect="non-scaling-stroke">0.3</text>
<text xml:space="preserve" x="287.81 294.22" y="632.05" font-size="9.74" text-anchor="middle" fill="#222" transform="scale(0.4604 1)" stroke="#222" stroke-width="0.3" vector-effect="non-scaling-stroke">  </text><text x="476.14" y="632.05" font-size="9.74" text-anchor="middle" fill="#222" transform="scale(0.2783 1)" stroke="#222" stroke-width="0.3" vector-effect="non-scaling-stroke">W</text><text x="308.58" y="632.05" font-size="9.74" text-anchor="middle" fill="#222" transform="scale(0.4388 1)" stroke="#222" stroke-width="0.3" vector-effect="non-scaling-stroke">R</text>
<text xml:space="preserve" x="341.89 348.29 354.7 361.11 367.37 373.92 380.33 386.73 392.95 399.31" y="632.05" font-size="9.74" text-anchor="middle" fill="#222" transform="scale(0.4604 1)" stroke="#222" stroke-width="0.3" vector-effect="non-scaling-stroke"> /  P NNEL</text><text x="400.68" y="632.05" font-size="9.74" text-anchor="middle" fill="#222" transform="scale(0.3929 1)" stroke="#222" stroke-width="0.3" vector-effect="non-scaling-stroke">A</text><text x="396.96" y="632.05" font-size="9.74" text-anchor="middle" fill="#222" transform="scale(0.4114 1)" stroke="#222" stroke-width="0.3" vector-effect="non-scaling-stroke">C</text><text x="371.8" y="632.05" font-size="9.74" text-anchor="middle" fill="#222" transform="scale(0.4472 1)" stroke="#222" stroke-width="0.3" vector-effect="non-scaling-stroke">_</text><text x="438.22" y="632.05" font-size="9.74" text-anchor="middle" fill="#222" transform="scale(0.3929 1)" stroke="#222" stroke-width="0.3" vector-effect="non-scaling-stroke">A</text>
<text xml:space="preserve" x="504.99" y="632.05" font-size="9.74" text-anchor="middle" fill="#222" transform="scale(0.4604 1)" stroke="#222" stroke-width="0.3" vector-effect="non-scaling-stroke">7</text>
<text xml:space="preserve" x="579.27 585.67 592.08 598.49 604.89 611.3" y="632.05" font-size="9.74" text-anchor="middle" fill="#222" transform="scale(0.4604 1)" stroke="#222" stroke-width="0.3" vector-effect="non-scaling-stroke"> I  I </text><text x="678.88" y="632.05" font-size="9.74" text-anchor="middle" fill="#222" transform="scale(0.3929 1)" stroke="#222" stroke-width="0.3" vector-effect="non-scaling-stroke">A</text><text x="621.17" y="632.05" font-size="9.74" text-anchor="middle" fill="#222" transform="scale(0.4388 1)" stroke="#222" stroke-width="0.3" vector-effect="non-scaling-stroke">R</text><text x="707.6" y="632.05" font-size="9.74" text-anchor="middle" fill="#222" transform="scale(0.3894 1)" stroke="#222" stroke-width="0.3" vector-effect="non-scaling-stroke">M</text><text x="673.68" y="632.05" font-size="9.74" text-anchor="middle" fill="#222" transform="scale(0.4178 1)" stroke="#222" stroke-width="0.3" vector-effect="non-scaling-stroke">X</text>
<text xml:space="preserve" x="729.64" y="632.05" font-size="9.74" text-anchor="middle" fill="#222" transform="scale(0.4604 1)" stroke="#222" stroke-width="0.3" vector-effect="non-scaling-stroke">1</text>
<text xml:space="preserve" x="787.76 794.17 800.57 806.98" y="632.05" font-size="9.74" text-anchor="middle" fill="#222" transform="scale(0.4604 1)" stroke="#222" stroke-width="0.3" vector-effect="non-scaling-stroke">    </text><text x="881.69" y="632.05" font-size="9.74" text-anchor="middle" fill="#222" transform="scale(0.4114 1)" stroke="#222" stroke-width="0.3" vector-effect="non-scaling-stroke">C</text><text x="930.74" y="632.05" font-size="9.74" text-anchor="middle" fill="#222" transform="scale(0.3929 1)" stroke="#222" stroke-width="0.3" vector-effect="non-scaling-stroke">A</text><text x="931.33" y="632.05" font-size="9.74" text-anchor="middle" fill="#222" transform="scale(0.3958 1)" stroke="#222" stroke-width="0.3" vector-effect="non-scaling-stroke">V</text><text x="821.09" y="632.05" font-size="9.74" text-anchor="middle" fill="#222" transform="scale(0.4525 1)" stroke="#222" stroke-width="0.3" vector-effect="non-scaling-stroke">S</text>
<text xml:space="preserve" x="185.76 192.01 198.42" y="643.93" font-size="9.74" text-anchor="middle" fill="#222" transform="scale(0.4604 1)" stroke="#222" stroke-width="0.3" vector-effect="non-scaling-stroke">311</text>
<text xml:space="preserve" x="225.26 231.67 238.08" y="643.93" font-size="9.74" text-anchor="middle" fill="#222" transform="scale(0.4604 1)" stroke="#222" stroke-width="0.3" vector-effect="non-scaling-stroke">0.5</text>
<text xml:space="preserve" x="287.67 294.22" y="643.93" font-size="9.74" text-anchor="middle" fill="#222" transform="scale(0.4604 1)" stroke="#222" stroke-width="0.3" vector-effect="non-scaling-stroke">B </text><text x="323.99" y="643.93" font-size="9.74" text-anchor="middle" fill="#222" transform="scale(0.4181 1)" stroke="#222" stroke-width="0.3" vector-effect="non-scaling-stroke">Y</text>
<text xml:space="preserve" x="341.89 348.29 354.7 361.11 367.37 373.92 380.33 386.73 392.95 399.31" y="643.93" font-size="9.74" text-anchor="middle" fill="#222" transform="scale(0.4604 1)" stroke="#222" stroke-width="0.3" vector-effect="non-scaling-stroke"> /  P NNEL</text><text x="400.68" y="643.93" font-size="9.74" text-anchor="middle" fill="#222" transform="scale(0.3929 1)" stroke="#222" stroke-width="0.3" vector-effect="non-scaling-stroke">A</text><text x="396.96" y="643.93" font-size="9.74" text-anchor="middle" fill="#222" transform="scale(0.4114 1)" stroke="#222" stroke-width="0.3" vector-effect="non-scaling-stroke">C</text><text x="371.8" y="643.93" font-size="9.74" text-anchor="middle" fill="#222" transform="scale(0.4472 1)" stroke="#222" stroke-width="0.3" vector-effect="non-scaling-stroke">_</text><text x="438.22" y="643.93" font-size="9.74" text-anchor="middle" fill="#222" transform="scale(0.3929 1)" stroke="#222" stroke-width="0.3" vector-effect="non-scaling-stroke">A</text>
<text xml:space="preserve" x="505.02 511.4" y="643.93" font-size="9.74" text-anchor="middle" fill="#222" transform="scale(0.4604 1)" stroke="#222" stroke-width="0.3" vector-effect="non-scaling-stroke">40</text>
<text xml:space="preserve" x="579.27 585.67 592.08 598.49 604.89 611.3" y="643.93" font-size="9.74" text-anchor="middle" fill="#222" transform="scale(0.4604 1)" stroke="#222" stroke-width="0.3" vector-effect="non-scaling-stroke"> ly.  </text><text x="607.72" y="643.93" font-size="9.74" text-anchor="middle" fill="#222" transform="scale(0.4388 1)" stroke="#222" stroke-width="0.3" vector-effect="non-scaling-stroke">R</text><text x="634.61" y="643.93" font-size="9.74" text-anchor="middle" fill="#222" transform="scale(0.4388 1)" stroke="#222" stroke-width="0.3" vector-effect="non-scaling-stroke">R</text><text x="684.18" y="643.93" font-size="9.74" text-anchor="middle" fill="#222" transform="scale(0.4114 1)" stroke="#222" stroke-width="0.3" vector-effect="non-scaling-stroke">C</text>
<text xml:space="preserve" x="729.77" y="643.93" font-size="9.74" text-anchor="middle" fill="#222" transform="scale(0.4604 1)" stroke="#222" stroke-width="0.3" vector-effect="non-scaling-stroke">2</text>
<text xml:space="preserve" x="787.76 794.17 800.57 806.98" y="643.93" font-size="9.74" text-anchor="middle" fill="#222" transform="scale(0.4604 1)" stroke="#222" stroke-width="0.3" vector-effect="non-scaling-stroke">    </text><text x="881.69" y="643.93" font-size="9.74" text-anchor="middle" fill="#222" transform="scale(0.4114 1)" stroke="#222" stroke-width="0.3" vector-effect="non-scaling-stroke">C</text><text x="930.74" y="643.93" font-size="9.74" text-anchor="middle" fill="#222" transform="scale(0.3929 1)" stroke="#222" stroke-width="0.3" vector-effect="non-scaling-stroke">A</text><text x="931.33" y="643.93" font-size="9.74" text-anchor="middle" fill="#222" transform="scale(0.3958 1)" stroke="#222" stroke-width="0.3" vector-effect="non-scaling-stroke">V</text><text x="821.09" y="643.93" font-size="9.74" text-anchor="middle" fill="#222" transform="scale(0.4525 1)" stroke="#222" stroke-width="0.3" vector-effect="non-scaling-stroke">S</text>
<text xml:space="preserve" x="185.76 192.01 198.55" y="655.79" font-size="9.74" text-anchor="middle" fill="#222" transform="scale(0.4604 1)" stroke="#222" stroke-width="0.3" vector-effect="non-scaling-stroke">312</text>
<text xml:space="preserve" x="225.26 231.67 238.08" y="655.79" font-size="9.74" text-anchor="middle" fill="#222" transform="scale(0.4604 1)" stroke="#222" stroke-width="0.3" vector-effect="non-scaling-stroke">0.5</text>
<text xml:space="preserve" x="287.67 294.22" y="655.79" font-size="9.74" text-anchor="middle" fill="#222" transform="scale(0.4604 1)" stroke="#222" stroke-width="0.3" vector-effect="non-scaling-stroke">B </text><text x="486.74" y="655.79" font-size="9.74" text-anchor="middle" fill="#222" transform="scale(0.2783 1)" stroke="#222" stroke-width="0.3" vector-effect="non-scaling-stroke">W</text>
<text xml:space="preserve" x="341.89 348.29 354.7 361.11 367.37 373.92 380.33 386.73 392.95 399.31" y="655.79" font-size="9.74" text-anchor="middle" fill="#222" transform="scale(0.4604 1)" stroke="#222" stroke-width="0.3" vector-effect="non-scaling-stroke"> /  P NNEL</text><text x="400.68" y="655.79" font-size="9.74" text-anchor="middle" fill="#222" transform="scale(0.3929 1)" stroke="#222" stroke-width="0.3" vector-effect="non-scaling-stroke">A</text><text x="396.96" y="655.79" font-size="9.74" text-anchor="middle" fill="#222" transform="scale(0.4114 1)" stroke="#222" stroke-width="0.3" vector-effect="non-scaling-stroke">C</text><text x="371.8" y="655.79" font-size="9.74" text-anchor="middle" fill="#222" transform="scale(0.4472 1)" stroke="#222" stroke-width="0.3" vector-effect="non-scaling-stroke">_</text><text x="438.22" y="655.79" font-size="9.74" text-anchor="middle" fill="#222" transform="scale(0.3929 1)" stroke="#222" stroke-width="0.3" vector-effect="non-scaling-stroke">A</text>
<text xml:space="preserve" x="505.02 511.4" y="655.79" font-size="9.74" text-anchor="middle" fill="#222" transform="scale(0.4604 1)" stroke="#222" stroke-width="0.3" vector-effect="non-scaling-stroke">39</text>
<text xml:space="preserve" x="579.27 585.67 592.08 598.49 604.89 611.3" y="655.79" font-size="9.74" text-anchor="middle" fill="#222" transform="scale(0.4604 1)" stroke="#222" stroke-width="0.3" vector-effect="non-scaling-stroke"> ly.HI</text><text x="607.72" y="655.79" font-size="9.74" text-anchor="middle" fill="#222" transform="scale(0.4388 1)" stroke="#222" stroke-width="0.3" vector-effect="non-scaling-stroke">R</text>
<text xml:space="preserve" x="729.77" y="655.79" font-size="9.74" text-anchor="middle" fill="#222" transform="scale(0.4604 1)" stroke="#222" stroke-width="0.3" vector-effect="non-scaling-stroke">2</text>
<text xml:space="preserve" x="787.76 794.17 800.57 806.98" y="655.79" font-size="9.74" text-anchor="middle" fill="#222" transform="scale(0.4604 1)" stroke="#222" stroke-width="0.3" vector-effect="non-scaling-stroke">    </text><text x="881.69" y="655.79" font-size="9.74" text-anchor="middle" fill="#222" transform="scale(0.4114 1)" stroke="#222" stroke-width="0.3" vector-effect="non-scaling-stroke">C</text><text x="930.74" y="655.79" font-size="9.74" text-anchor="middle" fill="#222" transform="scale(0.3929 1)" stroke="#222" stroke-width="0.3" vector-effect="non-scaling-stroke">A</text><text x="931.33" y="655.79" font-size="9.74" text-anchor="middle" fill="#222" transform="scale(0.3958 1)" stroke="#222" stroke-width="0.3" vector-effect="non-scaling-stroke">V</text><text x="821.09" y="655.79" font-size="9.74" text-anchor="middle" fill="#222" transform="scale(0.4525 1)" stroke="#222" stroke-width="0.3" vector-effect="non-scaling-stroke">S</text>
<text xml:space="preserve" x="185.76 192.01 198.58" y="667.66" font-size="9.74" text-anchor="middle" fill="#222" transform="scale(0.4604 1)" stroke="#222" stroke-width="0.3" vector-effect="non-scaling-stroke">313</text>
<text xml:space="preserve" x="225.26 231.67 238.1" y="667.66" font-size="9.74" text-anchor="middle" fill="#222" transform="scale(0.4604 1)" stroke="#222" stroke-width="0.3" vector-effect="non-scaling-stroke">0.3</text>
<text xml:space="preserve" x="287.67 294.22" y="667.66" font-size="9.74" text-anchor="middle" fill="#222" transform="scale(0.4604 1)" stroke="#222" stroke-width="0.3" vector-effect="non-scaling-stroke">B </text><text x="339.6" y="667.66" font-size="9.74" text-anchor="middle" fill="#222" transform="scale(0.3991 1)" stroke="#222" stroke-width="0.3" vector-effect="non-scaling-stroke">G</text>
<text xml:space="preserve" x="341.89 348.29 354.7 361.11 367.37 373.92 380.33 386.73 392.95 399.31" y="667.66" font-size="9.74" text-anchor="middle" fill="#222" transform="scale(0.4604 1)" stroke="#222" stroke-width="0.3" vector-effect="non-scaling-stroke"> /  P NNEL</text><text x="400.68" y="667.66" font-size="9.74" text-anchor="middle" fill="#222" transform="scale(0.3929 1)" stroke="#222" stroke-width="0.3" vector-effect="non-scaling-stroke">A</text><text x="396.96" y="667.66" font-size="9.74" text-anchor="middle" fill="#222" transform="scale(0.4114 1)" stroke="#222" stroke-width="0.3" vector-effect="non-scaling-stroke">C</text><text x="371.8" y="667.66" font-size="9.74" text-anchor="middle" fill="#222" transform="scale(0.4472 1)" stroke="#222" stroke-width="0.3" vector-effect="non-scaling-stroke">_</text><text x="438.22" y="667.66" font-size="9.74" text-anchor="middle" fill="#222" transform="scale(0.3929 1)" stroke="#222" stroke-width="0.3" vector-effect="non-scaling-stroke">A</text>
<text xml:space="preserve" x="505.02 511.41" y="667.66" font-size="9.74" text-anchor="middle" fill="#222" transform="scale(0.4604 1)" stroke="#222" stroke-width="0.3" vector-effect="non-scaling-stroke">35</text>
<text xml:space="preserve" x="579.27 585.67 592.08 598.49 604.89 611.3" y="667.66" font-size="9.74" text-anchor="middle" fill="#222" transform="scale(0.4604 1)" stroke="#222" stroke-width="0.3" vector-effect="non-scaling-stroke"> ly. H</text><text x="607.72" y="667.66" font-size="9.74" text-anchor="middle" fill="#222" transform="scale(0.4388 1)" stroke="#222" stroke-width="0.3" vector-effect="non-scaling-stroke">R</text><text x="715.18" y="667.66" font-size="9.74" text-anchor="middle" fill="#222" transform="scale(0.3894 1)" stroke="#222" stroke-width="0.3" vector-effect="non-scaling-stroke">M</text>
<text xml:space="preserve" x="729.77" y="667.66" font-size="9.74" text-anchor="middle" fill="#222" transform="scale(0.4604 1)" stroke="#222" stroke-width="0.3" vector-effect="non-scaling-stroke">2</text>
<text xml:space="preserve" x="787.76 794.17 800.57 806.98" y="667.66" font-size="9.74" text-anchor="middle" fill="#222" transform="scale(0.4604 1)" stroke="#222" stroke-width="0.3" vector-effect="non-scaling-stroke">    </text><text x="881.69" y="667.66" font-size="9.74" text-anchor="middle" fill="#222" transform="scale(0.4114 1)" stroke="#222" stroke-width="0.3" vector-effect="non-scaling-stroke">C</text><text x="930.74" y="667.66" font-size="9.74" text-anchor="middle" fill="#222" transform="scale(0.3929 1)" stroke="#222" stroke-width="0.3" vector-effect="non-scaling-stroke">A</text><text x="931.33" y="667.66" font-size="9.74" text-anchor="middle" fill="#222" transform="scale(0.3958 1)" stroke="#222" stroke-width="0.3" vector-effect="non-scaling-stroke">V</text><text x="821.09" y="667.66" font-size="9.74" text-anchor="middle" fill="#222" transform="scale(0.4525 1)" stroke="#222" stroke-width="0.3" vector-effect="non-scaling-stroke">S</text>
<text xml:space="preserve" x="185.76 192.01 198.58" y="679.53" font-size="9.74" text-anchor="middle" fill="#222" transform="scale(0.4604 1)" stroke="#222" stroke-width="0.3" vector-effect="non-scaling-stroke">314</text>
<text xml:space="preserve" x="225.26 231.67 238.08" y="679.53" font-size="9.74" text-anchor="middle" fill="#222" transform="scale(0.4604 1)" stroke="#222" stroke-width="0.3" vector-effect="non-scaling-stroke">0.5</text>
<text xml:space="preserve" x="287.67 294.07" y="679.53" font-size="9.74" text-anchor="middle" fill="#222" transform="scale(0.4604 1)" stroke="#222" stroke-width="0.3" vector-effect="non-scaling-stroke">BP</text>
<text xml:space="preserve" x="341.89 348.29 354.7 361.11 367.37 373.92 380.33 386.73 392.95 399.31" y="679.53" font-size="9.74" text-anchor="middle" fill="#222" transform="scale(0.4604 1)" stroke="#222" stroke-width="0.3" vector-effect="non-scaling-stroke"> /  P NNEL</text><text x="400.68" y="679.53" font-size="9.74" text-anchor="middle" fill="#222" transform="scale(0.3929 1)" stroke="#222" stroke-width="0.3" vector-effect="non-scaling-stroke">A</text><text x="396.96" y="679.53" font-size="9.74" text-anchor="middle" fill="#222" transform="scale(0.4114 1)" stroke="#222" stroke-width="0.3" vector-effect="non-scaling-stroke">C</text><text x="371.8" y="679.53" font-size="9.74" text-anchor="middle" fill="#222" transform="scale(0.4472 1)" stroke="#222" stroke-width="0.3" vector-effect="non-scaling-stroke">_</text><text x="438.22" y="679.53" font-size="9.74" text-anchor="middle" fill="#222" transform="scale(0.3929 1)" stroke="#222" stroke-width="0.3" vector-effect="non-scaling-stroke">A</text>
<text xml:space="preserve" x="505.02 511.4" y="679.53" font-size="9.74" text-anchor="middle" fill="#222" transform="scale(0.4604 1)" stroke="#222" stroke-width="0.3" vector-effect="non-scaling-stroke">38</text>
<text xml:space="preserve" x="579.27 585.67 592.08 598.49 604.89 611.06" y="679.53" font-size="9.74" text-anchor="middle" fill="#222" transform="scale(0.4604 1)" stroke="#222" stroke-width="0.3" vector-effect="non-scaling-stroke"> ly. L</text><text x="607.72" y="679.53" font-size="9.74" text-anchor="middle" fill="#222" transform="scale(0.4388 1)" stroke="#222" stroke-width="0.3" vector-effect="non-scaling-stroke">R</text><text x="715.18" y="679.53" font-size="9.74" text-anchor="middle" fill="#222" transform="scale(0.3894 1)" stroke="#222" stroke-width="0.3" vector-effect="non-scaling-stroke">M</text>
<text xml:space="preserve" x="729.77" y="679.53" font-size="9.74" text-anchor="middle" fill="#222" transform="scale(0.4604 1)" stroke="#222" stroke-width="0.3" vector-effect="non-scaling-stroke">2</text>
<text xml:space="preserve" x="787.76 794.17 800.57 806.98" y="679.53" font-size="9.74" text-anchor="middle" fill="#222" transform="scale(0.4604 1)" stroke="#222" stroke-width="0.3" vector-effect="non-scaling-stroke">    </text><text x="881.69" y="679.53" font-size="9.74" text-anchor="middle" fill="#222" transform="scale(0.4114 1)" stroke="#222" stroke-width="0.3" vector-effect="non-scaling-stroke">C</text><text x="930.74" y="679.53" font-size="9.74" text-anchor="middle" fill="#222" transform="scale(0.3929 1)" stroke="#222" stroke-width="0.3" vector-effect="non-scaling-stroke">A</text><text x="931.33" y="679.53" font-size="9.74" text-anchor="middle" fill="#222" transform="scale(0.3958 1)" stroke="#222" stroke-width="0.3" vector-effect="non-scaling-stroke">V</text><text x="821.09" y="679.53" font-size="9.74" text-anchor="middle" fill="#222" transform="scale(0.4525 1)" stroke="#222" stroke-width="0.3" vector-effect="non-scaling-stroke">S</text>
<text xml:space="preserve" x="185.76 192.01 198.56" y="691.4" font-size="9.74" text-anchor="middle" fill="#222" transform="scale(0.4604 1)" stroke="#222" stroke-width="0.3" vector-effect="non-scaling-stroke">315</text>
<text xml:space="preserve" x="225.26 231.67 238.08" y="691.4" font-size="9.74" text-anchor="middle" fill="#222" transform="scale(0.4604 1)" stroke="#222" stroke-width="0.3" vector-effect="non-scaling-stroke">0.5</text>
<text xml:space="preserve" x="287.67 293.98" y="691.4" font-size="9.74" text-anchor="middle" fill="#222" transform="scale(0.4604 1)" stroke="#222" stroke-width="0.3" vector-effect="non-scaling-stroke">BL</text>
<text xml:space="preserve" x="341.89 348.29 354.7 361.11 367.37 373.92 380.33 386.73 392.95 399.31" y="691.4" font-size="9.74" text-anchor="middle" fill="#222" transform="scale(0.4604 1)" stroke="#222" stroke-width="0.3" vector-effect="non-scaling-stroke"> /  P NNEL</text><text x="400.68" y="691.4" font-size="9.74" text-anchor="middle" fill="#222" transform="scale(0.3929 1)" stroke="#222" stroke-width="0.3" vector-effect="non-scaling-stroke">A</text><text x="396.96" y="691.4" font-size="9.74" text-anchor="middle" fill="#222" transform="scale(0.4114 1)" stroke="#222" stroke-width="0.3" vector-effect="non-scaling-stroke">C</text><text x="371.8" y="691.4" font-size="9.74" text-anchor="middle" fill="#222" transform="scale(0.4472 1)" stroke="#222" stroke-width="0.3" vector-effect="non-scaling-stroke">_</text><text x="438.22" y="691.4" font-size="9.74" text-anchor="middle" fill="#222" transform="scale(0.3929 1)" stroke="#222" stroke-width="0.3" vector-effect="non-scaling-stroke">A</text>
<text xml:space="preserve" x="505.02 511.39" y="691.4" font-size="9.74" text-anchor="middle" fill="#222" transform="scale(0.4604 1)" stroke="#222" stroke-width="0.3" vector-effect="non-scaling-stroke">37</text>
<text xml:space="preserve" x="579.27 585.67 592.08 598.49 604.66 611.3" y="691.4" font-size="9.74" text-anchor="middle" fill="#222" transform="scale(0.4604 1)" stroke="#222" stroke-width="0.3" vector-effect="non-scaling-stroke"> ly.L </text><text x="607.72" y="691.4" font-size="9.74" text-anchor="middle" fill="#222" transform="scale(0.4388 1)" stroke="#222" stroke-width="0.3" vector-effect="non-scaling-stroke">R</text><text x="1011.32" y="691.4" font-size="9.74" text-anchor="middle" fill="#222" transform="scale(0.2783 1)" stroke="#222" stroke-width="0.3" vector-effect="non-scaling-stroke">W</text>
<text xml:space="preserve" x="729.77" y="691.4" font-size="9.74" text-anchor="middle" fill="#222" transform="scale(0.4604 1)" stroke="#222" stroke-width="0.3" vector-effect="non-scaling-stroke">2</text>
<text xml:space="preserve" x="787.76 794.17 800.57 806.98" y="691.4" font-size="9.74" text-anchor="middle" fill="#222" transform="scale(0.4604 1)" stroke="#222" stroke-width="0.3" vector-effect="non-scaling-stroke">    </text><text x="881.69" y="691.4" font-size="9.74" text-anchor="middle" fill="#222" transform="scale(0.4114 1)" stroke="#222" stroke-width="0.3" vector-effect="non-scaling-stroke">C</text><text x="930.74" y="691.4" font-size="9.74" text-anchor="middle" fill="#222" transform="scale(0.3929 1)" stroke="#222" stroke-width="0.3" vector-effect="non-scaling-stroke">A</text><text x="931.33" y="691.4" font-size="9.74" text-anchor="middle" fill="#222" transform="scale(0.3958 1)" stroke="#222" stroke-width="0.3" vector-effect="non-scaling-stroke">V</text><text x="821.09" y="691.4" font-size="9.74" text-anchor="middle" fill="#222" transform="scale(0.4525 1)" stroke="#222" stroke-width="0.3" vector-effect="non-scaling-stroke">S</text>
<text xml:space="preserve" x="185.76 192.01 198.52" y="703.27" font-size="9.74" text-anchor="middle" fill="#222" transform="scale(0.4604 1)" stroke="#222" stroke-width="0.3" vector-effect="non-scaling-stroke">316</text>
<text xml:space="preserve" x="225.26 231.67 238.1" y="703.27" font-size="9.74" text-anchor="middle" fill="#222" transform="scale(0.4604 1)" stroke="#222" stroke-width="0.3" vector-effect="non-scaling-stroke">0.3</text>
<text xml:space="preserve" x="287.81 294.22" y="703.27" font-size="9.74" text-anchor="middle" fill="#222" transform="scale(0.4604 1)" stroke="#222" stroke-width="0.3" vector-effect="non-scaling-stroke">  </text><text x="332.21" y="703.27" font-size="9.74" text-anchor="middle" fill="#222" transform="scale(0.3991 1)" stroke="#222" stroke-width="0.3" vector-effect="non-scaling-stroke">G</text><text x="308.58" y="703.27" font-size="9.74" text-anchor="middle" fill="#222" transform="scale(0.4388 1)" stroke="#222" stroke-width="0.3" vector-effect="non-scaling-stroke">R</text>
<text xml:space="preserve" x="341.7 348.29 354.7 361.11 367.51 373.73 380.33 386.74 393.14 399.55" y="703.27" font-size="9.74" text-anchor="middle" fill="#222" transform="scale(0.4604 1)" stroke="#222" stroke-width="0.3" vector-effect="non-scaling-stroke">E    EN   </text><text x="405.18" y="703.27" font-size="9.74" text-anchor="middle" fill="#222" transform="scale(0.3958 1)" stroke="#222" stroke-width="0.3" vector-effect="non-scaling-stroke">V</text><text x="415.7" y="703.27" font-size="9.74" text-anchor="middle" fill="#222" transform="scale(0.3929 1)" stroke="#222" stroke-width="0.3" vector-effect="non-scaling-stroke">A</text><text x="371.8" y="703.27" font-size="9.74" text-anchor="middle" fill="#222" transform="scale(0.4472 1)" stroke="#222" stroke-width="0.3" vector-effect="non-scaling-stroke">_</text><text x="373.94" y="703.27" font-size="9.74" text-anchor="middle" fill="#222" transform="scale(0.4525 1)" stroke="#222" stroke-width="0.3" vector-effect="non-scaling-stroke">S</text><text x="393.5" y="703.27" font-size="9.74" text-anchor="middle" fill="#222" transform="scale(0.4525 1)" stroke="#222" stroke-width="0.3" vector-effect="non-scaling-stroke">S</text><text x="474.32" y="703.27" font-size="9.74" text-anchor="middle" fill="#222" transform="scale(0.3816 1)" stroke="#222" stroke-width="0.3" vector-effect="non-scaling-stroke">O</text><text x="419.12" y="703.27" font-size="9.74" text-anchor="middle" fill="#222" transform="scale(0.4388 1)" stroke="#222" stroke-width="0.3" vector-effect="non-scaling-stroke">R</text>
<text xml:space="preserve" x="504.99" y="703.27" font-size="9.74" text-anchor="middle" fill="#222" transform="scale(0.4604 1)" stroke="#222" stroke-width="0.3" vector-effect="non-scaling-stroke">2</text>
<text xml:space="preserve" x="579.27 585.67 592.08 598.49 604.75 611.3 617.7 624.11 630.33 636.69" y="703.27" font-size="9.74" text-anchor="middle" fill="#222" transform="scale(0.4604 1)" stroke="#222" stroke-width="0.3" vector-effect="non-scaling-stroke"> /  P NNEL</text><text x="678.88" y="703.27" font-size="9.74" text-anchor="middle" fill="#222" transform="scale(0.3929 1)" stroke="#222" stroke-width="0.3" vector-effect="non-scaling-stroke">A</text><text x="662.67" y="703.27" font-size="9.74" text-anchor="middle" fill="#222" transform="scale(0.4114 1)" stroke="#222" stroke-width="0.3" vector-effect="non-scaling-stroke">C</text><text x="616.2" y="703.27" font-size="9.74" text-anchor="middle" fill="#222" transform="scale(0.4472 1)" stroke="#222" stroke-width="0.3" vector-effect="non-scaling-stroke">_</text><text x="716.42" y="703.27" font-size="9.74" text-anchor="middle" fill="#222" transform="scale(0.3929 1)" stroke="#222" stroke-width="0.3" vector-effect="non-scaling-stroke">A</text>
<text xml:space="preserve" x="729.8 736.21" y="703.27" font-size="9.74" text-anchor="middle" fill="#222" transform="scale(0.4604 1)" stroke="#222" stroke-width="0.3" vector-effect="non-scaling-stroke">33</text>
<text xml:space="preserve" x="787.76 794.17 800.57 806.98" y="703.27" font-size="9.74" text-anchor="middle" fill="#222" transform="scale(0.4604 1)" stroke="#222" stroke-width="0.3" vector-effect="non-scaling-stroke">    </text><text x="881.69" y="703.27" font-size="9.74" text-anchor="middle" fill="#222" transform="scale(0.4114 1)" stroke="#222" stroke-width="0.3" vector-effect="non-scaling-stroke">C</text><text x="930.74" y="703.27" font-size="9.74" text-anchor="middle" fill="#222" transform="scale(0.3929 1)" stroke="#222" stroke-width="0.3" vector-effect="non-scaling-stroke">A</text><text x="931.33" y="703.27" font-size="9.74" text-anchor="middle" fill="#222" transform="scale(0.3958 1)" stroke="#222" stroke-width="0.3" vector-effect="non-scaling-stroke">V</text><text x="821.09" y="703.27" font-size="9.74" text-anchor="middle" fill="#222" transform="scale(0.4525 1)" stroke="#222" stroke-width="0.3" vector-effect="non-scaling-stroke">S</text>
<text xml:space="preserve" x="185.76 192.01 198.54" y="715.14" font-size="9.74" text-anchor="middle" fill="#222" transform="scale(0.4604 1)" stroke="#222" stroke-width="0.3" vector-effect="non-scaling-stroke">317</text>
<text xml:space="preserve" x="225.26 231.67 238.1" y="715.14" font-size="9.74" text-anchor="middle" fill="#222" transform="scale(0.4604 1)" stroke="#222" stroke-width="0.3" vector-effect="non-scaling-stroke">0.3</text>
<text xml:space="preserve" x="287.57" y="715.14" font-size="9.74" text-anchor="middle" fill="#222" transform="scale(0.4604 1)" stroke="#222" stroke-width="0.3" vector-effect="non-scaling-stroke">L</text>
<text xml:space="preserve" x="341.89 348.29 354.7 361.11 367.37 373.92 380.33 386.73 392.95 399.31" y="715.14" font-size="9.74" text-anchor="middle" fill="#222" transform="scale(0.4604 1)" stroke="#222" stroke-width="0.3" vector-effect="non-scaling-stroke"> /  P NNEL</text><text x="400.68" y="715.14" font-size="9.74" text-anchor="middle" fill="#222" transform="scale(0.3929 1)" stroke="#222" stroke-width="0.3" vector-effect="non-scaling-stroke">A</text><text x="396.96" y="715.14" font-size="9.74" text-anchor="middle" fill="#222" transform="scale(0.4114 1)" stroke="#222" stroke-width="0.3" vector-effect="non-scaling-stroke">C</text><text x="371.8" y="715.14" font-size="9.74" text-anchor="middle" fill="#222" transform="scale(0.4472 1)" stroke="#222" stroke-width="0.3" vector-effect="non-scaling-stroke">_</text><text x="438.22" y="715.14" font-size="9.74" text-anchor="middle" fill="#222" transform="scale(0.3929 1)" stroke="#222" stroke-width="0.3" vector-effect="non-scaling-stroke">A</text>
<text xml:space="preserve" x="504.99 511.39" y="715.14" font-size="9.74" text-anchor="middle" fill="#222" transform="scale(0.4604 1)" stroke="#222" stroke-width="0.3" vector-effect="non-scaling-stroke">27</text>
<text xml:space="preserve" x="579.27 585.48 592.08 598.49 604.69 611.3 617.52 624.11 630.52" y="715.14" font-size="9.74" text-anchor="middle" fill="#222" transform="scale(0.4604 1)" stroke="#222" stroke-width="0.3" vector-effect="non-scaling-stroke"> E /F E H</text><text x="607.72" y="715.14" font-size="9.74" text-anchor="middle" fill="#222" transform="scale(0.4388 1)" stroke="#222" stroke-width="0.3" vector-effect="non-scaling-stroke">R</text><text x="662.67" y="715.14" font-size="9.74" text-anchor="middle" fill="#222" transform="scale(0.4114 1)" stroke="#222" stroke-width="0.3" vector-effect="non-scaling-stroke">C</text><text x="641.34" y="715.14" font-size="9.74" text-anchor="middle" fill="#222" transform="scale(0.4388 1)" stroke="#222" stroke-width="0.3" vector-effect="non-scaling-stroke">R</text><text x="635.03" y="715.14" font-size="9.74" text-anchor="middle" fill="#222" transform="scale(0.4525 1)" stroke="#222" stroke-width="0.3" vector-effect="non-scaling-stroke">S</text>
<text xml:space="preserve" x="729.8" y="715.14" font-size="9.74" text-anchor="middle" fill="#222" transform="scale(0.4604 1)" stroke="#222" stroke-width="0.3" vector-effect="non-scaling-stroke">4</text>
<text xml:space="preserve" x="787.76 794.17 800.57 806.98" y="715.14" font-size="9.74" text-anchor="middle" fill="#222" transform="scale(0.4604 1)" stroke="#222" stroke-width="0.3" vector-effect="non-scaling-stroke">    </text><text x="881.69" y="715.14" font-size="9.74" text-anchor="middle" fill="#222" transform="scale(0.4114 1)" stroke="#222" stroke-width="0.3" vector-effect="non-scaling-stroke">C</text><text x="930.74" y="715.14" font-size="9.74" text-anchor="middle" fill="#222" transform="scale(0.3929 1)" stroke="#222" stroke-width="0.3" vector-effect="non-scaling-stroke">A</text><text x="931.33" y="715.14" font-size="9.74" text-anchor="middle" fill="#222" transform="scale(0.3958 1)" stroke="#222" stroke-width="0.3" vector-effect="non-scaling-stroke">V</text><text x="821.09" y="715.14" font-size="9.74" text-anchor="middle" fill="#222" transform="scale(0.4525 1)" stroke="#222" stroke-width="0.3" vector-effect="non-scaling-stroke">S</text>
<text xml:space="preserve" x="185.76 192.01 198.55" y="727.01" font-size="9.74" text-anchor="middle" fill="#222" transform="scale(0.4604 1)" stroke="#222" stroke-width="0.3" vector-effect="non-scaling-stroke">318</text>
<text xml:space="preserve" x="225.26 231.67 238.08" y="727.01" font-size="9.74" text-anchor="middle" fill="#222" transform="scale(0.4604 1)" stroke="#222" stroke-width="0.3" vector-effect="non-scaling-stroke">0.5</text>
<text xml:space="preserve" x="287.81 294.22" y="727.01" font-size="9.74" text-anchor="middle" fill="#222" transform="scale(0.4604 1)" stroke="#222" stroke-width="0.3" vector-effect="non-scaling-stroke">  </text><text x="301.86" y="727.01" font-size="9.74" text-anchor="middle" fill="#222" transform="scale(0.4388 1)" stroke="#222" stroke-width="0.3" vector-effect="non-scaling-stroke">R</text><text x="323.99" y="727.01" font-size="9.74" text-anchor="middle" fill="#222" transform="scale(0.4181 1)" stroke="#222" stroke-width="0.3" vector-effect="non-scaling-stroke">Y</text>
<text xml:space="preserve" x="341.89 348.29 354.7 361.11 367.37 373.92 380.33 386.73 392.95 399.31" y="727.01" font-size="9.74" text-anchor="middle" fill="#222" transform="scale(0.4604 1)" stroke="#222" stroke-width="0.3" vector-effect="non-scaling-stroke"> /  P NNEL</text><text x="400.68" y="727.01" font-size="9.74" text-anchor="middle" fill="#222" transform="scale(0.3929 1)" stroke="#222" stroke-width="0.3" vector-effect="non-scaling-stroke">A</text><text x="396.96" y="727.01" font-size="9.74" text-anchor="middle" fill="#222" transform="scale(0.4114 1)" stroke="#222" stroke-width="0.3" vector-effect="non-scaling-stroke">C</text><text x="371.8" y="727.01" font-size="9.74" text-anchor="middle" fill="#222" transform="scale(0.4472 1)" stroke="#222" stroke-width="0.3" vector-effect="non-scaling-stroke">_</text><text x="438.22" y="727.01" font-size="9.74" text-anchor="middle" fill="#222" transform="scale(0.3929 1)" stroke="#222" stroke-width="0.3" vector-effect="non-scaling-stroke">A</text>
<text xml:space="preserve" x="504.99 511.36" y="727.01" font-size="9.74" text-anchor="middle" fill="#222" transform="scale(0.4604 1)" stroke="#222" stroke-width="0.3" vector-effect="non-scaling-stroke">26</text>
<text xml:space="preserve" x="579.27 585.67 592.08 598.28 604.66 611.3 617.71 624.11" y="727.01" font-size="9.74" text-anchor="middle" fill="#222" transform="scale(0.4604 1)" stroke="#222" stroke-width="0.3" vector-effect="non-scaling-stroke">T  FL   </text><text x="706.61" y="727.01" font-size="9.74" text-anchor="middle" fill="#222" transform="scale(0.3816 1)" stroke="#222" stroke-width="0.3" vector-effect="non-scaling-stroke">O</text><text x="609.61" y="727.01" font-size="9.74" text-anchor="middle" fill="#222" transform="scale(0.4472 1)" stroke="#222" stroke-width="0.3" vector-effect="non-scaling-stroke">_</text><text x="737.53" y="727.01" font-size="9.74" text-anchor="middle" fill="#222" transform="scale(0.3816 1)" stroke="#222" stroke-width="0.3" vector-effect="non-scaling-stroke">O</text><text x="745.26" y="727.01" font-size="9.74" text-anchor="middle" fill="#222" transform="scale(0.3816 1)" stroke="#222" stroke-width="0.3" vector-effect="non-scaling-stroke">O</text><text x="654.78" y="727.01" font-size="9.74" text-anchor="middle" fill="#222" transform="scale(0.4388 1)" stroke="#222" stroke-width="0.3" vector-effect="non-scaling-stroke">R</text>
<text xml:space="preserve" x="729.64" y="727.01" font-size="9.74" text-anchor="middle" fill="#222" transform="scale(0.4604 1)" stroke="#222" stroke-width="0.3" vector-effect="non-scaling-stroke">1</text>
<text xml:space="preserve" x="787.76 794.17 800.57 806.98" y="727.01" font-size="9.74" text-anchor="middle" fill="#222" transform="scale(0.4604 1)" stroke="#222" stroke-width="0.3" vector-effect="non-scaling-stroke">    </text><text x="881.69" y="727.01" font-size="9.74" text-anchor="middle" fill="#222" transform="scale(0.4114 1)" stroke="#222" stroke-width="0.3" vector-effect="non-scaling-stroke">C</text><text x="930.74" y="727.01" font-size="9.74" text-anchor="middle" fill="#222" transform="scale(0.3929 1)" stroke="#222" stroke-width="0.3" vector-effect="non-scaling-stroke">A</text><text x="931.33" y="727.01" font-size="9.74" text-anchor="middle" fill="#222" transform="scale(0.3958 1)" stroke="#222" stroke-width="0.3" vector-effect="non-scaling-stroke">V</text><text x="821.09" y="727.01" font-size="9.74" text-anchor="middle" fill="#222" transform="scale(0.4525 1)" stroke="#222" stroke-width="0.3" vector-effect="non-scaling-stroke">S</text>
<text xml:space="preserve" x="185.76 192.01 198.55" y="738.88" font-size="9.74" text-anchor="middle" fill="#222" transform="scale(0.4604 1)" stroke="#222" stroke-width="0.3" vector-effect="non-scaling-stroke">319</text>
<text xml:space="preserve" x="225.26 231.67 238.1" y="738.88" font-size="9.74" text-anchor="middle" fill="#222" transform="scale(0.4604 1)" stroke="#222" stroke-width="0.3" vector-effect="non-scaling-stroke">0.3</text>
<text xml:space="preserve" x="287.81" y="738.88" font-size="9.74" text-anchor="middle" fill="#222" transform="scale(0.4604 1)" stroke="#222" stroke-width="0.3" vector-effect="non-scaling-stroke"> </text><text x="347.24" y="738.88" font-size="9.74" text-anchor="middle" fill="#222" transform="scale(0.3816 1)" stroke="#222" stroke-width="0.3" vector-effect="non-scaling-stroke">O</text>
<text xml:space="preserve" x="341.89 348.29 354.7 361.11 367.37 373.92 380.33 386.73 392.95 399.31" y="738.88" font-size="9.74" text-anchor="middle" fill="#222" transform="scale(0.4604 1)" stroke="#222" stroke-width="0.3" vector-effect="non-scaling-stroke"> /  P NNEL</text><text x="400.68" y="738.88" font-size="9.74" text-anchor="middle" fill="#222" transform="scale(0.3929 1)" stroke="#222" stroke-width="0.3" vector-effect="non-scaling-stroke">A</text><text x="396.96" y="738.88" font-size="9.74" text-anchor="middle" fill="#222" transform="scale(0.4114 1)" stroke="#222" stroke-width="0.3" vector-effect="non-scaling-stroke">C</text><text x="371.8" y="738.88" font-size="9.74" text-anchor="middle" fill="#222" transform="scale(0.4472 1)" stroke="#222" stroke-width="0.3" vector-effect="non-scaling-stroke">_</text><text x="438.22" y="738.88" font-size="9.74" text-anchor="middle" fill="#222" transform="scale(0.3929 1)" stroke="#222" stroke-width="0.3" vector-effect="non-scaling-stroke">A</text>
<text xml:space="preserve" x="504.99 511.41" y="738.88" font-size="9.74" text-anchor="middle" fill="#222" transform="scale(0.4604 1)" stroke="#222" stroke-width="0.3" vector-effect="non-scaling-stroke">25</text>
<text xml:space="preserve" x="579.27 585.67 592.08 598.3" y="738.88" font-size="9.74" text-anchor="middle" fill="#222" transform="scale(0.4604 1)" stroke="#222" stroke-width="0.3" vector-effect="non-scaling-stroke">   E</text><text x="684.88" y="738.88" font-size="9.74" text-anchor="middle" fill="#222" transform="scale(0.3894 1)" stroke="#222" stroke-width="0.3" vector-effect="non-scaling-stroke">M</text><text x="706.61" y="738.88" font-size="9.74" text-anchor="middle" fill="#222" transform="scale(0.3816 1)" stroke="#222" stroke-width="0.3" vector-effect="non-scaling-stroke">O</text><text x="619.64" y="738.88" font-size="9.74" text-anchor="middle" fill="#222" transform="scale(0.4398 1)" stroke="#222" stroke-width="0.3" vector-effect="non-scaling-stroke">D</text>
<text xml:space="preserve" x="729.77" y="738.88" font-size="9.74" text-anchor="middle" fill="#222" transform="scale(0.4604 1)" stroke="#222" stroke-width="0.3" vector-effect="non-scaling-stroke">7</text>
<text xml:space="preserve" x="787.76 794.17 800.57 806.98" y="738.88" font-size="9.74" text-anchor="middle" fill="#222" transform="scale(0.4604 1)" stroke="#222" stroke-width="0.3" vector-effect="non-scaling-stroke">    </text><text x="881.69" y="738.88" font-size="9.74" text-anchor="middle" fill="#222" transform="scale(0.4114 1)" stroke="#222" stroke-width="0.3" vector-effect="non-scaling-stroke">C</text><text x="930.74" y="738.88" font-size="9.74" text-anchor="middle" fill="#222" transform="scale(0.3929 1)" stroke="#222" stroke-width="0.3" vector-effect="non-scaling-stroke">A</text><text x="931.33" y="738.88" font-size="9.74" text-anchor="middle" fill="#222" transform="scale(0.3958 1)" stroke="#222" stroke-width="0.3" vector-effect="non-scaling-stroke">V</text><text x="821.09" y="738.88" font-size="9.74" text-anchor="middle" fill="#222" transform="scale(0.4525 1)" stroke="#222" stroke-width="0.3" vector-effect="non-scaling-stroke">S</text>
<text xml:space="preserve" x="185.76 192.14 198.55" y="750.75" font-size="9.74" text-anchor="middle" fill="#222" transform="scale(0.4604 1)" stroke="#222" stroke-width="0.3" vector-effect="non-scaling-stroke">320</text>
<text xml:space="preserve" x="225.26 231.67 238.1" y="750.75" font-size="9.74" text-anchor="middle" fill="#222" transform="scale(0.4604 1)" stroke="#222" stroke-width="0.3" vector-effect="non-scaling-stroke">0.3</text>
<text xml:space="preserve" x="287.81 294.22" y="750.75" font-size="9.74" text-anchor="middle" fill="#222" transform="scale(0.4604 1)" stroke="#222" stroke-width="0.3" vector-effect="non-scaling-stroke">  </text><text x="332.21" y="750.75" font-size="9.74" text-anchor="middle" fill="#222" transform="scale(0.3991 1)" stroke="#222" stroke-width="0.3" vector-effect="non-scaling-stroke">G</text><text x="308.58" y="750.75" font-size="9.74" text-anchor="middle" fill="#222" transform="scale(0.4388 1)" stroke="#222" stroke-width="0.3" vector-effect="non-scaling-stroke">R</text>
<text xml:space="preserve" x="341.89 348.29 354.7 361.11 367.37 373.92 380.33 386.73 392.95 399.31" y="750.75" font-size="9.74" text-anchor="middle" fill="#222" transform="scale(0.4604 1)" stroke="#222" stroke-width="0.3" vector-effect="non-scaling-stroke"> /  P NNEL</text><text x="400.68" y="750.75" font-size="9.74" text-anchor="middle" fill="#222" transform="scale(0.3929 1)" stroke="#222" stroke-width="0.3" vector-effect="non-scaling-stroke">A</text><text x="396.96" y="750.75" font-size="9.74" text-anchor="middle" fill="#222" transform="scale(0.4114 1)" stroke="#222" stroke-width="0.3" vector-effect="non-scaling-stroke">C</text><text x="371.8" y="750.75" font-size="9.74" text-anchor="middle" fill="#222" transform="scale(0.4472 1)" stroke="#222" stroke-width="0.3" vector-effect="non-scaling-stroke">_</text><text x="438.22" y="750.75" font-size="9.74" text-anchor="middle" fill="#222" transform="scale(0.3929 1)" stroke="#222" stroke-width="0.3" vector-effect="non-scaling-stroke">A</text>
<text xml:space="preserve" x="504.99 511.43" y="750.75" font-size="9.74" text-anchor="middle" fill="#222" transform="scale(0.4604 1)" stroke="#222" stroke-width="0.3" vector-effect="non-scaling-stroke">24</text>
<text xml:space="preserve" x="579.08 585.67 592.08 598.49 604.89 611.11 617.7 624.11 630.52 636.93" y="750.75" font-size="9.74" text-anchor="middle" fill="#222" transform="scale(0.4604 1)" stroke="#222" stroke-width="0.3" vector-effect="non-scaling-stroke">E    EN   </text><text x="681.33" y="750.75" font-size="9.74" text-anchor="middle" fill="#222" transform="scale(0.3958 1)" stroke="#222" stroke-width="0.3" vector-effect="non-scaling-stroke">V</text><text x="693.9" y="750.75" font-size="9.74" text-anchor="middle" fill="#222" transform="scale(0.3929 1)" stroke="#222" stroke-width="0.3" vector-effect="non-scaling-stroke">A</text><text x="616.2" y="750.75" font-size="9.74" text-anchor="middle" fill="#222" transform="scale(0.4472 1)" stroke="#222" stroke-width="0.3" vector-effect="non-scaling-stroke">_</text><text x="615.47" y="750.75" font-size="9.74" text-anchor="middle" fill="#222" transform="scale(0.4525 1)" stroke="#222" stroke-width="0.3" vector-effect="non-scaling-stroke">S</text><text x="635.03" y="750.75" font-size="9.74" text-anchor="middle" fill="#222" transform="scale(0.4525 1)" stroke="#222" stroke-width="0.3" vector-effect="non-scaling-stroke">S</text><text x="760.72" y="750.75" font-size="9.74" text-anchor="middle" fill="#222" transform="scale(0.3816 1)" stroke="#222" stroke-width="0.3" vector-effect="non-scaling-stroke">O</text><text x="668.23" y="750.75" font-size="9.74" text-anchor="middle" fill="#222" transform="scale(0.4388 1)" stroke="#222" stroke-width="0.3" vector-effect="non-scaling-stroke">R</text>
<text xml:space="preserve" x="729.64" y="750.75" font-size="9.74" text-anchor="middle" fill="#222" transform="scale(0.4604 1)" stroke="#222" stroke-width="0.3" vector-effect="non-scaling-stroke">1</text>
<text xml:space="preserve" x="787.76 794.17 800.57 806.98" y="750.75" font-size="9.74" text-anchor="middle" fill="#222" transform="scale(0.4604 1)" stroke="#222" stroke-width="0.3" vector-effect="non-scaling-stroke">    </text><text x="881.69" y="750.75" font-size="9.74" text-anchor="middle" fill="#222" transform="scale(0.4114 1)" stroke="#222" stroke-width="0.3" vector-effect="non-scaling-stroke">C</text><text x="930.74" y="750.75" font-size="9.74" text-anchor="middle" fill="#222" transform="scale(0.3929 1)" stroke="#222" stroke-width="0.3" vector-effect="non-scaling-stroke">A</text><text x="931.33" y="750.75" font-size="9.74" text-anchor="middle" fill="#222" transform="scale(0.3958 1)" stroke="#222" stroke-width="0.3" vector-effect="non-scaling-stroke">V</text><text x="821.09" y="750.75" font-size="9.74" text-anchor="middle" fill="#222" transform="scale(0.4525 1)" stroke="#222" stroke-width="0.3" vector-effect="non-scaling-stroke">S</text>
<text xml:space="preserve" x="185.76 192.14 198.42" y="762.62" font-size="9.74" text-anchor="middle" fill="#222" transform="scale(0.4604 1)" stroke="#222" stroke-width="0.3" vector-effect="non-scaling-stroke">321</text>
<text xml:space="preserve" x="225.26 231.67 238.1" y="762.62" font-size="9.74" text-anchor="middle" fill="#222" transform="scale(0.4604 1)" stroke="#222" stroke-width="0.3" vector-effect="non-scaling-stroke">0.3</text>
<text xml:space="preserve" x="287.81 294.07" y="762.62" font-size="9.74" text-anchor="middle" fill="#222" transform="scale(0.4604 1)" stroke="#222" stroke-width="0.3" vector-effect="non-scaling-stroke"> B</text><text x="347.24" y="762.62" font-size="9.74" text-anchor="middle" fill="#222" transform="scale(0.3816 1)" stroke="#222" stroke-width="0.3" vector-effect="non-scaling-stroke">O</text>
<text xml:space="preserve" x="341.89 348.29 354.7 361.11 367.37 373.92 380.33 386.73 392.95 399.31" y="762.62" font-size="9.74" text-anchor="middle" fill="#222" transform="scale(0.4604 1)" stroke="#222" stroke-width="0.3" vector-effect="non-scaling-stroke"> /  P NNEL</text><text x="400.68" y="762.62" font-size="9.74" text-anchor="middle" fill="#222" transform="scale(0.3929 1)" stroke="#222" stroke-width="0.3" vector-effect="non-scaling-stroke">A</text><text x="396.96" y="762.62" font-size="9.74" text-anchor="middle" fill="#222" transform="scale(0.4114 1)" stroke="#222" stroke-width="0.3" vector-effect="non-scaling-stroke">C</text><text x="371.8" y="762.62" font-size="9.74" text-anchor="middle" fill="#222" transform="scale(0.4472 1)" stroke="#222" stroke-width="0.3" vector-effect="non-scaling-stroke">_</text><text x="438.22" y="762.62" font-size="9.74" text-anchor="middle" fill="#222" transform="scale(0.3929 1)" stroke="#222" stroke-width="0.3" vector-effect="non-scaling-stroke">A</text>
<text xml:space="preserve" x="504.99 511.4" y="762.62" font-size="9.74" text-anchor="middle" fill="#222" transform="scale(0.4604 1)" stroke="#222" stroke-width="0.3" vector-effect="non-scaling-stroke">22</text>
<text xml:space="preserve" x="579.27 585.67 592.08 598.3" y="762.62" font-size="9.74" text-anchor="middle" fill="#222" transform="scale(0.4604 1)" stroke="#222" stroke-width="0.3" vector-effect="non-scaling-stroke">   E</text><text x="684.88" y="762.62" font-size="9.74" text-anchor="middle" fill="#222" transform="scale(0.3894 1)" stroke="#222" stroke-width="0.3" vector-effect="non-scaling-stroke">M</text><text x="706.61" y="762.62" font-size="9.74" text-anchor="middle" fill="#222" transform="scale(0.3816 1)" stroke="#222" stroke-width="0.3" vector-effect="non-scaling-stroke">O</text><text x="619.64" y="762.62" font-size="9.74" text-anchor="middle" fill="#222" transform="scale(0.4398 1)" stroke="#222" stroke-width="0.3" vector-effect="non-scaling-stroke">D</text>
<text xml:space="preserve" x="729.74" y="762.62" font-size="9.74" text-anchor="middle" fill="#222" transform="scale(0.4604 1)" stroke="#222" stroke-width="0.3" vector-effect="non-scaling-stroke">6</text>
<text xml:space="preserve" x="787.76 794.17 800.57 806.98" y="762.62" font-size="9.74" text-anchor="middle" fill="#222" transform="scale(0.4604 1)" stroke="#222" stroke-width="0.3" vector-effect="non-scaling-stroke">    </text><text x="881.69" y="762.62" font-size="9.74" text-anchor="middle" fill="#222" transform="scale(0.4114 1)" stroke="#222" stroke-width="0.3" vector-effect="non-scaling-stroke">C</text><text x="930.74" y="762.62" font-size="9.74" text-anchor="middle" fill="#222" transform="scale(0.3929 1)" stroke="#222" stroke-width="0.3" vector-effect="non-scaling-stroke">A</text><text x="931.33" y="762.62" font-size="9.74" text-anchor="middle" fill="#222" transform="scale(0.3958 1)" stroke="#222" stroke-width="0.3" vector-effect="non-scaling-stroke">V</text><text x="821.09" y="762.62" font-size="9.74" text-anchor="middle" fill="#222" transform="scale(0.4525 1)" stroke="#222" stroke-width="0.3" vector-effect="non-scaling-stroke">S</text>
<text xml:space="preserve" x="185.76 192.14 198.55" y="774.5" font-size="9.74" text-anchor="middle" fill="#222" transform="scale(0.4604 1)" stroke="#222" stroke-width="0.3" vector-effect="non-scaling-stroke">322</text>
<text xml:space="preserve" x="225.26 231.67 238.08" y="774.5" font-size="9.74" text-anchor="middle" fill="#222" transform="scale(0.4604 1)" stroke="#222" stroke-width="0.3" vector-effect="non-scaling-stroke">0.5</text>
<text xml:space="preserve" x="287.57 294.22" y="774.5" font-size="9.74" text-anchor="middle" fill="#222" transform="scale(0.4604 1)" stroke="#222" stroke-width="0.3" vector-effect="non-scaling-stroke">L </text><text x="308.58" y="774.5" font-size="9.74" text-anchor="middle" fill="#222" transform="scale(0.4388 1)" stroke="#222" stroke-width="0.3" vector-effect="non-scaling-stroke">R</text>
<text xml:space="preserve" x="341.89 348.29 354.7 361.11 367.37 373.92 380.33 386.73 392.95 399.31" y="774.5" font-size="9.74" text-anchor="middle" fill="#222" transform="scale(0.4604 1)" stroke="#222" stroke-width="0.3" vector-effect="non-scaling-stroke"> /  P NNEL</text><text x="400.68" y="774.5" font-size="9.74" text-anchor="middle" fill="#222" transform="scale(0.3929 1)" stroke="#222" stroke-width="0.3" vector-effect="non-scaling-stroke">A</text><text x="396.96" y="774.5" font-size="9.74" text-anchor="middle" fill="#222" transform="scale(0.4114 1)" stroke="#222" stroke-width="0.3" vector-effect="non-scaling-stroke">C</text><text x="371.8" y="774.5" font-size="9.74" text-anchor="middle" fill="#222" transform="scale(0.4472 1)" stroke="#222" stroke-width="0.3" vector-effect="non-scaling-stroke">_</text><text x="438.22" y="774.5" font-size="9.74" text-anchor="middle" fill="#222" transform="scale(0.3929 1)" stroke="#222" stroke-width="0.3" vector-effect="non-scaling-stroke">A</text>
<text xml:space="preserve" x="504.99 511.26" y="774.5" font-size="9.74" text-anchor="middle" fill="#222" transform="scale(0.4604 1)" stroke="#222" stroke-width="0.3" vector-effect="non-scaling-stroke">21</text>
<text xml:space="preserve" x="579.27 585.67 592.08 598.28 604.66 611.3 617.71 624.11" y="774.5" font-size="9.74" text-anchor="middle" fill="#222" transform="scale(0.4604 1)" stroke="#222" stroke-width="0.3" vector-effect="non-scaling-stroke">T  FL   </text><text x="706.61" y="774.5" font-size="9.74" text-anchor="middle" fill="#222" transform="scale(0.3816 1)" stroke="#222" stroke-width="0.3" vector-effect="non-scaling-stroke">O</text><text x="609.61" y="774.5" font-size="9.74" text-anchor="middle" fill="#222" transform="scale(0.4472 1)" stroke="#222" stroke-width="0.3" vector-effect="non-scaling-stroke">_</text><text x="737.53" y="774.5" font-size="9.74" text-anchor="middle" fill="#222" transform="scale(0.3816 1)" stroke="#222" stroke-width="0.3" vector-effect="non-scaling-stroke">O</text><text x="745.26" y="774.5" font-size="9.74" text-anchor="middle" fill="#222" transform="scale(0.3816 1)" stroke="#222" stroke-width="0.3" vector-effect="non-scaling-stroke">O</text><text x="654.78" y="774.5" font-size="9.74" text-anchor="middle" fill="#222" transform="scale(0.4388 1)" stroke="#222" stroke-width="0.3" vector-effect="non-scaling-stroke">R</text>
<text xml:space="preserve" x="729.8" y="774.5" font-size="9.74" text-anchor="middle" fill="#222" transform="scale(0.4604 1)" stroke="#222" stroke-width="0.3" vector-effect="non-scaling-stroke">4</text>
<text xml:space="preserve" x="787.76 794.17 800.57 806.98" y="774.5" font-size="9.74" text-anchor="middle" fill="#222" transform="scale(0.4604 1)" stroke="#222" stroke-width="0.3" vector-effect="non-scaling-stroke">    </text><text x="881.69" y="774.5" font-size="9.74" text-anchor="middle" fill="#222" transform="scale(0.4114 1)" stroke="#222" stroke-width="0.3" vector-effect="non-scaling-stroke">C</text><text x="930.74" y="774.5" font-size="9.74" text-anchor="middle" fill="#222" transform="scale(0.3929 1)" stroke="#222" stroke-width="0.3" vector-effect="non-scaling-stroke">A</text><text x="931.33" y="774.5" font-size="9.74" text-anchor="middle" fill="#222" transform="scale(0.3958 1)" stroke="#222" stroke-width="0.3" vector-effect="non-scaling-stroke">V</text><text x="821.09" y="774.5" font-size="9.74" text-anchor="middle" fill="#222" transform="scale(0.4525 1)" stroke="#222" stroke-width="0.3" vector-effect="non-scaling-stroke">S</text>
<text xml:space="preserve" x="185.76 192.14 198.58" y="786.37" font-size="9.74" text-anchor="middle" fill="#222" transform="scale(0.4604 1)" stroke="#222" stroke-width="0.3" vector-effect="non-scaling-stroke">323</text>
<text xml:space="preserve" x="225.26 231.67 238.1" y="786.37" font-size="9.74" text-anchor="middle" fill="#222" transform="scale(0.4604 1)" stroke="#222" stroke-width="0.3" vector-effect="non-scaling-stroke">0.3</text>
<text xml:space="preserve" x="287.81 294.07" y="786.37" font-size="9.74" text-anchor="middle" fill="#222" transform="scale(0.4604 1)" stroke="#222" stroke-width="0.3" vector-effect="non-scaling-stroke"> B</text><text x="347.24" y="786.37" font-size="9.74" text-anchor="middle" fill="#222" transform="scale(0.3816 1)" stroke="#222" stroke-width="0.3" vector-effect="non-scaling-stroke">O</text>
<text xml:space="preserve" x="341.92 348.29 354.57" y="786.37" font-size="9.74" text-anchor="middle" fill="#222" transform="scale(0.4604 1)" stroke="#222" stroke-width="0.3" vector-effect="non-scaling-stroke">321</text>
<text xml:space="preserve" x="579.27 585.67 592.08 598.49 604.89 611.3" y="786.37" font-size="9.74" text-anchor="middle" fill="#222" transform="scale(0.4604 1)" stroke="#222" stroke-width="0.3" vector-effect="non-scaling-stroke"> I  I </text><text x="678.88" y="786.37" font-size="9.74" text-anchor="middle" fill="#222" transform="scale(0.3929 1)" stroke="#222" stroke-width="0.3" vector-effect="non-scaling-stroke">A</text><text x="621.17" y="786.37" font-size="9.74" text-anchor="middle" fill="#222" transform="scale(0.4388 1)" stroke="#222" stroke-width="0.3" vector-effect="non-scaling-stroke">R</text><text x="707.6" y="786.37" font-size="9.74" text-anchor="middle" fill="#222" transform="scale(0.3894 1)" stroke="#222" stroke-width="0.3" vector-effect="non-scaling-stroke">M</text><text x="673.68" y="786.37" font-size="9.74" text-anchor="middle" fill="#222" transform="scale(0.4178 1)" stroke="#222" stroke-width="0.3" vector-effect="non-scaling-stroke">X</text>
<text xml:space="preserve" x="729.74" y="786.37" font-size="9.74" text-anchor="middle" fill="#222" transform="scale(0.4604 1)" stroke="#222" stroke-width="0.3" vector-effect="non-scaling-stroke">6</text>
<text xml:space="preserve" x="787.76 794.17 800.57 806.98" y="786.37" font-size="9.74" text-anchor="middle" fill="#222" transform="scale(0.4604 1)" stroke="#222" stroke-width="0.3" vector-effect="non-scaling-stroke">    </text><text x="881.69" y="786.37" font-size="9.74" text-anchor="middle" fill="#222" transform="scale(0.4114 1)" stroke="#222" stroke-width="0.3" vector-effect="non-scaling-stroke">C</text><text x="930.74" y="786.37" font-size="9.74" text-anchor="middle" fill="#222" transform="scale(0.3929 1)" stroke="#222" stroke-width="0.3" vector-effect="non-scaling-stroke">A</text><text x="931.33" y="786.37" font-size="9.74" text-anchor="middle" fill="#222" transform="scale(0.3958 1)" stroke="#222" stroke-width="0.3" vector-effect="non-scaling-stroke">V</text><text x="821.09" y="786.37" font-size="9.74" text-anchor="middle" fill="#222" transform="scale(0.4525 1)" stroke="#222" stroke-width="0.3" vector-effect="non-scaling-stroke">S</text>
<text xml:space="preserve" x="185.76 192.17 198.55" y="798.24" font-size="9.74" text-anchor="middle" fill="#222" transform="scale(0.4604 1)" stroke="#222" stroke-width="0.3" vector-effect="non-scaling-stroke">330</text>
<text xml:space="preserve" x="225.26 231.67 238.08" y="798.24" font-size="9.74" text-anchor="middle" fill="#222" transform="scale(0.4604 1)" stroke="#222" stroke-width="0.3" vector-effect="non-scaling-stroke">0.5</text>
<text xml:space="preserve" x="287.67 293.97" y="798.24" font-size="9.74" text-anchor="middle" fill="#222" transform="scale(0.4604 1)" stroke="#222" stroke-width="0.3" vector-effect="non-scaling-stroke">Br</text>
<text xml:space="preserve" x="341.89 348.29 354.7 361.11 367.51 373.92" y="798.24" font-size="9.74" text-anchor="middle" fill="#222" transform="scale(0.4604 1)" stroke="#222" stroke-width="0.3" vector-effect="non-scaling-stroke"> ly.  </text><text x="358.61" y="798.24" font-size="9.74" text-anchor="middle" fill="#222" transform="scale(0.4388 1)" stroke="#222" stroke-width="0.3" vector-effect="non-scaling-stroke">R</text><text x="385.5" y="798.24" font-size="9.74" text-anchor="middle" fill="#222" transform="scale(0.4388 1)" stroke="#222" stroke-width="0.3" vector-effect="non-scaling-stroke">R</text><text x="418.48" y="798.24" font-size="9.74" text-anchor="middle" fill="#222" transform="scale(0.4114 1)" stroke="#222" stroke-width="0.3" vector-effect="non-scaling-stroke">C</text>
<text xml:space="preserve" x="504.86" y="798.24" font-size="9.74" text-anchor="middle" fill="#222" transform="scale(0.4604 1)" stroke="#222" stroke-width="0.3" vector-effect="non-scaling-stroke">1</text>
<text xml:space="preserve" x="579.26 585.68" y="798.24" font-size="9.74" text-anchor="middle" fill="#222" transform="scale(0.4604 1)" stroke="#222" stroke-width="0.3" vector-effect="non-scaling-stroke">79</text>
<text xml:space="preserve" x="787.76 794.17 800.57 806.98" y="798.24" font-size="9.74" text-anchor="middle" fill="#222" transform="scale(0.4604 1)" stroke="#222" stroke-width="0.3" vector-effect="non-scaling-stroke">    </text><text x="881.69" y="798.24" font-size="9.74" text-anchor="middle" fill="#222" transform="scale(0.4114 1)" stroke="#222" stroke-width="0.3" vector-effect="non-scaling-stroke">C</text><text x="930.74" y="798.24" font-size="9.74" text-anchor="middle" fill="#222" transform="scale(0.3929 1)" stroke="#222" stroke-width="0.3" vector-effect="non-scaling-stroke">A</text><text x="931.33" y="798.24" font-size="9.74" text-anchor="middle" fill="#222" transform="scale(0.3958 1)" stroke="#222" stroke-width="0.3" vector-effect="non-scaling-stroke">V</text><text x="821.09" y="798.24" font-size="9.74" text-anchor="middle" fill="#222" transform="scale(0.4525 1)" stroke="#222" stroke-width="0.3" vector-effect="non-scaling-stroke">S</text>
<text xml:space="preserve" x="185.76 192.17 198.42" y="810.11" font-size="9.74" text-anchor="middle" fill="#222" transform="scale(0.4604 1)" stroke="#222" stroke-width="0.3" vector-effect="non-scaling-stroke">331</text>
<text xml:space="preserve" x="225.26 231.67 238.08" y="810.11" font-size="9.74" text-anchor="middle" fill="#222" transform="scale(0.4604 1)" stroke="#222" stroke-width="0.3" vector-effect="non-scaling-stroke">0.5</text>
<text xml:space="preserve" x="287.67 293.97" y="810.11" font-size="9.74" text-anchor="middle" fill="#222" transform="scale(0.4604 1)" stroke="#222" stroke-width="0.3" vector-effect="non-scaling-stroke">Br</text>
<text xml:space="preserve" x="341.89 348.29 354.7 361.11 367.51 373.92" y="810.11" font-size="9.74" text-anchor="middle" fill="#222" transform="scale(0.4604 1)" stroke="#222" stroke-width="0.3" vector-effect="non-scaling-stroke"> ly.HI</text><text x="358.61" y="810.11" font-size="9.74" text-anchor="middle" fill="#222" transform="scale(0.4388 1)" stroke="#222" stroke-width="0.3" vector-effect="non-scaling-stroke">R</text>
<text xml:space="preserve" x="504.86" y="810.11" font-size="9.74" text-anchor="middle" fill="#222" transform="scale(0.4604 1)" stroke="#222" stroke-width="0.3" vector-effect="non-scaling-stroke">1</text>
<text xml:space="preserve" x="579.26 585.68" y="810.11" font-size="9.74" text-anchor="middle" fill="#222" transform="scale(0.4604 1)" stroke="#222" stroke-width="0.3" vector-effect="non-scaling-stroke">79</text>
<text xml:space="preserve" x="787.76 794.17 800.57 806.98" y="810.11" font-size="9.74" text-anchor="middle" fill="#222" transform="scale(0.4604 1)" stroke="#222" stroke-width="0.3" vector-effect="non-scaling-stroke">    </text><text x="881.69" y="810.11" font-size="9.74" text-anchor="middle" fill="#222" transform="scale(0.4114 1)" stroke="#222" stroke-width="0.3" vector-effect="non-scaling-stroke">C</text><text x="930.74" y="810.11" font-size="9.74" text-anchor="middle" fill="#222" transform="scale(0.3929 1)" stroke="#222" stroke-width="0.3" vector-effect="non-scaling-stroke">A</text><text x="931.33" y="810.11" font-size="9.74" text-anchor="middle" fill="#222" transform="scale(0.3958 1)" stroke="#222" stroke-width="0.3" vector-effect="non-scaling-stroke">V</text><text x="821.09" y="810.11" font-size="9.74" text-anchor="middle" fill="#222" transform="scale(0.4525 1)" stroke="#222" stroke-width="0.3" vector-effect="non-scaling-stroke">S</text>
<text xml:space="preserve" x="185.76 192.17 198.55" y="821.98" font-size="9.74" text-anchor="middle" fill="#222" transform="scale(0.4604 1)" stroke="#222" stroke-width="0.3" vector-effect="non-scaling-stroke">332</text>
<text xml:space="preserve" x="225.26 231.67 238.08" y="821.98" font-size="9.74" text-anchor="middle" fill="#222" transform="scale(0.4604 1)" stroke="#222" stroke-width="0.3" vector-effect="non-scaling-stroke">0.5</text>
<text xml:space="preserve" x="287.67 293.97" y="821.98" font-size="9.74" text-anchor="middle" fill="#222" transform="scale(0.4604 1)" stroke="#222" stroke-width="0.3" vector-effect="non-scaling-stroke">Br</text>
<text xml:space="preserve" x="341.89 348.29 354.7 361.11 367.51 373.92" y="821.98" font-size="9.74" text-anchor="middle" fill="#222" transform="scale(0.4604 1)" stroke="#222" stroke-width="0.3" vector-effect="non-scaling-stroke"> ly. H</text><text x="358.61" y="821.98" font-size="9.74" text-anchor="middle" fill="#222" transform="scale(0.4388 1)" stroke="#222" stroke-width="0.3" vector-effect="non-scaling-stroke">R</text><text x="434.52" y="821.98" font-size="9.74" text-anchor="middle" fill="#222" transform="scale(0.3894 1)" stroke="#222" stroke-width="0.3" vector-effect="non-scaling-stroke">M</text>
<text xml:space="preserve" x="504.86" y="821.98" font-size="9.74" text-anchor="middle" fill="#222" transform="scale(0.4604 1)" stroke="#222" stroke-width="0.3" vector-effect="non-scaling-stroke">1</text>
<text xml:space="preserve" x="579.26 585.68" y="821.98" font-size="9.74" text-anchor="middle" fill="#222" transform="scale(0.4604 1)" stroke="#222" stroke-width="0.3" vector-effect="non-scaling-stroke">79</text>
<text xml:space="preserve" x="787.76 794.17 800.57 806.98" y="821.98" font-size="9.74" text-anchor="middle" fill="#222" transform="scale(0.4604 1)" stroke="#222" stroke-width="0.3" vector-effect="non-scaling-stroke">    </text><text x="881.69" y="821.98" font-size="9.74" text-anchor="middle" fill="#222" transform="scale(0.4114 1)" stroke="#222" stroke-width="0.3" vector-effect="non-scaling-stroke">C</text><text x="930.74" y="821.98" font-size="9.74" text-anchor="middle" fill="#222" transform="scale(0.3929 1)" stroke="#222" stroke-width="0.3" vector-effect="non-scaling-stroke">A</text><text x="931.33" y="821.98" font-size="9.74" text-anchor="middle" fill="#222" transform="scale(0.3958 1)" stroke="#222" stroke-width="0.3" vector-effect="non-scaling-stroke">V</text><text x="821.09" y="821.98" font-size="9.74" text-anchor="middle" fill="#222" transform="scale(0.4525 1)" stroke="#222" stroke-width="0.3" vector-effect="non-scaling-stroke">S</text>
<text xml:space="preserve" x="185.76 192.17 198.58" y="833.84" font-size="9.74" text-anchor="middle" fill="#222" transform="scale(0.4604 1)" stroke="#222" stroke-width="0.3" vector-effect="non-scaling-stroke">333</text>
<text xml:space="preserve" x="225.26 231.67 238.08" y="833.84" font-size="9.74" text-anchor="middle" fill="#222" transform="scale(0.4604 1)" stroke="#222" stroke-width="0.3" vector-effect="non-scaling-stroke">0.5</text>
<text xml:space="preserve" x="287.67 293.97" y="833.84" font-size="9.74" text-anchor="middle" fill="#222" transform="scale(0.4604 1)" stroke="#222" stroke-width="0.3" vector-effect="non-scaling-stroke">Br</text>
<text xml:space="preserve" x="341.89 348.29 354.7 361.11 367.51 373.68" y="833.84" font-size="9.74" text-anchor="middle" fill="#222" transform="scale(0.4604 1)" stroke="#222" stroke-width="0.3" vector-effect="non-scaling-stroke"> ly. L</text><text x="358.61" y="833.84" font-size="9.74" text-anchor="middle" fill="#222" transform="scale(0.4388 1)" stroke="#222" stroke-width="0.3" vector-effect="non-scaling-stroke">R</text><text x="434.52" y="833.84" font-size="9.74" text-anchor="middle" fill="#222" transform="scale(0.3894 1)" stroke="#222" stroke-width="0.3" vector-effect="non-scaling-stroke">M</text>
<text xml:space="preserve" x="504.86" y="833.84" font-size="9.74" text-anchor="middle" fill="#222" transform="scale(0.4604 1)" stroke="#222" stroke-width="0.3" vector-effect="non-scaling-stroke">1</text>
<text xml:space="preserve" x="579.26 585.68" y="833.84" font-size="9.74" text-anchor="middle" fill="#222" transform="scale(0.4604 1)" stroke="#222" stroke-width="0.3" vector-effect="non-scaling-stroke">79</text>
<text xml:space="preserve" x="787.76 794.17 800.57 806.98" y="833.84" font-size="9.74" text-anchor="middle" fill="#222" transform="scale(0.4604 1)" stroke="#222" stroke-width="0.3" vector-effect="non-scaling-stroke">    </text><text x="881.69" y="833.84" font-size="9.74" text-anchor="middle" fill="#222" transform="scale(0.4114 1)" stroke="#222" stroke-width="0.3" vector-effect="non-scaling-stroke">C</text><text x="930.74" y="833.84" font-size="9.74" text-anchor="middle" fill="#222" transform="scale(0.3929 1)" stroke="#222" stroke-width="0.3" vector-effect="non-scaling-stroke">A</text><text x="931.33" y="833.84" font-size="9.74" text-anchor="middle" fill="#222" transform="scale(0.3958 1)" stroke="#222" stroke-width="0.3" vector-effect="non-scaling-stroke">V</text><text x="821.09" y="833.84" font-size="9.74" text-anchor="middle" fill="#222" transform="scale(0.4525 1)" stroke="#222" stroke-width="0.3" vector-effect="non-scaling-stroke">S</text>
<text xml:space="preserve" x="185.76 192.17 198.58" y="845.72" font-size="9.74" text-anchor="middle" fill="#222" transform="scale(0.4604 1)" stroke="#222" stroke-width="0.3" vector-effect="non-scaling-stroke">334</text>
<text xml:space="preserve" x="225.26 231.67 238.08" y="845.72" font-size="9.74" text-anchor="middle" fill="#222" transform="scale(0.4604 1)" stroke="#222" stroke-width="0.3" vector-effect="non-scaling-stroke">0.5</text>
<text xml:space="preserve" x="287.67 293.97" y="845.72" font-size="9.74" text-anchor="middle" fill="#222" transform="scale(0.4604 1)" stroke="#222" stroke-width="0.3" vector-effect="non-scaling-stroke">Br</text>
<text xml:space="preserve" x="341.89 348.29 354.7 361.11 367.28 373.92" y="845.72" font-size="9.74" text-anchor="middle" fill="#222" transform="scale(0.4604 1)" stroke="#222" stroke-width="0.3" vector-effect="non-scaling-stroke"> ly.L </text><text x="358.61" y="845.72" font-size="9.74" text-anchor="middle" fill="#222" transform="scale(0.4388 1)" stroke="#222" stroke-width="0.3" vector-effect="non-scaling-stroke">R</text><text x="618.61" y="845.72" font-size="9.74" text-anchor="middle" fill="#222" transform="scale(0.2783 1)" stroke="#222" stroke-width="0.3" vector-effect="non-scaling-stroke">W</text>
<text xml:space="preserve" x="504.86" y="845.72" font-size="9.74" text-anchor="middle" fill="#222" transform="scale(0.4604 1)" stroke="#222" stroke-width="0.3" vector-effect="non-scaling-stroke">1</text>
<text xml:space="preserve" x="579.26 585.68" y="845.72" font-size="9.74" text-anchor="middle" fill="#222" transform="scale(0.4604 1)" stroke="#222" stroke-width="0.3" vector-effect="non-scaling-stroke">79</text>
<text xml:space="preserve" x="787.76 794.17 800.57 806.98" y="845.72" font-size="9.74" text-anchor="middle" fill="#222" transform="scale(0.4604 1)" stroke="#222" stroke-width="0.3" vector-effect="non-scaling-stroke">    </text><text x="881.69" y="845.72" font-size="9.74" text-anchor="middle" fill="#222" transform="scale(0.4114 1)" stroke="#222" stroke-width="0.3" vector-effect="non-scaling-stroke">C</text><text x="930.74" y="845.72" font-size="9.74" text-anchor="middle" fill="#222" transform="scale(0.3929 1)" stroke="#222" stroke-width="0.3" vector-effect="non-scaling-stroke">A</text><text x="931.33" y="845.72" font-size="9.74" text-anchor="middle" fill="#222" transform="scale(0.3958 1)" stroke="#222" stroke-width="0.3" vector-effect="non-scaling-stroke">V</text><text x="821.09" y="845.72" font-size="9.74" text-anchor="middle" fill="#222" transform="scale(0.4525 1)" stroke="#222" stroke-width="0.3" vector-effect="non-scaling-stroke">S</text>
<text xml:space="preserve" x="185.76 192.17 198.56" y="857.58" font-size="9.74" text-anchor="middle" fill="#222" transform="scale(0.4604 1)" stroke="#222" stroke-width="0.3" vector-effect="non-scaling-stroke">335</text>
<text xml:space="preserve" x="225.26" y="857.58" font-size="9.74" text-anchor="middle" fill="#222" transform="scale(0.4604 1)" stroke="#222" stroke-width="0.3" vector-effect="non-scaling-stroke">2</text>
<text xml:space="preserve" x="287.81 294.22" y="857.58" font-size="9.74" text-anchor="middle" fill="#222" transform="scale(0.4604 1)" stroke="#222" stroke-width="0.3" vector-effect="non-scaling-stroke">  </text><text x="301.86" y="857.58" font-size="9.74" text-anchor="middle" fill="#222" transform="scale(0.4388 1)" stroke="#222" stroke-width="0.3" vector-effect="non-scaling-stroke">R</text><text x="486.74" y="857.58" font-size="9.74" text-anchor="middle" fill="#222" transform="scale(0.2783 1)" stroke="#222" stroke-width="0.3" vector-effect="non-scaling-stroke">W</text>
<text xml:space="preserve" x="341.89 348.29 354.7 361.11 367.51 373.92" y="857.58" font-size="9.74" text-anchor="middle" fill="#222" transform="scale(0.4604 1)" stroke="#222" stroke-width="0.3" vector-effect="non-scaling-stroke"> ly.HI</text><text x="358.61" y="857.58" font-size="9.74" text-anchor="middle" fill="#222" transform="scale(0.4388 1)" stroke="#222" stroke-width="0.3" vector-effect="non-scaling-stroke">R</text>
<text xml:space="preserve" x="505.02" y="857.58" font-size="9.74" text-anchor="middle" fill="#222" transform="scale(0.4604 1)" stroke="#222" stroke-width="0.3" vector-effect="non-scaling-stroke">3</text>
<text xml:space="preserve" x="579.27 585.48 592.08 598.49 604.89 611.3 617.71 624.11" y="857.58" font-size="9.74" text-anchor="middle" fill="#222" transform="scale(0.4604 1)" stroke="#222" stroke-width="0.3" vector-effect="non-scaling-stroke"> E I T  </text><text x="607.72" y="857.58" font-size="9.74" text-anchor="middle" fill="#222" transform="scale(0.4388 1)" stroke="#222" stroke-width="0.3" vector-effect="non-scaling-stroke">R</text><text x="602.44" y="857.58" font-size="9.74" text-anchor="middle" fill="#222" transform="scale(0.4525 1)" stroke="#222" stroke-width="0.3" vector-effect="non-scaling-stroke">S</text><text x="615.47" y="857.58" font-size="9.74" text-anchor="middle" fill="#222" transform="scale(0.4525 1)" stroke="#222" stroke-width="0.3" vector-effect="non-scaling-stroke">S</text><text x="745.26" y="857.58" font-size="9.74" text-anchor="middle" fill="#222" transform="scale(0.3816 1)" stroke="#222" stroke-width="0.3" vector-effect="non-scaling-stroke">O</text><text x="654.78" y="857.58" font-size="9.74" text-anchor="middle" fill="#222" transform="scale(0.4388 1)" stroke="#222" stroke-width="0.3" vector-effect="non-scaling-stroke">R</text>
<text xml:space="preserve" x="729.64" y="857.58" font-size="9.74" text-anchor="middle" fill="#222" transform="scale(0.4604 1)" stroke="#222" stroke-width="0.3" vector-effect="non-scaling-stroke">1</text>
<text xml:space="preserve" x="787.76 794.17 800.57" y="857.58" font-size="9.74" text-anchor="middle" fill="#222" transform="scale(0.4604 1)" stroke="#222" stroke-width="0.3" vector-effect="non-scaling-stroke">   </text><text x="923.23" y="857.58" font-size="9.74" text-anchor="middle" fill="#222" transform="scale(0.3929 1)" stroke="#222" stroke-width="0.3" vector-effect="non-scaling-stroke">A</text><text x="923.88" y="857.58" font-size="9.74" text-anchor="middle" fill="#222" transform="scale(0.3958 1)" stroke="#222" stroke-width="0.3" vector-effect="non-scaling-stroke">V</text><text x="814.58" y="857.58" font-size="9.74" text-anchor="middle" fill="#222" transform="scale(0.4525 1)" stroke="#222" stroke-width="0.3" vector-effect="non-scaling-stroke">S</text>
<text xml:space="preserve" x="185.76 192.17 198.52" y="869.46" font-size="9.74" text-anchor="middle" fill="#222" transform="scale(0.4604 1)" stroke="#222" stroke-width="0.3" vector-effect="non-scaling-stroke">336</text>
<text xml:space="preserve" x="225.26" y="869.46" font-size="9.74" text-anchor="middle" fill="#222" transform="scale(0.4604 1)" stroke="#222" stroke-width="0.3" vector-effect="non-scaling-stroke">2</text>
<text xml:space="preserve" x="287.81 294.22" y="869.46" font-size="9.74" text-anchor="middle" fill="#222" transform="scale(0.4604 1)" stroke="#222" stroke-width="0.3" vector-effect="non-scaling-stroke">  </text><text x="301.86" y="869.46" font-size="9.74" text-anchor="middle" fill="#222" transform="scale(0.4388 1)" stroke="#222" stroke-width="0.3" vector-effect="non-scaling-stroke">R</text><text x="486.74" y="869.46" font-size="9.74" text-anchor="middle" fill="#222" transform="scale(0.2783 1)" stroke="#222" stroke-width="0.3" vector-effect="non-scaling-stroke">W</text>
<text xml:space="preserve" x="341.75 348.06 354.7 361.11 367.32 373.92 380.33 386.53 393.14 399.55" y="869.46" font-size="9.74" text-anchor="middle" fill="#222" transform="scale(0.4604 1)" stroke="#222" stroke-width="0.3" vector-effect="non-scaling-stroke">BL  E  F N</text><text x="427.94" y="869.46" font-size="9.74" text-anchor="middle" fill="#222" transform="scale(0.3816 1)" stroke="#222" stroke-width="0.3" vector-effect="non-scaling-stroke">O</text><text x="597.41" y="869.46" font-size="9.74" text-anchor="middle" fill="#222" transform="scale(0.2783 1)" stroke="#222" stroke-width="0.3" vector-effect="non-scaling-stroke">W</text><text x="392.23" y="869.46" font-size="9.74" text-anchor="middle" fill="#222" transform="scale(0.4388 1)" stroke="#222" stroke-width="0.3" vector-effect="non-scaling-stroke">R</text><text x="391.59" y="869.46" font-size="9.74" text-anchor="middle" fill="#222" transform="scale(0.4472 1)" stroke="#222" stroke-width="0.3" vector-effect="non-scaling-stroke">_</text><text x="460.75" y="869.46" font-size="9.74" text-anchor="middle" fill="#222" transform="scale(0.3929 1)" stroke="#222" stroke-width="0.3" vector-effect="non-scaling-stroke">A</text>
<text xml:space="preserve" x="504.99" y="869.46" font-size="9.74" text-anchor="middle" fill="#222" transform="scale(0.4604 1)" stroke="#222" stroke-width="0.3" vector-effect="non-scaling-stroke">2</text>
<text xml:space="preserve" x="579.29 585.7 592.09" y="869.46" font-size="9.74" text-anchor="middle" fill="#222" transform="scale(0.4604 1)" stroke="#222" stroke-width="0.3" vector-effect="non-scaling-stroke">335</text>
<text xml:space="preserve" x="787.76 794.17 800.57" y="869.46" font-size="9.74" text-anchor="middle" fill="#222" transform="scale(0.4604 1)" stroke="#222" stroke-width="0.3" vector-effect="non-scaling-stroke">   </text><text x="923.23" y="869.46" font-size="9.74" text-anchor="middle" fill="#222" transform="scale(0.3929 1)" stroke="#222" stroke-width="0.3" vector-effect="non-scaling-stroke">A</text><text x="923.88" y="869.46" font-size="9.74" text-anchor="middle" fill="#222" transform="scale(0.3958 1)" stroke="#222" stroke-width="0.3" vector-effect="non-scaling-stroke">V</text><text x="814.58" y="869.46" font-size="9.74" text-anchor="middle" fill="#222" transform="scale(0.4525 1)" stroke="#222" stroke-width="0.3" vector-effect="non-scaling-stroke">S</text>
<text xml:space="preserve" x="185.76 192.17 198.54" y="881.32" font-size="9.74" text-anchor="middle" fill="#222" transform="scale(0.4604 1)" stroke="#222" stroke-width="0.3" vector-effect="non-scaling-stroke">337</text>
<text xml:space="preserve" x="225.26" y="881.32" font-size="9.74" text-anchor="middle" fill="#222" transform="scale(0.4604 1)" stroke="#222" stroke-width="0.3" vector-effect="non-scaling-stroke">2</text>
<text xml:space="preserve" x="287.81 294.22" y="881.32" font-size="9.74" text-anchor="middle" fill="#222" transform="scale(0.4604 1)" stroke="#222" stroke-width="0.3" vector-effect="non-scaling-stroke">  </text><text x="301.86" y="881.32" font-size="9.74" text-anchor="middle" fill="#222" transform="scale(0.4388 1)" stroke="#222" stroke-width="0.3" vector-effect="non-scaling-stroke">R</text><text x="339.6" y="881.32" font-size="9.74" text-anchor="middle" fill="#222" transform="scale(0.3991 1)" stroke="#222" stroke-width="0.3" vector-effect="non-scaling-stroke">G</text>
<text xml:space="preserve" x="341.89 348.29 354.7 361.11 367.51 373.92" y="881.32" font-size="9.74" text-anchor="middle" fill="#222" transform="scale(0.4604 1)" stroke="#222" stroke-width="0.3" vector-effect="non-scaling-stroke"> ly. H</text><text x="358.61" y="881.32" font-size="9.74" text-anchor="middle" fill="#222" transform="scale(0.4388 1)" stroke="#222" stroke-width="0.3" vector-effect="non-scaling-stroke">R</text><text x="434.52" y="881.32" font-size="9.74" text-anchor="middle" fill="#222" transform="scale(0.3894 1)" stroke="#222" stroke-width="0.3" vector-effect="non-scaling-stroke">M</text>
<text xml:space="preserve" x="505.02" y="881.32" font-size="9.74" text-anchor="middle" fill="#222" transform="scale(0.4604 1)" stroke="#222" stroke-width="0.3" vector-effect="non-scaling-stroke">3</text>
<text xml:space="preserve" x="579.27 585.48 592.08 598.49 604.89 611.3 617.71 624.11" y="881.32" font-size="9.74" text-anchor="middle" fill="#222" transform="scale(0.4604 1)" stroke="#222" stroke-width="0.3" vector-effect="non-scaling-stroke"> E I T  </text><text x="607.72" y="881.32" font-size="9.74" text-anchor="middle" fill="#222" transform="scale(0.4388 1)" stroke="#222" stroke-width="0.3" vector-effect="non-scaling-stroke">R</text><text x="602.44" y="881.32" font-size="9.74" text-anchor="middle" fill="#222" transform="scale(0.4525 1)" stroke="#222" stroke-width="0.3" vector-effect="non-scaling-stroke">S</text><text x="615.47" y="881.32" font-size="9.74" text-anchor="middle" fill="#222" transform="scale(0.4525 1)" stroke="#222" stroke-width="0.3" vector-effect="non-scaling-stroke">S</text><text x="745.26" y="881.32" font-size="9.74" text-anchor="middle" fill="#222" transform="scale(0.3816 1)" stroke="#222" stroke-width="0.3" vector-effect="non-scaling-stroke">O</text><text x="654.78" y="881.32" font-size="9.74" text-anchor="middle" fill="#222" transform="scale(0.4388 1)" stroke="#222" stroke-width="0.3" vector-effect="non-scaling-stroke">R</text>
<text xml:space="preserve" x="729.77" y="881.32" font-size="9.74" text-anchor="middle" fill="#222" transform="scale(0.4604 1)" stroke="#222" stroke-width="0.3" vector-effect="non-scaling-stroke">2</text>
<text xml:space="preserve" x="787.76 794.17 800.57" y="881.32" font-size="9.74" text-anchor="middle" fill="#222" transform="scale(0.4604 1)" stroke="#222" stroke-width="0.3" vector-effect="non-scaling-stroke">   </text><text x="923.23" y="881.32" font-size="9.74" text-anchor="middle" fill="#222" transform="scale(0.3929 1)" stroke="#222" stroke-width="0.3" vector-effect="non-scaling-stroke">A</text><text x="923.88" y="881.32" font-size="9.74" text-anchor="middle" fill="#222" transform="scale(0.3958 1)" stroke="#222" stroke-width="0.3" vector-effect="non-scaling-stroke">V</text><text x="814.58" y="881.32" font-size="9.74" text-anchor="middle" fill="#222" transform="scale(0.4525 1)" stroke="#222" stroke-width="0.3" vector-effect="non-scaling-stroke">S</text>
<text xml:space="preserve" x="185.76 192.17 198.55" y="893.2" font-size="9.74" text-anchor="middle" fill="#222" transform="scale(0.4604 1)" stroke="#222" stroke-width="0.3" vector-effect="non-scaling-stroke">338</text>
<text xml:space="preserve" x="225.26" y="893.2" font-size="9.74" text-anchor="middle" fill="#222" transform="scale(0.4604 1)" stroke="#222" stroke-width="0.3" vector-effect="non-scaling-stroke">2</text>
<text xml:space="preserve" x="287.81 294.22" y="893.2" font-size="9.74" text-anchor="middle" fill="#222" transform="scale(0.4604 1)" stroke="#222" stroke-width="0.3" vector-effect="non-scaling-stroke">  </text><text x="316.94" y="893.2" font-size="9.74" text-anchor="middle" fill="#222" transform="scale(0.4181 1)" stroke="#222" stroke-width="0.3" vector-effect="non-scaling-stroke">Y</text><text x="308.58" y="893.2" font-size="9.74" text-anchor="middle" fill="#222" transform="scale(0.4388 1)" stroke="#222" stroke-width="0.3" vector-effect="non-scaling-stroke">R</text>
<text xml:space="preserve" x="341.89 348.29 354.7 361.11 367.51 373.68" y="893.2" font-size="9.74" text-anchor="middle" fill="#222" transform="scale(0.4604 1)" stroke="#222" stroke-width="0.3" vector-effect="non-scaling-stroke"> ly. L</text><text x="358.61" y="893.2" font-size="9.74" text-anchor="middle" fill="#222" transform="scale(0.4388 1)" stroke="#222" stroke-width="0.3" vector-effect="non-scaling-stroke">R</text><text x="434.52" y="893.2" font-size="9.74" text-anchor="middle" fill="#222" transform="scale(0.3894 1)" stroke="#222" stroke-width="0.3" vector-effect="non-scaling-stroke">M</text>
<text xml:space="preserve" x="505.02" y="893.2" font-size="9.74" text-anchor="middle" fill="#222" transform="scale(0.4604 1)" stroke="#222" stroke-width="0.3" vector-effect="non-scaling-stroke">3</text>
<text xml:space="preserve" x="579.27 585.48 592.08 598.49 604.89 611.3 617.71 624.11" y="893.2" font-size="9.74" text-anchor="middle" fill="#222" transform="scale(0.4604 1)" stroke="#222" stroke-width="0.3" vector-effect="non-scaling-stroke"> E I T  </text><text x="607.72" y="893.2" font-size="9.74" text-anchor="middle" fill="#222" transform="scale(0.4388 1)" stroke="#222" stroke-width="0.3" vector-effect="non-scaling-stroke">R</text><text x="602.44" y="893.2" font-size="9.74" text-anchor="middle" fill="#222" transform="scale(0.4525 1)" stroke="#222" stroke-width="0.3" vector-effect="non-scaling-stroke">S</text><text x="615.47" y="893.2" font-size="9.74" text-anchor="middle" fill="#222" transform="scale(0.4525 1)" stroke="#222" stroke-width="0.3" vector-effect="non-scaling-stroke">S</text><text x="745.26" y="893.2" font-size="9.74" text-anchor="middle" fill="#222" transform="scale(0.3816 1)" stroke="#222" stroke-width="0.3" vector-effect="non-scaling-stroke">O</text><text x="654.78" y="893.2" font-size="9.74" text-anchor="middle" fill="#222" transform="scale(0.4388 1)" stroke="#222" stroke-width="0.3" vector-effect="non-scaling-stroke">R</text>
<text xml:space="preserve" x="729.8" y="893.2" font-size="9.74" text-anchor="middle" fill="#222" transform="scale(0.4604 1)" stroke="#222" stroke-width="0.3" vector-effect="non-scaling-stroke">4</text>
<text xml:space="preserve" x="787.76 794.17 800.57" y="893.2" font-size="9.74" text-anchor="middle" fill="#222" transform="scale(0.4604 1)" stroke="#222" stroke-width="0.3" vector-effect="non-scaling-stroke">   </text><text x="923.23" y="893.2" font-size="9.74" text-anchor="middle" fill="#222" transform="scale(0.3929 1)" stroke="#222" stroke-width="0.3" vector-effect="non-scaling-stroke">A</text><text x="923.88" y="893.2" font-size="9.74" text-anchor="middle" fill="#222" transform="scale(0.3958 1)" stroke="#222" stroke-width="0.3" vector-effect="non-scaling-stroke">V</text><text x="814.58" y="893.2" font-size="9.74" text-anchor="middle" fill="#222" transform="scale(0.4525 1)" stroke="#222" stroke-width="0.3" vector-effect="non-scaling-stroke">S</text>
<text xml:space="preserve" x="185.76 192.17 198.55" y="905.06" font-size="9.74" text-anchor="middle" fill="#222" transform="scale(0.4604 1)" stroke="#222" stroke-width="0.3" vector-effect="non-scaling-stroke">339</text>
<text xml:space="preserve" x="225.26" y="905.06" font-size="9.74" text-anchor="middle" fill="#222" transform="scale(0.4604 1)" stroke="#222" stroke-width="0.3" vector-effect="non-scaling-stroke">2</text>
<text xml:space="preserve" x="287.81 293.98" y="905.06" font-size="9.74" text-anchor="middle" fill="#222" transform="scale(0.4604 1)" stroke="#222" stroke-width="0.3" vector-effect="non-scaling-stroke"> L</text><text x="301.86" y="905.06" font-size="9.74" text-anchor="middle" fill="#222" transform="scale(0.4388 1)" stroke="#222" stroke-width="0.3" vector-effect="non-scaling-stroke">R</text>
<text xml:space="preserve" x="341.89 348.29 354.7 361.11 367.28 373.92" y="905.06" font-size="9.74" text-anchor="middle" fill="#222" transform="scale(0.4604 1)" stroke="#222" stroke-width="0.3" vector-effect="non-scaling-stroke"> ly.L </text><text x="358.61" y="905.06" font-size="9.74" text-anchor="middle" fill="#222" transform="scale(0.4388 1)" stroke="#222" stroke-width="0.3" vector-effect="non-scaling-stroke">R</text><text x="618.61" y="905.06" font-size="9.74" text-anchor="middle" fill="#222" transform="scale(0.2783 1)" stroke="#222" stroke-width="0.3" vector-effect="non-scaling-stroke">W</text>
<text xml:space="preserve" x="505.02" y="905.06" font-size="9.74" text-anchor="middle" fill="#222" transform="scale(0.4604 1)" stroke="#222" stroke-width="0.3" vector-effect="non-scaling-stroke">3</text>
<text xml:space="preserve" x="579.27 585.48 592.08 598.49 604.89 611.3 617.71 624.11" y="905.06" font-size="9.74" text-anchor="middle" fill="#222" transform="scale(0.4604 1)" stroke="#222" stroke-width="0.3" vector-effect="non-scaling-stroke"> E I T  </text><text x="607.72" y="905.06" font-size="9.74" text-anchor="middle" fill="#222" transform="scale(0.4388 1)" stroke="#222" stroke-width="0.3" vector-effect="non-scaling-stroke">R</text><text x="602.44" y="905.06" font-size="9.74" text-anchor="middle" fill="#222" transform="scale(0.4525 1)" stroke="#222" stroke-width="0.3" vector-effect="non-scaling-stroke">S</text><text x="615.47" y="905.06" font-size="9.74" text-anchor="middle" fill="#222" transform="scale(0.4525 1)" stroke="#222" stroke-width="0.3" vector-effect="non-scaling-stroke">S</text><text x="745.26" y="905.06" font-size="9.74" text-anchor="middle" fill="#222" transform="scale(0.3816 1)" stroke="#222" stroke-width="0.3" vector-effect="non-scaling-stroke">O</text><text x="654.78" y="905.06" font-size="9.74" text-anchor="middle" fill="#222" transform="scale(0.4388 1)" stroke="#222" stroke-width="0.3" vector-effect="non-scaling-stroke">R</text>
<text xml:space="preserve" x="729.8" y="905.06" font-size="9.74" text-anchor="middle" fill="#222" transform="scale(0.4604 1)" stroke="#222" stroke-width="0.3" vector-effect="non-scaling-stroke">3</text>
<text xml:space="preserve" x="787.76 794.17 800.57" y="905.06" font-size="9.74" text-anchor="middle" fill="#222" transform="scale(0.4604 1)" stroke="#222" stroke-width="0.3" vector-effect="non-scaling-stroke">   </text><text x="923.23" y="905.06" font-size="9.74" text-anchor="middle" fill="#222" transform="scale(0.3929 1)" stroke="#222" stroke-width="0.3" vector-effect="non-scaling-stroke">A</text><text x="923.88" y="905.06" font-size="9.74" text-anchor="middle" fill="#222" transform="scale(0.3958 1)" stroke="#222" stroke-width="0.3" vector-effect="non-scaling-stroke">V</text><text x="814.58" y="905.06" font-size="9.74" text-anchor="middle" fill="#222" transform="scale(0.4525 1)" stroke="#222" stroke-width="0.3" vector-effect="non-scaling-stroke">S</text>
<text xml:space="preserve" x="185.76 192.17 198.42" y="916.94" font-size="9.74" text-anchor="middle" fill="#222" transform="scale(0.4604 1)" stroke="#222" stroke-width="0.3" vector-effect="non-scaling-stroke">341</text>
<text xml:space="preserve" x="225.26 231.67 238.08 244.49" y="916.94" font-size="9.74" text-anchor="middle" fill="#222" transform="scale(0.4604 1)" stroke="#222" stroke-width="0.3" vector-effect="non-scaling-stroke">0.85</text>
<text xml:space="preserve" x="287.67 293.97" y="916.94" font-size="9.74" text-anchor="middle" fill="#222" transform="scale(0.4604 1)" stroke="#222" stroke-width="0.3" vector-effect="non-scaling-stroke">Br</text>
<text xml:space="preserve" x="341.89 348.29 354.7 361.11 367.51 373.92" y="916.94" font-size="9.74" text-anchor="middle" fill="#222" transform="scale(0.4604 1)" stroke="#222" stroke-width="0.3" vector-effect="non-scaling-stroke"> ly.  </text><text x="358.61" y="916.94" font-size="9.74" text-anchor="middle" fill="#222" transform="scale(0.4388 1)" stroke="#222" stroke-width="0.3" vector-effect="non-scaling-stroke">R</text><text x="385.5" y="916.94" font-size="9.74" text-anchor="middle" fill="#222" transform="scale(0.4388 1)" stroke="#222" stroke-width="0.3" vector-effect="non-scaling-stroke">R</text><text x="418.48" y="916.94" font-size="9.74" text-anchor="middle" fill="#222" transform="scale(0.4114 1)" stroke="#222" stroke-width="0.3" vector-effect="non-scaling-stroke">C</text>
<text xml:space="preserve" x="505.02" y="916.94" font-size="9.74" text-anchor="middle" fill="#222" transform="scale(0.4604 1)" stroke="#222" stroke-width="0.3" vector-effect="non-scaling-stroke">3</text>
<text xml:space="preserve" x="579.26 585.68" y="916.94" font-size="9.74" text-anchor="middle" fill="#222" transform="scale(0.4604 1)" stroke="#222" stroke-width="0.3" vector-effect="non-scaling-stroke">79</text>
<text xml:space="preserve" x="787.76 794.17 800.57 806.98" y="916.94" font-size="9.74" text-anchor="middle" fill="#222" transform="scale(0.4604 1)" stroke="#222" stroke-width="0.3" vector-effect="non-scaling-stroke">    </text><text x="881.69" y="916.94" font-size="9.74" text-anchor="middle" fill="#222" transform="scale(0.4114 1)" stroke="#222" stroke-width="0.3" vector-effect="non-scaling-stroke">C</text><text x="930.74" y="916.94" font-size="9.74" text-anchor="middle" fill="#222" transform="scale(0.3929 1)" stroke="#222" stroke-width="0.3" vector-effect="non-scaling-stroke">A</text><text x="931.33" y="916.94" font-size="9.74" text-anchor="middle" fill="#222" transform="scale(0.3958 1)" stroke="#222" stroke-width="0.3" vector-effect="non-scaling-stroke">V</text><text x="821.09" y="916.94" font-size="9.74" text-anchor="middle" fill="#222" transform="scale(0.4525 1)" stroke="#222" stroke-width="0.3" vector-effect="non-scaling-stroke">S</text>
<text xml:space="preserve" x="185.76 192.17 198.55" y="928.8" font-size="9.74" text-anchor="middle" fill="#222" transform="scale(0.4604 1)" stroke="#222" stroke-width="0.3" vector-effect="non-scaling-stroke">342</text>
<text xml:space="preserve" x="225.26 231.67 238.1" y="928.8" font-size="9.74" text-anchor="middle" fill="#222" transform="scale(0.4604 1)" stroke="#222" stroke-width="0.3" vector-effect="non-scaling-stroke">0.3</text>
<text xml:space="preserve" x="287.81" y="928.8" font-size="9.74" text-anchor="middle" fill="#222" transform="scale(0.4604 1)" stroke="#222" stroke-width="0.3" vector-effect="non-scaling-stroke"> </text><text x="347.24" y="928.8" font-size="9.74" text-anchor="middle" fill="#222" transform="scale(0.3816 1)" stroke="#222" stroke-width="0.3" vector-effect="non-scaling-stroke">O</text>
<text xml:space="preserve" x="341.92 348.16 354.7" y="928.8" font-size="9.74" text-anchor="middle" fill="#222" transform="scale(0.4604 1)" stroke="#222" stroke-width="0.3" vector-effect="non-scaling-stroke">319</text>
<text xml:space="preserve" x="579.27 585.67 592.08 598.49 604.89 611.3 617.71" y="928.8" font-size="9.74" text-anchor="middle" fill="#222" transform="scale(0.4604 1)" stroke="#222" stroke-width="0.3" vector-effect="non-scaling-stroke"> I   I </text><text x="678.88" y="928.8" font-size="9.74" text-anchor="middle" fill="#222" transform="scale(0.3929 1)" stroke="#222" stroke-width="0.3" vector-effect="non-scaling-stroke">A</text><text x="621.17" y="928.8" font-size="9.74" text-anchor="middle" fill="#222" transform="scale(0.4388 1)" stroke="#222" stroke-width="0.3" vector-effect="non-scaling-stroke">R</text><text x="616.2" y="928.8" font-size="9.74" text-anchor="middle" fill="#222" transform="scale(0.4472 1)" stroke="#222" stroke-width="0.3" vector-effect="non-scaling-stroke">_</text><text x="715.18" y="928.8" font-size="9.74" text-anchor="middle" fill="#222" transform="scale(0.3894 1)" stroke="#222" stroke-width="0.3" vector-effect="non-scaling-stroke">M</text><text x="680.74" y="928.8" font-size="9.74" text-anchor="middle" fill="#222" transform="scale(0.4178 1)" stroke="#222" stroke-width="0.3" vector-effect="non-scaling-stroke">X</text>
<text xml:space="preserve" x="729.77" y="928.8" font-size="9.74" text-anchor="middle" fill="#222" transform="scale(0.4604 1)" stroke="#222" stroke-width="0.3" vector-effect="non-scaling-stroke">7</text>
<text xml:space="preserve" x="787.76 794.17 800.57 806.98" y="928.8" font-size="9.74" text-anchor="middle" fill="#222" transform="scale(0.4604 1)" stroke="#222" stroke-width="0.3" vector-effect="non-scaling-stroke">    </text><text x="881.69" y="928.8" font-size="9.74" text-anchor="middle" fill="#222" transform="scale(0.4114 1)" stroke="#222" stroke-width="0.3" vector-effect="non-scaling-stroke">C</text><text x="930.74" y="928.8" font-size="9.74" text-anchor="middle" fill="#222" transform="scale(0.3929 1)" stroke="#222" stroke-width="0.3" vector-effect="non-scaling-stroke">A</text><text x="931.33" y="928.8" font-size="9.74" text-anchor="middle" fill="#222" transform="scale(0.3958 1)" stroke="#222" stroke-width="0.3" vector-effect="non-scaling-stroke">V</text><text x="821.09" y="928.8" font-size="9.74" text-anchor="middle" fill="#222" transform="scale(0.4525 1)" stroke="#222" stroke-width="0.3" vector-effect="non-scaling-stroke">S</text>
<text xml:space="preserve" x="185.74 192.14 198.58" y="940.68" font-size="9.74" text-anchor="middle" fill="#222" transform="scale(0.4604 1)" stroke="#222" stroke-width="0.3" vector-effect="non-scaling-stroke">923</text>
<text xml:space="preserve" x="225.29" y="940.68" font-size="9.74" text-anchor="middle" fill="#222" transform="scale(0.4604 1)" stroke="#222" stroke-width="0.3" vector-effect="non-scaling-stroke">3</text>
<text xml:space="preserve" x="287.67" y="940.68" font-size="9.74" text-anchor="middle" fill="#222" transform="scale(0.4604 1)" stroke="#222" stroke-width="0.3" vector-effect="non-scaling-stroke">B</text>
<text xml:space="preserve" x="341.89" y="940.68" font-size="9.74" text-anchor="middle" fill="#222" transform="scale(0.4604 1)" stroke="#222" stroke-width="0.3" vector-effect="non-scaling-stroke"> </text><text x="565.61" y="940.68" font-size="9.74" text-anchor="middle" fill="#222" transform="scale(0.2783 1)" stroke="#222" stroke-width="0.3" vector-effect="non-scaling-stroke">W</text>
<text xml:space="preserve" x="579.27 585.67 592.08 598.28 604.66 611.3 617.71 624.11" y="940.68" font-size="9.74" text-anchor="middle" fill="#222" transform="scale(0.4604 1)" stroke="#222" stroke-width="0.3" vector-effect="non-scaling-stroke">T  FL   </text><text x="706.61" y="940.68" font-size="9.74" text-anchor="middle" fill="#222" transform="scale(0.3816 1)" stroke="#222" stroke-width="0.3" vector-effect="non-scaling-stroke">O</text><text x="609.61" y="940.68" font-size="9.74" text-anchor="middle" fill="#222" transform="scale(0.4472 1)" stroke="#222" stroke-width="0.3" vector-effect="non-scaling-stroke">_</text><text x="737.53" y="940.68" font-size="9.74" text-anchor="middle" fill="#222" transform="scale(0.3816 1)" stroke="#222" stroke-width="0.3" vector-effect="non-scaling-stroke">O</text><text x="745.26" y="940.68" font-size="9.74" text-anchor="middle" fill="#222" transform="scale(0.3816 1)" stroke="#222" stroke-width="0.3" vector-effect="non-scaling-stroke">O</text><text x="654.78" y="940.68" font-size="9.74" text-anchor="middle" fill="#222" transform="scale(0.4388 1)" stroke="#222" stroke-width="0.3" vector-effect="non-scaling-stroke">R</text>
<text xml:space="preserve" x="729.8" y="940.68" font-size="9.74" text-anchor="middle" fill="#222" transform="scale(0.4604 1)" stroke="#222" stroke-width="0.3" vector-effect="non-scaling-stroke">3</text>
<text xml:space="preserve" x="787.76 794.17 800.57" y="940.68" font-size="9.74" text-anchor="middle" fill="#222" transform="scale(0.4604 1)" stroke="#222" stroke-width="0.3" vector-effect="non-scaling-stroke">   </text><text x="923.23" y="940.68" font-size="9.74" text-anchor="middle" fill="#222" transform="scale(0.3929 1)" stroke="#222" stroke-width="0.3" vector-effect="non-scaling-stroke">A</text><text x="923.88" y="940.68" font-size="9.74" text-anchor="middle" fill="#222" transform="scale(0.3958 1)" stroke="#222" stroke-width="0.3" vector-effect="non-scaling-stroke">V</text><text x="814.58" y="940.68" font-size="9.74" text-anchor="middle" fill="#222" transform="scale(0.4525 1)" stroke="#222" stroke-width="0.3" vector-effect="non-scaling-stroke">S</text>
<text xml:space="preserve" x="185.74 192.17 198.55" y="952.54" font-size="9.74" text-anchor="middle" fill="#222" transform="scale(0.4604 1)" stroke="#222" stroke-width="0.3" vector-effect="non-scaling-stroke">932</text>
<text xml:space="preserve" x="225.26 231.67 238.08" y="952.54" font-size="9.74" text-anchor="middle" fill="#222" transform="scale(0.4604 1)" stroke="#222" stroke-width="0.3" vector-effect="non-scaling-stroke">0.5</text>
<text xml:space="preserve" x="287.67" y="952.54" font-size="9.74" text-anchor="middle" fill="#222" transform="scale(0.4604 1)" stroke="#222" stroke-width="0.3" vector-effect="non-scaling-stroke">B</text>
<text xml:space="preserve" x="341.89" y="952.54" font-size="9.74" text-anchor="middle" fill="#222" transform="scale(0.4604 1)" stroke="#222" stroke-width="0.3" vector-effect="non-scaling-stroke"> </text><text x="565.61" y="952.54" font-size="9.74" text-anchor="middle" fill="#222" transform="scale(0.2783 1)" stroke="#222" stroke-width="0.3" vector-effect="non-scaling-stroke">W</text>
<text xml:space="preserve" x="579.27 585.67 592.08 598.49 604.75 611.3 617.7 624.11 630.33 636.69" y="952.54" font-size="9.74" text-anchor="middle" fill="#222" transform="scale(0.4604 1)" stroke="#222" stroke-width="0.3" vector-effect="non-scaling-stroke"> /  P NNEL</text><text x="678.88" y="952.54" font-size="9.74" text-anchor="middle" fill="#222" transform="scale(0.3929 1)" stroke="#222" stroke-width="0.3" vector-effect="non-scaling-stroke">A</text><text x="662.67" y="952.54" font-size="9.74" text-anchor="middle" fill="#222" transform="scale(0.4114 1)" stroke="#222" stroke-width="0.3" vector-effect="non-scaling-stroke">C</text><text x="616.2" y="952.54" font-size="9.74" text-anchor="middle" fill="#222" transform="scale(0.4472 1)" stroke="#222" stroke-width="0.3" vector-effect="non-scaling-stroke">_</text><text x="716.42" y="952.54" font-size="9.74" text-anchor="middle" fill="#222" transform="scale(0.3929 1)" stroke="#222" stroke-width="0.3" vector-effect="non-scaling-stroke">A</text>
<text xml:space="preserve" x="729.77 736.21" y="952.54" font-size="9.74" text-anchor="middle" fill="#222" transform="scale(0.4604 1)" stroke="#222" stroke-width="0.3" vector-effect="non-scaling-stroke">23</text>
<text xml:space="preserve" x="787.76 794.17 800.57 806.98" y="952.54" font-size="9.74" text-anchor="middle" fill="#222" transform="scale(0.4604 1)" stroke="#222" stroke-width="0.3" vector-effect="non-scaling-stroke">    </text><text x="881.69" y="952.54" font-size="9.74" text-anchor="middle" fill="#222" transform="scale(0.4114 1)" stroke="#222" stroke-width="0.3" vector-effect="non-scaling-stroke">C</text><text x="930.74" y="952.54" font-size="9.74" text-anchor="middle" fill="#222" transform="scale(0.3929 1)" stroke="#222" stroke-width="0.3" vector-effect="non-scaling-stroke">A</text><text x="931.33" y="952.54" font-size="9.74" text-anchor="middle" fill="#222" transform="scale(0.3958 1)" stroke="#222" stroke-width="0.3" vector-effect="non-scaling-stroke">V</text><text x="821.09" y="952.54" font-size="9.74" text-anchor="middle" fill="#222" transform="scale(0.4525 1)" stroke="#222" stroke-width="0.3" vector-effect="non-scaling-stroke">S</text>
<text xml:space="preserve" x="185.74 192.17 198.42" y="964.41" font-size="9.74" text-anchor="middle" fill="#222" transform="scale(0.4604 1)" stroke="#222" stroke-width="0.3" vector-effect="non-scaling-stroke">941</text>
<text xml:space="preserve" x="225.26" y="964.41" font-size="9.74" text-anchor="middle" fill="#222" transform="scale(0.4604 1)" stroke="#222" stroke-width="0.3" vector-effect="non-scaling-stroke">2</text>
<text xml:space="preserve" x="287.67" y="964.41" font-size="9.74" text-anchor="middle" fill="#222" transform="scale(0.4604 1)" stroke="#222" stroke-width="0.3" vector-effect="non-scaling-stroke">B</text>
<text xml:space="preserve" x="341.89" y="964.41" font-size="9.74" text-anchor="middle" fill="#222" transform="scale(0.4604 1)" stroke="#222" stroke-width="0.3" vector-effect="non-scaling-stroke"> </text><text x="565.61" y="964.41" font-size="9.74" text-anchor="middle" fill="#222" transform="scale(0.2783 1)" stroke="#222" stroke-width="0.3" vector-effect="non-scaling-stroke">W</text>
<text xml:space="preserve" x="579.27 585.67 592.08 598.49 604.89 611.3" y="964.41" font-size="9.74" text-anchor="middle" fill="#222" transform="scale(0.4604 1)" stroke="#222" stroke-width="0.3" vector-effect="non-scaling-stroke"> ly.HI</text><text x="607.72" y="964.41" font-size="9.74" text-anchor="middle" fill="#222" transform="scale(0.4388 1)" stroke="#222" stroke-width="0.3" vector-effect="non-scaling-stroke">R</text>
<text xml:space="preserve" x="729.78" y="964.41" font-size="9.74" text-anchor="middle" fill="#222" transform="scale(0.4604 1)" stroke="#222" stroke-width="0.3" vector-effect="non-scaling-stroke">5</text>
<text xml:space="preserve" x="787.76 794.17 800.57" y="964.41" font-size="9.74" text-anchor="middle" fill="#222" transform="scale(0.4604 1)" stroke="#222" stroke-width="0.3" vector-effect="non-scaling-stroke">   </text><text x="923.23" y="964.41" font-size="9.74" text-anchor="middle" fill="#222" transform="scale(0.3929 1)" stroke="#222" stroke-width="0.3" vector-effect="non-scaling-stroke">A</text><text x="923.88" y="964.41" font-size="9.74" text-anchor="middle" fill="#222" transform="scale(0.3958 1)" stroke="#222" stroke-width="0.3" vector-effect="non-scaling-stroke">V</text><text x="814.58" y="964.41" font-size="9.74" text-anchor="middle" fill="#222" transform="scale(0.4525 1)" stroke="#222" stroke-width="0.3" vector-effect="non-scaling-stroke">S</text>
<text xml:space="preserve" x="185.74 192.17 198.55" y="976.28" font-size="9.74" text-anchor="middle" fill="#222" transform="scale(0.4604 1)" stroke="#222" stroke-width="0.3" vector-effect="non-scaling-stroke">942</text>
<text xml:space="preserve" x="225.26" y="976.28" font-size="9.74" text-anchor="middle" fill="#222" transform="scale(0.4604 1)" stroke="#222" stroke-width="0.3" vector-effect="non-scaling-stroke">2</text>
<text xml:space="preserve" x="287.67" y="976.28" font-size="9.74" text-anchor="middle" fill="#222" transform="scale(0.4604 1)" stroke="#222" stroke-width="0.3" vector-effect="non-scaling-stroke">B</text>
<text xml:space="preserve" x="341.89" y="976.28" font-size="9.74" text-anchor="middle" fill="#222" transform="scale(0.4604 1)" stroke="#222" stroke-width="0.3" vector-effect="non-scaling-stroke"> </text><text x="565.61" y="976.28" font-size="9.74" text-anchor="middle" fill="#222" transform="scale(0.2783 1)" stroke="#222" stroke-width="0.3" vector-effect="non-scaling-stroke">W</text>
<text xml:space="preserve" x="579.27 585.67 592.08 598.49 604.89 611.3" y="976.28" font-size="9.74" text-anchor="middle" fill="#222" transform="scale(0.4604 1)" stroke="#222" stroke-width="0.3" vector-effect="non-scaling-stroke"> ly. H</text><text x="607.72" y="976.28" font-size="9.74" text-anchor="middle" fill="#222" transform="scale(0.4388 1)" stroke="#222" stroke-width="0.3" vector-effect="non-scaling-stroke">R</text><text x="715.18" y="976.28" font-size="9.74" text-anchor="middle" fill="#222" transform="scale(0.3894 1)" stroke="#222" stroke-width="0.3" vector-effect="non-scaling-stroke">M</text>
<text xml:space="preserve" x="729.78" y="976.28" font-size="9.74" text-anchor="middle" fill="#222" transform="scale(0.4604 1)" stroke="#222" stroke-width="0.3" vector-effect="non-scaling-stroke">5</text>
<text xml:space="preserve" x="787.76 794.17 800.57" y="976.28" font-size="9.74" text-anchor="middle" fill="#222" transform="scale(0.4604 1)" stroke="#222" stroke-width="0.3" vector-effect="non-scaling-stroke">   </text><text x="923.23" y="976.28" font-size="9.74" text-anchor="middle" fill="#222" transform="scale(0.3929 1)" stroke="#222" stroke-width="0.3" vector-effect="non-scaling-stroke">A</text><text x="923.88" y="976.28" font-size="9.74" text-anchor="middle" fill="#222" transform="scale(0.3958 1)" stroke="#222" stroke-width="0.3" vector-effect="non-scaling-stroke">V</text><text x="814.58" y="976.28" font-size="9.74" text-anchor="middle" fill="#222" transform="scale(0.4525 1)" stroke="#222" stroke-width="0.3" vector-effect="non-scaling-stroke">S</text>
<text xml:space="preserve" x="185.74 192.17 198.58" y="988.15" font-size="9.74" text-anchor="middle" fill="#222" transform="scale(0.4604 1)" stroke="#222" stroke-width="0.3" vector-effect="non-scaling-stroke">943</text>
<text xml:space="preserve" x="225.26" y="988.15" font-size="9.74" text-anchor="middle" fill="#222" transform="scale(0.4604 1)" stroke="#222" stroke-width="0.3" vector-effect="non-scaling-stroke">2</text>
<text xml:space="preserve" x="287.67" y="988.15" font-size="9.74" text-anchor="middle" fill="#222" transform="scale(0.4604 1)" stroke="#222" stroke-width="0.3" vector-effect="non-scaling-stroke">B</text>
<text xml:space="preserve" x="341.89" y="988.15" font-size="9.74" text-anchor="middle" fill="#222" transform="scale(0.4604 1)" stroke="#222" stroke-width="0.3" vector-effect="non-scaling-stroke"> </text><text x="565.61" y="988.15" font-size="9.74" text-anchor="middle" fill="#222" transform="scale(0.2783 1)" stroke="#222" stroke-width="0.3" vector-effect="non-scaling-stroke">W</text>
<text xml:space="preserve" x="579.27 585.67 592.08 598.49 604.89 611.06" y="988.15" font-size="9.74" text-anchor="middle" fill="#222" transform="scale(0.4604 1)" stroke="#222" stroke-width="0.3" vector-effect="non-scaling-stroke"> ly. L</text><text x="607.72" y="988.15" font-size="9.74" text-anchor="middle" fill="#222" transform="scale(0.4388 1)" stroke="#222" stroke-width="0.3" vector-effect="non-scaling-stroke">R</text><text x="715.18" y="988.15" font-size="9.74" text-anchor="middle" fill="#222" transform="scale(0.3894 1)" stroke="#222" stroke-width="0.3" vector-effect="non-scaling-stroke">M</text>
<text xml:space="preserve" x="729.78" y="988.15" font-size="9.74" text-anchor="middle" fill="#222" transform="scale(0.4604 1)" stroke="#222" stroke-width="0.3" vector-effect="non-scaling-stroke">5</text>
<text xml:space="preserve" x="787.76 794.17 800.57" y="988.15" font-size="9.74" text-anchor="middle" fill="#222" transform="scale(0.4604 1)" stroke="#222" stroke-width="0.3" vector-effect="non-scaling-stroke">   </text><text x="923.23" y="988.15" font-size="9.74" text-anchor="middle" fill="#222" transform="scale(0.3929 1)" stroke="#222" stroke-width="0.3" vector-effect="non-scaling-stroke">A</text><text x="923.88" y="988.15" font-size="9.74" text-anchor="middle" fill="#222" transform="scale(0.3958 1)" stroke="#222" stroke-width="0.3" vector-effect="non-scaling-stroke">V</text><text x="814.58" y="988.15" font-size="9.74" text-anchor="middle" fill="#222" transform="scale(0.4525 1)" stroke="#222" stroke-width="0.3" vector-effect="non-scaling-stroke">S</text>
<text xml:space="preserve" x="185.74 192.17 198.58" y="1000.02" font-size="9.74" text-anchor="middle" fill="#222" transform="scale(0.4604 1)" stroke="#222" stroke-width="0.3" vector-effect="non-scaling-stroke">944</text>
<text xml:space="preserve" x="225.26" y="1000.02" font-size="9.74" text-anchor="middle" fill="#222" transform="scale(0.4604 1)" stroke="#222" stroke-width="0.3" vector-effect="non-scaling-stroke">2</text>
<text xml:space="preserve" x="287.67" y="1000.02" font-size="9.74" text-anchor="middle" fill="#222" transform="scale(0.4604 1)" stroke="#222" stroke-width="0.3" vector-effect="non-scaling-stroke">B</text>
<text xml:space="preserve" x="341.89" y="1000.02" font-size="9.74" text-anchor="middle" fill="#222" transform="scale(0.4604 1)" stroke="#222" stroke-width="0.3" vector-effect="non-scaling-stroke"> </text><text x="565.61" y="1000.02" font-size="9.74" text-anchor="middle" fill="#222" transform="scale(0.2783 1)" stroke="#222" stroke-width="0.3" vector-effect="non-scaling-stroke">W</text>
<text xml:space="preserve" x="579.27 585.67 592.08 598.49 604.66 611.3" y="1000.02" font-size="9.74" text-anchor="middle" fill="#222" transform="scale(0.4604 1)" stroke="#222" stroke-width="0.3" vector-effect="non-scaling-stroke"> ly.L </text><text x="607.72" y="1000.02" font-size="9.74" text-anchor="middle" fill="#222" transform="scale(0.4388 1)" stroke="#222" stroke-width="0.3" vector-effect="non-scaling-stroke">R</text><text x="1011.32" y="1000.02" font-size="9.74" text-anchor="middle" fill="#222" transform="scale(0.2783 1)" stroke="#222" stroke-width="0.3" vector-effect="non-scaling-stroke">W</text>
<text xml:space="preserve" x="729.78" y="1000.02" font-size="9.74" text-anchor="middle" fill="#222" transform="scale(0.4604 1)" stroke="#222" stroke-width="0.3" vector-effect="non-scaling-stroke">5</text>
<text xml:space="preserve" x="787.76 794.17 800.57" y="1000.02" font-size="9.74" text-anchor="middle" fill="#222" transform="scale(0.4604 1)" stroke="#222" stroke-width="0.3" vector-effect="non-scaling-stroke">   </text><text x="923.23" y="1000.02" font-size="9.74" text-anchor="middle" fill="#222" transform="scale(0.3929 1)" stroke="#222" stroke-width="0.3" vector-effect="non-scaling-stroke">A</text><text x="923.88" y="1000.02" font-size="9.74" text-anchor="middle" fill="#222" transform="scale(0.3958 1)" stroke="#222" stroke-width="0.3" vector-effect="non-scaling-stroke">V</text><text x="814.58" y="1000.02" font-size="9.74" text-anchor="middle" fill="#222" transform="scale(0.4525 1)" stroke="#222" stroke-width="0.3" vector-effect="non-scaling-stroke">S</text></svg></body></html>
